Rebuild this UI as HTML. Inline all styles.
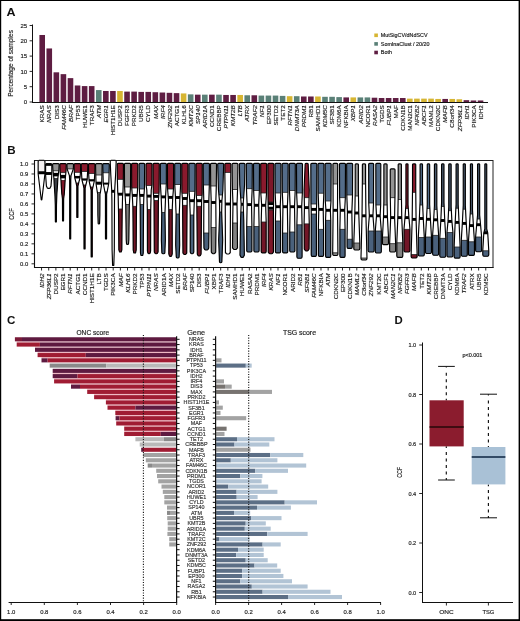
<!DOCTYPE html>
<html><head><meta charset="utf-8"><title>Figure</title>
<style>html,body{margin:0;padding:0;background:#fff;width:520px;height:621px;overflow:hidden;font-family:"Liberation Sans", sans-serif;} svg{display:block;will-change:transform;}</style>
</head><body>
<svg width="520" height="621" viewBox="0 0 520 621" font-family='"Liberation Sans", sans-serif'><rect width="520" height="621" fill="#fff"/><g id="panelA">
<text transform="translate(6.50,15.60) scale(1.12,1)" font-size="11.2" font-weight="bold" fill="#111">A</text>
<rect x="39.40" y="34.99" width="5.6" height="67.01" fill="#5e1d42"/>
<rect x="46.47" y="48.45" width="5.6" height="53.55" fill="#5e1d42"/>
<rect x="53.54" y="72.32" width="5.6" height="29.68" fill="#5e1d42"/>
<rect x="60.61" y="74.15" width="5.6" height="27.85" fill="#5e1d42"/>
<rect x="67.68" y="78.13" width="5.6" height="23.87" fill="#5e1d42"/>
<rect x="74.75" y="85.48" width="5.6" height="16.52" fill="#5e1d42"/>
<rect x="81.82" y="86.09" width="5.6" height="15.91" fill="#5e1d42"/>
<rect x="88.89" y="86.09" width="5.6" height="15.91" fill="#5e1d42"/>
<rect x="95.96" y="90.07" width="5.6" height="11.93" fill="#5a8077"/>
<rect x="103.03" y="90.98" width="5.6" height="11.02" fill="#5e1d42"/>
<rect x="110.10" y="90.98" width="5.6" height="11.02" fill="#5e1d42"/>
<rect x="117.17" y="90.98" width="5.6" height="11.02" fill="#d6b532"/>
<rect x="124.24" y="91.60" width="5.6" height="10.40" fill="#5e1d42"/>
<rect x="131.31" y="91.60" width="5.6" height="10.40" fill="#5e1d42"/>
<rect x="138.38" y="91.90" width="5.6" height="10.10" fill="#5e1d42"/>
<rect x="145.45" y="91.90" width="5.6" height="10.10" fill="#5e1d42"/>
<rect x="152.52" y="92.21" width="5.6" height="9.79" fill="#5e1d42"/>
<rect x="159.59" y="92.51" width="5.6" height="9.49" fill="#5e1d42"/>
<rect x="166.66" y="92.82" width="5.6" height="9.18" fill="#5e1d42"/>
<rect x="173.73" y="93.13" width="5.6" height="8.87" fill="#5e1d42"/>
<rect x="180.80" y="93.43" width="5.6" height="8.57" fill="#d6b532"/>
<rect x="187.87" y="94.35" width="5.6" height="7.65" fill="#5a8077"/>
<rect x="194.94" y="94.66" width="5.6" height="7.34" fill="#5e1d42"/>
<rect x="202.01" y="94.66" width="5.6" height="7.34" fill="#5a8077"/>
<rect x="209.08" y="94.66" width="5.6" height="7.34" fill="#5e1d42"/>
<rect x="216.15" y="94.66" width="5.6" height="7.34" fill="#5a8077"/>
<rect x="223.22" y="94.96" width="5.6" height="7.04" fill="#5e1d42"/>
<rect x="230.29" y="94.96" width="5.6" height="7.04" fill="#5e1d42"/>
<rect x="237.36" y="94.96" width="5.6" height="7.04" fill="#d6b532"/>
<rect x="244.43" y="95.27" width="5.6" height="6.73" fill="#5a8077"/>
<rect x="251.50" y="95.27" width="5.6" height="6.73" fill="#5e1d42"/>
<rect x="258.57" y="95.57" width="5.6" height="6.43" fill="#5a8077"/>
<rect x="265.64" y="95.57" width="5.6" height="6.43" fill="#5a8077"/>
<rect x="272.71" y="95.57" width="5.6" height="6.43" fill="#5a8077"/>
<rect x="279.78" y="95.88" width="5.6" height="6.12" fill="#5a8077"/>
<rect x="286.85" y="96.19" width="5.6" height="5.81" fill="#d6b532"/>
<rect x="293.92" y="96.19" width="5.6" height="5.81" fill="#5a8077"/>
<rect x="300.99" y="96.49" width="5.6" height="5.51" fill="#5e1d42"/>
<rect x="308.06" y="96.49" width="5.6" height="5.51" fill="#5e1d42"/>
<rect x="315.13" y="96.49" width="5.6" height="5.51" fill="#d6b532"/>
<rect x="322.20" y="96.80" width="5.6" height="5.20" fill="#5a8077"/>
<rect x="329.27" y="96.80" width="5.6" height="5.20" fill="#5a8077"/>
<rect x="336.34" y="97.10" width="5.6" height="4.90" fill="#5a8077"/>
<rect x="343.41" y="97.41" width="5.6" height="4.59" fill="#5e1d42"/>
<rect x="350.48" y="97.41" width="5.6" height="4.59" fill="#d6b532"/>
<rect x="357.55" y="97.41" width="5.6" height="4.59" fill="#5a8077"/>
<rect x="364.62" y="97.41" width="5.6" height="4.59" fill="#5a8077"/>
<rect x="371.69" y="97.72" width="5.6" height="4.28" fill="#5e1d42"/>
<rect x="378.76" y="98.02" width="5.6" height="3.98" fill="#5e1d42"/>
<rect x="385.83" y="98.02" width="5.6" height="3.98" fill="#5e1d42"/>
<rect x="392.90" y="98.02" width="5.6" height="3.98" fill="#5e1d42"/>
<rect x="399.97" y="98.02" width="5.6" height="3.98" fill="#5e1d42"/>
<rect x="407.04" y="98.63" width="5.6" height="3.37" fill="#d6b532"/>
<rect x="414.11" y="98.63" width="5.6" height="3.37" fill="#d6b532"/>
<rect x="421.18" y="98.63" width="5.6" height="3.37" fill="#d6b532"/>
<rect x="428.25" y="98.63" width="5.6" height="3.37" fill="#d6b532"/>
<rect x="435.32" y="98.94" width="5.6" height="3.06" fill="#d6b532"/>
<rect x="442.39" y="98.94" width="5.6" height="3.06" fill="#5e1d42"/>
<rect x="449.46" y="98.94" width="5.6" height="3.06" fill="#d6b532"/>
<rect x="456.53" y="99.25" width="5.6" height="2.75" fill="#d6b532"/>
<rect x="463.60" y="100.16" width="5.6" height="1.84" fill="#5e1d42"/>
<rect x="470.67" y="100.47" width="5.6" height="1.53" fill="#5e1d42"/>
<rect x="477.74" y="100.47" width="5.6" height="1.53" fill="#5e1d42"/>
<line x1="32.5" y1="24.5" x2="32.5" y2="103" stroke="#111" stroke-width="1"/>
<line x1="32" y1="102.5" x2="488" y2="102.5" stroke="#111" stroke-width="1"/>
<line x1="29.6" y1="102.00" x2="32.5" y2="102.00" stroke="#111" stroke-width="0.9"/>
<text transform="translate(27.20,104.10)" font-size="6" text-anchor="end" fill="#1c1c1c" stroke="#1c1c1c" stroke-width="0.16">0</text>
<line x1="29.6" y1="86.70" x2="32.5" y2="86.70" stroke="#111" stroke-width="0.9"/>
<text transform="translate(27.20,88.80)" font-size="6" text-anchor="end" fill="#1c1c1c" stroke="#1c1c1c" stroke-width="0.16">5</text>
<line x1="29.6" y1="71.40" x2="32.5" y2="71.40" stroke="#111" stroke-width="0.9"/>
<text transform="translate(27.20,73.50)" font-size="6" text-anchor="end" fill="#1c1c1c" stroke="#1c1c1c" stroke-width="0.16">10</text>
<line x1="29.6" y1="56.10" x2="32.5" y2="56.10" stroke="#111" stroke-width="0.9"/>
<text transform="translate(27.20,58.20)" font-size="6" text-anchor="end" fill="#1c1c1c" stroke="#1c1c1c" stroke-width="0.16">15</text>
<line x1="29.6" y1="40.80" x2="32.5" y2="40.80" stroke="#111" stroke-width="0.9"/>
<text transform="translate(27.20,42.90)" font-size="6" text-anchor="end" fill="#1c1c1c" stroke="#1c1c1c" stroke-width="0.16">20</text>
<line x1="29.6" y1="25.50" x2="32.5" y2="25.50" stroke="#111" stroke-width="0.9"/>
<text transform="translate(27.20,27.60)" font-size="6" text-anchor="end" fill="#1c1c1c" stroke="#1c1c1c" stroke-width="0.16">25</text>
<text transform="translate(13.20,63.40) rotate(-90) scale(1.035,1)" font-size="6.3" text-anchor="middle" fill="#1c1c1c" stroke="#1c1c1c" stroke-width="0.16">Percentage of samples</text>
<text transform="translate(44.40,105.20) rotate(-90) scale(1.02,1)" font-size="6.2" text-anchor="end" fill="#1c1c1c" stroke="#1c1c1c" stroke-width="0.16">KRAS</text>
<text transform="translate(51.47,105.20) rotate(-90) scale(1.02,1)" font-size="6.2" font-style="italic" text-anchor="end" fill="#1c1c1c" stroke="#1c1c1c" stroke-width="0.16">NRAS</text>
<text transform="translate(58.54,105.20) rotate(-90) scale(1.02,1)" font-size="6.2" text-anchor="end" fill="#1c1c1c" stroke="#1c1c1c" stroke-width="0.16">DIS3</text>
<text transform="translate(65.61,105.20) rotate(-90) scale(1.02,1)" font-size="6.2" font-style="italic" text-anchor="end" fill="#1c1c1c" stroke="#1c1c1c" stroke-width="0.16">FAM46C</text>
<text transform="translate(72.68,105.20) rotate(-90) scale(1.02,1)" font-size="6.2" font-style="italic" text-anchor="end" fill="#1c1c1c" stroke="#1c1c1c" stroke-width="0.16">BRAF</text>
<text transform="translate(79.75,105.20) rotate(-90) scale(1.02,1)" font-size="6.2" text-anchor="end" fill="#1c1c1c" stroke="#1c1c1c" stroke-width="0.16">TP53</text>
<text transform="translate(86.82,105.20) rotate(-90) scale(1.02,1)" font-size="6.2" text-anchor="end" fill="#1c1c1c" stroke="#1c1c1c" stroke-width="0.16">HUWE1</text>
<text transform="translate(93.89,105.20) rotate(-90) scale(1.02,1)" font-size="6.2" text-anchor="end" fill="#1c1c1c" stroke="#1c1c1c" stroke-width="0.16">TRAF3</text>
<text transform="translate(100.96,105.20) rotate(-90) scale(1.02,1)" font-size="6.2" font-style="italic" text-anchor="end" fill="#1c1c1c" stroke="#1c1c1c" stroke-width="0.16">ATM</text>
<text transform="translate(108.03,105.20) rotate(-90) scale(1.02,1)" font-size="6.2" font-style="italic" text-anchor="end" fill="#1c1c1c" stroke="#1c1c1c" stroke-width="0.16">EGR1</text>
<text transform="translate(115.10,105.20) rotate(-90) scale(1.02,1)" font-size="6.2" text-anchor="end" fill="#1c1c1c" stroke="#1c1c1c" stroke-width="0.16">HIST1H1E</text>
<text transform="translate(122.17,105.20) rotate(-90) scale(1.02,1)" font-size="6.2" text-anchor="end" fill="#1c1c1c" stroke="#1c1c1c" stroke-width="0.16">DUSP2</text>
<text transform="translate(129.24,105.20) rotate(-90) scale(1.02,1)" font-size="6.2" text-anchor="end" fill="#1c1c1c" stroke="#1c1c1c" stroke-width="0.16">FGFR3</text>
<text transform="translate(136.31,105.20) rotate(-90) scale(1.02,1)" font-size="6.2" text-anchor="end" fill="#1c1c1c" stroke="#1c1c1c" stroke-width="0.16">PRKD2</text>
<text transform="translate(143.38,105.20) rotate(-90) scale(1.02,1)" font-size="6.2" text-anchor="end" fill="#1c1c1c" stroke="#1c1c1c" stroke-width="0.16">UBR5</text>
<text transform="translate(150.45,105.20) rotate(-90) scale(1.02,1)" font-size="6.2" text-anchor="end" fill="#1c1c1c" stroke="#1c1c1c" stroke-width="0.16">CYLD</text>
<text transform="translate(157.52,105.20) rotate(-90) scale(1.02,1)" font-size="6.2" font-style="italic" text-anchor="end" fill="#1c1c1c" stroke="#1c1c1c" stroke-width="0.16">MAX</text>
<text transform="translate(164.59,105.20) rotate(-90) scale(1.02,1)" font-size="6.2" font-style="italic" text-anchor="end" fill="#1c1c1c" stroke="#1c1c1c" stroke-width="0.16">IRF4</text>
<text transform="translate(171.66,105.20) rotate(-90) scale(1.02,1)" font-size="6.2" font-style="italic" text-anchor="end" fill="#1c1c1c" stroke="#1c1c1c" stroke-width="0.16">ZNF292</text>
<text transform="translate(178.73,105.20) rotate(-90) scale(1.02,1)" font-size="6.2" text-anchor="end" fill="#1c1c1c" stroke="#1c1c1c" stroke-width="0.16">ACTG1</text>
<text transform="translate(185.80,105.20) rotate(-90) scale(1.02,1)" font-size="6.2" text-anchor="end" fill="#1c1c1c" stroke="#1c1c1c" stroke-width="0.16">KLHL6</text>
<text transform="translate(192.87,105.20) rotate(-90) scale(1.02,1)" font-size="6.2" font-style="italic" text-anchor="end" fill="#1c1c1c" stroke="#1c1c1c" stroke-width="0.16">KMT2C</text>
<text transform="translate(199.94,105.20) rotate(-90) scale(1.02,1)" font-size="6.2" font-style="italic" text-anchor="end" fill="#1c1c1c" stroke="#1c1c1c" stroke-width="0.16">SP140</text>
<text transform="translate(207.01,105.20) rotate(-90) scale(1.02,1)" font-size="6.2" font-style="italic" text-anchor="end" fill="#1c1c1c" stroke="#1c1c1c" stroke-width="0.16">ARID1A</text>
<text transform="translate(214.08,105.20) rotate(-90) scale(1.02,1)" font-size="6.2" text-anchor="end" fill="#1c1c1c" stroke="#1c1c1c" stroke-width="0.16">CCND1</text>
<text transform="translate(221.15,105.20) rotate(-90) scale(1.02,1)" font-size="6.2" text-anchor="end" fill="#1c1c1c" stroke="#1c1c1c" stroke-width="0.16">CREBBP</text>
<text transform="translate(228.22,105.20) rotate(-90) scale(1.02,1)" font-size="6.2" font-style="italic" text-anchor="end" fill="#1c1c1c" stroke="#1c1c1c" stroke-width="0.16">PTPN11</text>
<text transform="translate(235.29,105.20) rotate(-90) scale(1.02,1)" font-size="6.2" font-style="italic" text-anchor="end" fill="#1c1c1c" stroke="#1c1c1c" stroke-width="0.16">KMT2B</text>
<text transform="translate(242.36,105.20) rotate(-90) scale(1.02,1)" font-size="6.2" font-style="italic" text-anchor="end" fill="#1c1c1c" stroke="#1c1c1c" stroke-width="0.16">LTB</text>
<text transform="translate(249.43,105.20) rotate(-90) scale(1.02,1)" font-size="6.2" font-style="italic" text-anchor="end" fill="#1c1c1c" stroke="#1c1c1c" stroke-width="0.16">ATRX</text>
<text transform="translate(256.50,105.20) rotate(-90) scale(1.02,1)" font-size="6.2" font-style="italic" text-anchor="end" fill="#1c1c1c" stroke="#1c1c1c" stroke-width="0.16">TRAF2</text>
<text transform="translate(263.57,105.20) rotate(-90) scale(1.02,1)" font-size="6.2" font-style="italic" text-anchor="end" fill="#1c1c1c" stroke="#1c1c1c" stroke-width="0.16">NF1</text>
<text transform="translate(270.64,105.20) rotate(-90) scale(1.02,1)" font-size="6.2" text-anchor="end" fill="#1c1c1c" stroke="#1c1c1c" stroke-width="0.16">EP300</text>
<text transform="translate(277.71,105.20) rotate(-90) scale(1.02,1)" font-size="6.2" text-anchor="end" fill="#1c1c1c" stroke="#1c1c1c" stroke-width="0.16">SETD2</text>
<text transform="translate(284.78,105.20) rotate(-90) scale(1.02,1)" font-size="6.2" text-anchor="end" fill="#1c1c1c" stroke="#1c1c1c" stroke-width="0.16">TET2</text>
<text transform="translate(291.85,105.20) rotate(-90) scale(1.02,1)" font-size="6.2" font-style="italic" text-anchor="end" fill="#1c1c1c" stroke="#1c1c1c" stroke-width="0.16">RFTN1</text>
<text transform="translate(298.92,105.20) rotate(-90) scale(1.02,1)" font-size="6.2" font-style="italic" text-anchor="end" fill="#1c1c1c" stroke="#1c1c1c" stroke-width="0.16">DNMT3A</text>
<text transform="translate(305.99,105.20) rotate(-90) scale(1.02,1)" font-size="6.2" font-style="italic" text-anchor="end" fill="#1c1c1c" stroke="#1c1c1c" stroke-width="0.16">PRDM1</text>
<text transform="translate(313.06,105.20) rotate(-90) scale(1.02,1)" font-size="6.2" text-anchor="end" fill="#1c1c1c" stroke="#1c1c1c" stroke-width="0.16">RB1</text>
<text transform="translate(320.13,105.20) rotate(-90) scale(1.02,1)" font-size="6.2" text-anchor="end" fill="#1c1c1c" stroke="#1c1c1c" stroke-width="0.16">SAMHD1</text>
<text transform="translate(327.20,105.20) rotate(-90) scale(1.02,1)" font-size="6.2" font-style="italic" text-anchor="end" fill="#1c1c1c" stroke="#1c1c1c" stroke-width="0.16">KDM5C</text>
<text transform="translate(334.27,105.20) rotate(-90) scale(1.02,1)" font-size="6.2" text-anchor="end" fill="#1c1c1c" stroke="#1c1c1c" stroke-width="0.16">SF3B1</text>
<text transform="translate(341.34,105.20) rotate(-90) scale(1.02,1)" font-size="6.2" text-anchor="end" fill="#1c1c1c" stroke="#1c1c1c" stroke-width="0.16">KDM6A</text>
<text transform="translate(348.41,105.20) rotate(-90) scale(1.02,1)" font-size="6.2" text-anchor="end" fill="#1c1c1c" stroke="#1c1c1c" stroke-width="0.16">NFKBIA</text>
<text transform="translate(355.48,105.20) rotate(-90) scale(1.02,1)" font-size="6.2" font-style="italic" text-anchor="end" fill="#1c1c1c" stroke="#1c1c1c" stroke-width="0.16">XBP1</text>
<text transform="translate(362.55,105.20) rotate(-90) scale(1.02,1)" font-size="6.2" font-style="italic" text-anchor="end" fill="#1c1c1c" stroke="#1c1c1c" stroke-width="0.16">ARID2</text>
<text transform="translate(369.62,105.20) rotate(-90) scale(1.02,1)" font-size="6.2" text-anchor="end" fill="#1c1c1c" stroke="#1c1c1c" stroke-width="0.16">NCOR1</text>
<text transform="translate(376.69,105.20) rotate(-90) scale(1.02,1)" font-size="6.2" font-style="italic" text-anchor="end" fill="#1c1c1c" stroke="#1c1c1c" stroke-width="0.16">RASA2</text>
<text transform="translate(383.76,105.20) rotate(-90) scale(1.02,1)" font-size="6.2" text-anchor="end" fill="#1c1c1c" stroke="#1c1c1c" stroke-width="0.16">TGDS</text>
<text transform="translate(390.83,105.20) rotate(-90) scale(1.02,1)" font-size="6.2" font-style="italic" text-anchor="end" fill="#1c1c1c" stroke="#1c1c1c" stroke-width="0.16">FUBP1</text>
<text transform="translate(397.90,105.20) rotate(-90) scale(1.02,1)" font-size="6.2" text-anchor="end" fill="#1c1c1c" stroke="#1c1c1c" stroke-width="0.16">MAF</text>
<text transform="translate(404.97,105.20) rotate(-90) scale(1.02,1)" font-size="6.2" text-anchor="end" fill="#1c1c1c" stroke="#1c1c1c" stroke-width="0.16">CDKN1B</text>
<text transform="translate(412.04,105.20) rotate(-90) scale(1.02,1)" font-size="6.2" text-anchor="end" fill="#1c1c1c" stroke="#1c1c1c" stroke-width="0.16">MAN2C1</text>
<text transform="translate(419.11,105.20) rotate(-90) scale(1.02,1)" font-size="6.2" font-style="italic" text-anchor="end" fill="#1c1c1c" stroke="#1c1c1c" stroke-width="0.16">NFKB2</text>
<text transform="translate(426.18,105.20) rotate(-90) scale(1.02,1)" font-size="6.2" font-style="italic" text-anchor="end" fill="#1c1c1c" stroke="#1c1c1c" stroke-width="0.16">ABCF1</text>
<text transform="translate(433.25,105.20) rotate(-90) scale(1.02,1)" font-size="6.2" text-anchor="end" fill="#1c1c1c" stroke="#1c1c1c" stroke-width="0.16">MAML2</text>
<text transform="translate(440.32,105.20) rotate(-90) scale(1.02,1)" font-size="6.2" text-anchor="end" fill="#1c1c1c" stroke="#1c1c1c" stroke-width="0.16">CDKN2C</text>
<text transform="translate(447.39,105.20) rotate(-90) scale(1.02,1)" font-size="6.2" font-style="italic" text-anchor="end" fill="#1c1c1c" stroke="#1c1c1c" stroke-width="0.16">MAFB</text>
<text transform="translate(454.46,105.20) rotate(-90) scale(1.02,1)" font-size="6.2" text-anchor="end" fill="#1c1c1c" stroke="#1c1c1c" stroke-width="0.16">C8orf34</text>
<text transform="translate(461.53,105.20) rotate(-90) scale(1.02,1)" font-size="6.2" font-style="italic" text-anchor="end" fill="#1c1c1c" stroke="#1c1c1c" stroke-width="0.16">ZFP36L1</text>
<text transform="translate(468.60,105.20) rotate(-90) scale(1.02,1)" font-size="6.2" font-style="italic" text-anchor="end" fill="#1c1c1c" stroke="#1c1c1c" stroke-width="0.16">IDH1</text>
<text transform="translate(475.67,105.20) rotate(-90) scale(1.02,1)" font-size="6.2" text-anchor="end" fill="#1c1c1c" stroke="#1c1c1c" stroke-width="0.16">PIK3CA</text>
<text transform="translate(482.74,105.20) rotate(-90) scale(1.02,1)" font-size="6.2" text-anchor="end" fill="#1c1c1c" stroke="#1c1c1c" stroke-width="0.16">IDH2</text>
<rect x="374.3" y="33.50" width="3.6" height="3.6" fill="#d6b532"/>
<text transform="translate(380.80,37.10) scale(1.08,1)" font-size="5.0" fill="#1c1c1c" stroke="#1c1c1c" stroke-width="0.16">MutSigCV/dNdSCV</text>
<rect x="374.3" y="42.10" width="3.6" height="3.6" fill="#5a8077"/>
<text transform="translate(380.80,45.70) scale(1.08,1)" font-size="5.0" fill="#1c1c1c" stroke="#1c1c1c" stroke-width="0.16">SomInaClust / 20/20</text>
<rect x="374.3" y="50.70" width="3.6" height="3.6" fill="#5e1d42"/>
<text transform="translate(380.80,54.30) scale(1.08,1)" font-size="5.0" fill="#1c1c1c" stroke="#1c1c1c" stroke-width="0.16">Both</text>
</g>
<g id="panelB">
<text transform="translate(7.30,153.60)" font-size="11.6" font-weight="bold" fill="#111">B</text>
<clipPath id="vc0"><path d="M38.15,161.40 Q38.15,160.40 39.15,160.40 L43.95,160.40 Q44.95,160.40 44.95,161.40 L44.95,173.70 L41.85,199.72 Q41.85,199.90 41.55,199.90 Q41.25,199.90 41.25,199.72 L38.15,173.70 Z"/></clipPath>
<path d="M38.15,161.40 Q38.15,160.40 39.15,160.40 L43.95,160.40 Q44.95,160.40 44.95,161.40 L44.95,173.70 L41.85,199.72 Q41.85,199.90 41.55,199.90 Q41.25,199.90 41.25,199.72 L38.15,173.70 Z" fill="#f4f1f1"/>
<g clip-path="url(#vc0)">
<rect x="37.55" y="173.70" width="8" height="27.30" fill="#ffffff"/>
<rect x="37.55" y="173.30" width="8" height="0.8" fill="#222"/>
<rect x="37.55" y="200.60" width="8" height="0.8" fill="#222"/>
<rect x="37.55" y="171.25" width="8" height="2.9" fill="#000"/>
</g>
<path d="M38.15,161.40 Q38.15,160.40 39.15,160.40 L43.95,160.40 Q44.95,160.40 44.95,161.40 L44.95,173.70 L41.85,199.72 Q41.85,199.90 41.55,199.90 Q41.25,199.90 41.25,199.72 L38.15,173.70 Z" fill="none" stroke="#000" stroke-width="1.15"/>
<clipPath id="vc1"><path d="M45.61,164.60 Q45.61,163.60 46.61,163.60 L50.81,163.60 Q51.81,163.60 51.81,164.60 L51.81,175.00 L51.01,186.00 L50.31,187.40 Q50.31,188.30 49.41,188.30 L48.01,188.30 Q47.11,188.30 47.11,187.40 L46.41,186.00 L45.61,175.00 Z"/></clipPath>
<path d="M45.61,164.60 Q45.61,163.60 46.61,163.60 L50.81,163.60 Q51.81,163.60 51.81,164.60 L51.81,175.00 L51.01,186.00 L50.31,187.40 Q50.31,188.30 49.41,188.30 L48.01,188.30 Q47.11,188.30 47.11,187.40 L46.41,186.00 L45.61,175.00 Z" fill="#ffffff"/>
<g clip-path="url(#vc1)">
<rect x="44.71" y="172.05" width="8" height="2.9" fill="#000"/>
<rect x="44.71" y="162.95" width="8" height="2.9" fill="#000"/>
</g>
<path d="M45.61,164.60 Q45.61,163.60 46.61,163.60 L50.81,163.60 Q51.81,163.60 51.81,164.60 L51.81,175.00 L51.01,186.00 L50.31,187.40 Q50.31,188.30 49.41,188.30 L48.01,188.30 Q47.11,188.30 47.11,187.40 L46.41,186.00 L45.61,175.00 Z" fill="none" stroke="#000" stroke-width="1.15"/>
<clipPath id="vc2"><path d="M52.58,164.60 Q52.58,163.60 53.58,163.60 L58.18,163.60 Q59.18,163.60 59.18,164.60 L58.88,170.00 L57.88,178.00 L57.58,184.00 L56.88,194.00 L56.48,205.00 L56.38,221.70 Q56.38,222.00 55.88,222.00 Q55.38,222.00 55.38,221.70 L55.28,205.00 L54.88,194.00 L54.18,184.00 L53.88,178.00 L52.88,170.00 Z"/></clipPath>
<path d="M52.58,164.60 Q52.58,163.60 53.58,163.60 L58.18,163.60 Q59.18,163.60 59.18,164.60 L58.88,170.00 L57.88,178.00 L57.58,184.00 L56.88,194.00 L56.48,205.00 L56.38,221.70 Q56.38,222.00 55.88,222.00 Q55.38,222.00 55.38,221.70 L55.28,205.00 L54.88,194.00 L54.18,184.00 L53.88,178.00 L52.88,170.00 Z" fill="#949494"/>
<g clip-path="url(#vc2)">
<rect x="51.88" y="178.50" width="8" height="45.50" fill="#828282"/>
<rect x="51.88" y="170.80" width="8" height="7.70" fill="#ffffff"/>
<rect x="51.88" y="170.40" width="8" height="0.8" fill="#222"/>
<rect x="51.88" y="178.10" width="8" height="0.8" fill="#222"/>
<rect x="51.88" y="178.50" width="8" height="51.50" fill="#3a3d44"/>
<rect x="51.88" y="172.85" width="8" height="3.5" fill="#000"/>
</g>
<path d="M52.58,164.60 Q52.58,163.60 53.58,163.60 L58.18,163.60 Q59.18,163.60 59.18,164.60 L58.88,170.00 L57.88,178.00 L57.58,184.00 L56.88,194.00 L56.48,205.00 L56.38,221.70 Q56.38,222.00 55.88,222.00 Q55.38,222.00 55.38,221.70 L55.28,205.00 L54.88,194.00 L54.18,184.00 L53.88,178.00 L52.88,170.00 Z" fill="none" stroke="#000" stroke-width="1.15"/>
<clipPath id="vc3"><path d="M59.84,164.60 Q59.84,163.60 60.84,163.60 L65.25,163.60 Q66.25,163.60 66.25,164.60 L66.05,171.00 L65.14,180.00 L64.84,186.00 L64.25,194.00 L63.65,199.00 L63.55,220.70 Q63.55,221.00 63.05,221.00 Q62.55,221.00 62.55,220.70 L62.45,199.00 L61.84,194.00 L61.25,186.00 L60.95,180.00 L60.05,171.00 Z"/></clipPath>
<path d="M59.84,164.60 Q59.84,163.60 60.84,163.60 L65.25,163.60 Q66.25,163.60 66.25,164.60 L66.05,171.00 L65.14,180.00 L64.84,186.00 L64.25,194.00 L63.65,199.00 L63.55,220.70 Q63.55,221.00 63.05,221.00 Q62.55,221.00 62.55,220.70 L62.45,199.00 L61.84,194.00 L61.25,186.00 L60.95,180.00 L60.05,171.00 Z" fill="#8a1a2d"/>
<g clip-path="url(#vc3)">
<rect x="59.05" y="180.50" width="8" height="42.50" fill="#721627"/>
<rect x="59.05" y="172.70" width="8" height="7.80" fill="#ffffff"/>
<rect x="59.05" y="172.30" width="8" height="0.8" fill="#222"/>
<rect x="59.05" y="180.10" width="8" height="0.8" fill="#222"/>
<rect x="59.05" y="180.50" width="8" height="49.50" fill="#7d1729"/>
<rect x="59.05" y="174.85" width="8" height="3.5" fill="#000"/>
</g>
<path d="M59.84,164.60 Q59.84,163.60 60.84,163.60 L65.25,163.60 Q66.25,163.60 66.25,164.60 L66.05,171.00 L65.14,180.00 L64.84,186.00 L64.25,194.00 L63.65,199.00 L63.55,220.70 Q63.55,221.00 63.05,221.00 Q62.55,221.00 62.55,220.70 L62.45,199.00 L61.84,194.00 L61.25,186.00 L60.95,180.00 L60.05,171.00 Z" fill="none" stroke="#000" stroke-width="1.15"/>
<clipPath id="vc4"><path d="M66.91,164.60 Q66.91,163.60 67.91,163.60 L72.51,163.60 Q73.51,163.60 73.51,164.60 L73.31,169.00 L71.01,175.60 L70.76,180.00 L70.71,238.70 Q70.71,239.00 70.21,239.00 Q69.71,239.00 69.71,238.70 L69.66,180.00 L69.41,175.60 L67.11,169.00 Z"/></clipPath>
<path d="M66.91,164.60 Q66.91,163.60 67.91,163.60 L72.51,163.60 Q73.51,163.60 73.51,164.60 L73.31,169.00 L71.01,175.60 L70.76,180.00 L70.71,238.70 Q70.71,239.00 70.21,239.00 Q69.71,239.00 69.71,238.70 L69.66,180.00 L69.41,175.60 L67.11,169.00 Z" fill="#949494"/>
<g clip-path="url(#vc4)">
<rect x="66.21" y="176.00" width="8" height="65.00" fill="#828282"/>
<rect x="66.21" y="168.90" width="8" height="7.10" fill="#ffffff"/>
<rect x="66.21" y="168.50" width="8" height="0.8" fill="#222"/>
<rect x="66.21" y="175.60" width="8" height="0.8" fill="#222"/>
</g>
<path d="M66.91,164.60 Q66.91,163.60 67.91,163.60 L72.51,163.60 Q73.51,163.60 73.51,164.60 L73.31,169.00 L71.01,175.60 L70.76,180.00 L70.71,238.70 Q70.71,239.00 70.21,239.00 Q69.71,239.00 69.71,238.70 L69.66,180.00 L69.41,175.60 L67.11,169.00 Z" fill="none" stroke="#000" stroke-width="1.15"/>
<clipPath id="vc5"><path d="M74.08,164.60 Q74.08,163.60 75.08,163.60 L79.67,163.60 Q80.67,163.60 80.67,164.60 L80.47,172.00 L79.97,178.00 L78.88,182.00 L77.97,186.00 L77.92,217.17 Q77.92,217.50 77.38,217.50 Q76.83,217.50 76.83,217.17 L76.78,186.00 L75.88,182.00 L74.78,178.00 L74.28,172.00 Z"/></clipPath>
<path d="M74.08,164.60 Q74.08,163.60 75.08,163.60 L79.67,163.60 Q80.67,163.60 80.67,164.60 L80.47,172.00 L79.97,178.00 L78.88,182.00 L77.97,186.00 L77.92,217.17 Q77.92,217.50 77.38,217.50 Q76.83,217.50 76.83,217.17 L76.78,186.00 L75.88,182.00 L74.78,178.00 L74.28,172.00 Z" fill="#8a1a2d"/>
<g clip-path="url(#vc5)">
<rect x="73.38" y="183.00" width="8" height="36.50" fill="#721627"/>
<rect x="73.38" y="172.30" width="8" height="10.70" fill="#ffffff"/>
<rect x="73.38" y="171.90" width="8" height="0.8" fill="#222"/>
<rect x="73.38" y="182.60" width="8" height="0.8" fill="#222"/>
<rect x="73.38" y="175.95" width="8" height="2.5" fill="#000"/>
</g>
<path d="M74.08,164.60 Q74.08,163.60 75.08,163.60 L79.67,163.60 Q80.67,163.60 80.67,164.60 L80.47,172.00 L79.97,178.00 L78.88,182.00 L77.97,186.00 L77.92,217.17 Q77.92,217.50 77.38,217.50 Q76.83,217.50 76.83,217.17 L76.78,186.00 L75.88,182.00 L74.78,178.00 L74.28,172.00 Z" fill="none" stroke="#000" stroke-width="1.15"/>
<clipPath id="vc6"><path d="M81.24,164.60 Q81.24,163.60 82.24,163.60 L86.84,163.60 Q87.84,163.60 87.84,164.60 L87.64,171.00 L87.14,180.00 L85.94,184.50 L85.14,188.00 L85.09,248.67 Q85.09,249.00 84.54,249.00 Q83.99,249.00 83.99,248.67 L83.94,188.00 L83.14,184.50 L81.94,180.00 L81.44,171.00 Z"/></clipPath>
<path d="M81.24,164.60 Q81.24,163.60 82.24,163.60 L86.84,163.60 Q87.84,163.60 87.84,164.60 L87.64,171.00 L87.14,180.00 L85.94,184.50 L85.14,188.00 L85.09,248.67 Q85.09,249.00 84.54,249.00 Q83.99,249.00 83.99,248.67 L83.94,188.00 L83.14,184.50 L81.94,180.00 L81.44,171.00 Z" fill="#8a1a2d"/>
<g clip-path="url(#vc6)">
<rect x="80.54" y="185.00" width="8" height="66.00" fill="#721627"/>
<rect x="80.54" y="171.50" width="8" height="13.50" fill="#ffffff"/>
<rect x="80.54" y="171.10" width="8" height="0.8" fill="#222"/>
<rect x="80.54" y="184.60" width="8" height="0.8" fill="#222"/>
<rect x="80.54" y="178.40" width="8" height="2.2" fill="#000"/>
</g>
<path d="M81.24,164.60 Q81.24,163.60 82.24,163.60 L86.84,163.60 Q87.84,163.60 87.84,164.60 L87.64,171.00 L87.14,180.00 L85.94,184.50 L85.14,188.00 L85.09,248.67 Q85.09,249.00 84.54,249.00 Q83.99,249.00 83.99,248.67 L83.94,188.00 L83.14,184.50 L81.94,180.00 L81.44,171.00 Z" fill="none" stroke="#000" stroke-width="1.15"/>
<clipPath id="vc7"><path d="M88.41,164.60 Q88.41,163.60 89.41,163.60 L94.00,163.60 Q95.00,163.60 95.00,164.60 L94.80,173.00 L94.30,181.00 L93.11,186.50 L92.30,190.00 L92.25,256.67 Q92.25,257.00 91.70,257.00 Q91.16,257.00 91.16,256.67 L91.11,190.00 L90.30,186.50 L89.11,181.00 L88.61,173.00 Z"/></clipPath>
<path d="M88.41,164.60 Q88.41,163.60 89.41,163.60 L94.00,163.60 Q95.00,163.60 95.00,164.60 L94.80,173.00 L94.30,181.00 L93.11,186.50 L92.30,190.00 L92.25,256.67 Q92.25,257.00 91.70,257.00 Q91.16,257.00 91.16,256.67 L91.11,190.00 L90.30,186.50 L89.11,181.00 L88.61,173.00 Z" fill="#8a1a2d"/>
<g clip-path="url(#vc7)">
<rect x="87.70" y="187.00" width="8" height="72.00" fill="#721627"/>
<rect x="87.70" y="173.50" width="8" height="13.50" fill="#ffffff"/>
<rect x="87.70" y="173.10" width="8" height="0.8" fill="#222"/>
<rect x="87.70" y="186.60" width="8" height="0.8" fill="#222"/>
<rect x="87.70" y="179.20" width="8" height="2.2" fill="#000"/>
</g>
<path d="M88.41,164.60 Q88.41,163.60 89.41,163.60 L94.00,163.60 Q95.00,163.60 95.00,164.60 L94.80,173.00 L94.30,181.00 L93.11,186.50 L92.30,190.00 L92.25,256.67 Q92.25,257.00 91.70,257.00 Q91.16,257.00 91.16,256.67 L91.11,190.00 L90.30,186.50 L89.11,181.00 L88.61,173.00 Z" fill="none" stroke="#000" stroke-width="1.15"/>
<clipPath id="vc8"><path d="M95.57,164.60 Q95.57,163.60 96.57,163.60 L101.17,163.60 Q102.17,163.60 102.17,164.60 L101.97,175.00 L101.67,184.00 L100.47,192.00 L99.97,194.00 L99.87,215.00 L99.57,223.58 Q99.57,224.00 98.87,224.00 Q98.17,224.00 98.17,223.58 L97.87,215.00 L97.77,194.00 L97.27,192.00 L96.07,184.00 L95.77,175.00 Z"/></clipPath>
<path d="M95.57,164.60 Q95.57,163.60 96.57,163.60 L101.17,163.60 Q102.17,163.60 102.17,164.60 L101.97,175.00 L101.67,184.00 L100.47,192.00 L99.97,194.00 L99.87,215.00 L99.57,223.58 Q99.57,224.00 98.87,224.00 Q98.17,224.00 98.17,223.58 L97.87,215.00 L97.77,194.00 L97.27,192.00 L96.07,184.00 L95.77,175.00 Z" fill="#949494"/>
<g clip-path="url(#vc8)">
<rect x="94.87" y="192.60" width="8" height="33.40" fill="#828282"/>
<rect x="94.87" y="175.00" width="8" height="17.60" fill="#ffffff"/>
<rect x="94.87" y="174.60" width="8" height="0.8" fill="#222"/>
<rect x="94.87" y="192.20" width="8" height="0.8" fill="#222"/>
<rect x="94.87" y="181.70" width="8" height="3" fill="#000"/>
</g>
<path d="M95.57,164.60 Q95.57,163.60 96.57,163.60 L101.17,163.60 Q102.17,163.60 102.17,164.60 L101.97,175.00 L101.67,184.00 L100.47,192.00 L99.97,194.00 L99.87,215.00 L99.57,223.58 Q99.57,224.00 98.87,224.00 Q98.17,224.00 98.17,223.58 L97.87,215.00 L97.77,194.00 L97.27,192.00 L96.07,184.00 L95.77,175.00 Z" fill="none" stroke="#000" stroke-width="1.15"/>
<clipPath id="vc9"><path d="M102.73,164.60 Q102.73,163.60 103.73,163.60 L108.33,163.60 Q109.33,163.60 109.33,164.60 L109.13,172.00 L108.83,183.00 L107.23,191.50 L106.63,194.00 L106.58,238.67 Q106.58,239.00 106.03,239.00 Q105.48,239.00 105.48,238.67 L105.44,194.00 L104.83,191.50 L103.23,183.00 L102.94,172.00 Z"/></clipPath>
<path d="M102.73,164.60 Q102.73,163.60 103.73,163.60 L108.33,163.60 Q109.33,163.60 109.33,164.60 L109.13,172.00 L108.83,183.00 L107.23,191.50 L106.63,194.00 L106.58,238.67 Q106.58,239.00 106.03,239.00 Q105.48,239.00 105.48,238.67 L105.44,194.00 L104.83,191.50 L103.23,183.00 L102.94,172.00 Z" fill="#546d8a"/>
<g clip-path="url(#vc9)">
<rect x="102.03" y="192.00" width="8" height="49.00" fill="#4a617c"/>
<rect x="102.03" y="172.80" width="8" height="19.20" fill="#ffffff"/>
<rect x="102.03" y="172.40" width="8" height="0.8" fill="#222"/>
<rect x="102.03" y="191.60" width="8" height="0.8" fill="#222"/>
<rect x="102.03" y="182.60" width="8" height="2" fill="#000"/>
</g>
<path d="M102.73,164.60 Q102.73,163.60 103.73,163.60 L108.33,163.60 Q109.33,163.60 109.33,164.60 L109.13,172.00 L108.83,183.00 L107.23,191.50 L106.63,194.00 L106.58,238.67 Q106.58,239.00 106.03,239.00 Q105.48,239.00 105.48,238.67 L105.44,194.00 L104.83,191.50 L103.23,183.00 L102.94,172.00 Z" fill="none" stroke="#000" stroke-width="1.15"/>
<clipPath id="vc10"><path d="M110.20,161.40 Q110.20,160.40 111.20,160.40 L115.20,160.40 Q116.20,160.40 116.20,161.40 L115.60,175.00 L114.70,190.00 L114.50,200.00 L114.30,250.00 L113.80,265.14 Q113.80,265.50 113.20,265.50 Q112.60,265.50 112.60,265.14 L112.10,250.00 L111.90,200.00 L111.70,190.00 L110.80,175.00 Z"/></clipPath>
<path d="M110.20,161.40 Q110.20,160.40 111.20,160.40 L115.20,160.40 Q116.20,160.40 116.20,161.40 L115.60,175.00 L114.70,190.00 L114.50,200.00 L114.30,250.00 L113.80,265.14 Q113.80,265.50 113.20,265.50 Q112.60,265.50 112.60,265.14 L112.10,250.00 L111.90,200.00 L111.70,190.00 L110.80,175.00 Z" fill="#ffffff"/>
<g clip-path="url(#vc10)">
<rect x="109.20" y="189.85" width="8" height="2.9" fill="#000"/>
</g>
<path d="M110.20,161.40 Q110.20,160.40 111.20,160.40 L115.20,160.40 Q116.20,160.40 116.20,161.40 L115.60,175.00 L114.70,190.00 L114.50,200.00 L114.30,250.00 L113.80,265.14 Q113.80,265.50 113.20,265.50 Q112.60,265.50 112.60,265.14 L112.10,250.00 L111.90,200.00 L111.70,190.00 L110.80,175.00 Z" fill="none" stroke="#000" stroke-width="1.15"/>
<clipPath id="vc11"><path d="M117.27,164.30 Q117.27,163.30 118.27,163.30 L122.46,163.30 Q123.46,163.30 123.46,164.30 L123.36,179.00 L122.96,192.00 L122.56,196.00 L122.36,205.00 L122.16,214.00 L121.86,250.00 L121.36,251.40 Q121.36,252.00 120.36,252.00 Q119.36,252.00 119.36,251.40 L118.86,250.00 L118.56,214.00 L118.36,205.00 L118.16,196.00 L117.77,192.00 L117.36,179.00 Z"/></clipPath>
<path d="M117.27,164.30 Q117.27,163.30 118.27,163.30 L122.46,163.30 Q123.46,163.30 123.46,164.30 L123.36,179.00 L122.96,192.00 L122.56,196.00 L122.36,205.00 L122.16,214.00 L121.86,250.00 L121.36,251.40 Q121.36,252.00 120.36,252.00 Q119.36,252.00 119.36,251.40 L118.86,250.00 L118.56,214.00 L118.36,205.00 L118.16,196.00 L117.77,192.00 L117.36,179.00 Z" fill="#8a1a2d"/>
<g clip-path="url(#vc11)">
<rect x="116.36" y="209.00" width="8" height="45.00" fill="#721627"/>
<rect x="116.36" y="179.30" width="8" height="29.70" fill="#ffffff"/>
<rect x="116.36" y="178.90" width="8" height="0.8" fill="#222"/>
<rect x="116.36" y="208.60" width="8" height="0.8" fill="#222"/>
<rect x="116.36" y="192.75" width="8" height="2.9" fill="#000"/>
</g>
<path d="M117.27,164.30 Q117.27,163.30 118.27,163.30 L122.46,163.30 Q123.46,163.30 123.46,164.30 L123.36,179.00 L122.96,192.00 L122.56,196.00 L122.36,205.00 L122.16,214.00 L121.86,250.00 L121.36,251.40 Q121.36,252.00 120.36,252.00 Q119.36,252.00 119.36,251.40 L118.86,250.00 L118.56,214.00 L118.36,205.00 L118.16,196.00 L117.77,192.00 L117.36,179.00 Z" fill="none" stroke="#000" stroke-width="1.15"/>
<clipPath id="vc12"><path d="M124.43,164.30 Q124.43,163.30 125.43,163.30 L129.63,163.30 Q130.63,163.30 130.63,164.30 L130.53,186.00 L129.93,196.00 L129.33,205.00 L128.83,240.00 L128.53,243.80 Q128.53,244.40 127.53,244.40 Q126.53,244.40 126.53,243.80 L126.23,240.00 L125.73,205.00 L125.13,196.00 L124.53,186.00 Z"/></clipPath>
<path d="M124.43,164.30 Q124.43,163.30 125.43,163.30 L129.63,163.30 Q130.63,163.30 130.63,164.30 L130.53,186.00 L129.93,196.00 L129.33,205.00 L128.83,240.00 L128.53,243.80 Q128.53,244.40 127.53,244.40 Q126.53,244.40 126.53,243.80 L126.23,240.00 L125.73,205.00 L125.13,196.00 L124.53,186.00 Z" fill="#949494"/>
<g clip-path="url(#vc12)">
<rect x="123.53" y="204.40" width="8" height="42.00" fill="#828282"/>
<rect x="123.53" y="187.00" width="8" height="17.40" fill="#ffffff"/>
<rect x="123.53" y="186.60" width="8" height="0.8" fill="#222"/>
<rect x="123.53" y="204.00" width="8" height="0.8" fill="#222"/>
<rect x="123.53" y="193.45" width="8" height="2.9" fill="#000"/>
</g>
<path d="M124.43,164.30 Q124.43,163.30 125.43,163.30 L129.63,163.30 Q130.63,163.30 130.63,164.30 L130.53,186.00 L129.93,196.00 L129.33,205.00 L128.83,240.00 L128.53,243.80 Q128.53,244.40 127.53,244.40 Q126.53,244.40 126.53,243.80 L126.23,240.00 L125.73,205.00 L125.13,196.00 L124.53,186.00 Z" fill="none" stroke="#000" stroke-width="1.15"/>
<clipPath id="vc13"><path d="M131.59,164.30 Q131.59,163.30 132.59,163.30 L136.79,163.30 Q137.79,163.30 137.79,164.30 L137.69,187.00 L137.00,197.00 L136.50,207.00 L136.19,250.00 L135.69,252.40 Q135.69,253.00 134.69,253.00 Q133.69,253.00 133.69,252.40 L133.19,250.00 L132.89,207.00 L132.39,197.00 L131.69,187.00 Z"/></clipPath>
<path d="M131.59,164.30 Q131.59,163.30 132.59,163.30 L136.79,163.30 Q137.79,163.30 137.79,164.30 L137.69,187.00 L137.00,197.00 L136.50,207.00 L136.19,250.00 L135.69,252.40 Q135.69,253.00 134.69,253.00 Q133.69,253.00 133.69,252.40 L133.19,250.00 L132.89,207.00 L132.39,197.00 L131.69,187.00 Z" fill="#8a1a2d"/>
<g clip-path="url(#vc13)">
<rect x="130.69" y="206.30" width="8" height="48.70" fill="#721627"/>
<rect x="130.69" y="188.00" width="8" height="18.30" fill="#ffffff"/>
<rect x="130.69" y="187.60" width="8" height="0.8" fill="#222"/>
<rect x="130.69" y="205.90" width="8" height="0.8" fill="#222"/>
<rect x="130.69" y="193.95" width="8" height="2.9" fill="#000"/>
</g>
<path d="M131.59,164.30 Q131.59,163.30 132.59,163.30 L136.79,163.30 Q137.79,163.30 137.79,164.30 L137.69,187.00 L137.00,197.00 L136.50,207.00 L136.19,250.00 L135.69,252.40 Q135.69,253.00 134.69,253.00 Q133.69,253.00 133.69,252.40 L133.19,250.00 L132.89,207.00 L132.39,197.00 L131.69,187.00 Z" fill="none" stroke="#000" stroke-width="1.15"/>
<clipPath id="vc14"><path d="M139.06,164.30 Q139.06,163.30 140.06,163.30 L143.66,163.30 Q144.66,163.30 144.66,164.30 L144.46,188.00 L143.86,197.00 L143.56,206.00 L143.26,253.00 L142.86,254.90 Q142.86,255.50 141.86,255.50 Q140.86,255.50 140.86,254.90 L140.46,253.00 L140.16,206.00 L139.86,197.00 L139.26,188.00 Z"/></clipPath>
<path d="M139.06,164.30 Q139.06,163.30 140.06,163.30 L143.66,163.30 Q144.66,163.30 144.66,164.30 L144.46,188.00 L143.86,197.00 L143.56,206.00 L143.26,253.00 L142.86,254.90 Q142.86,255.50 141.86,255.50 Q140.86,255.50 140.86,254.90 L140.46,253.00 L140.16,206.00 L139.86,197.00 L139.26,188.00 Z" fill="#546d8a"/>
<g clip-path="url(#vc14)">
<rect x="137.86" y="204.50" width="8" height="53.00" fill="#4a617c"/>
<rect x="137.86" y="189.00" width="8" height="15.50" fill="#ffffff"/>
<rect x="137.86" y="188.60" width="8" height="0.8" fill="#222"/>
<rect x="137.86" y="204.10" width="8" height="0.8" fill="#222"/>
<rect x="137.86" y="193.95" width="8" height="2.9" fill="#000"/>
</g>
<path d="M139.06,164.30 Q139.06,163.30 140.06,163.30 L143.66,163.30 Q144.66,163.30 144.66,164.30 L144.46,188.00 L143.86,197.00 L143.56,206.00 L143.26,253.00 L142.86,254.90 Q142.86,255.50 141.86,255.50 Q140.86,255.50 140.86,254.90 L140.46,253.00 L140.16,206.00 L139.86,197.00 L139.26,188.00 Z" fill="none" stroke="#000" stroke-width="1.15"/>
<clipPath id="vc15"><path d="M146.02,164.30 Q146.02,163.30 147.02,163.30 L151.02,163.30 Q152.02,163.30 152.02,164.30 L152.02,184.60 L151.22,190.00 L151.02,198.00 L150.72,210.00 L150.62,251.00 L150.22,252.80 Q150.22,253.70 149.32,253.70 L148.72,253.70 Q147.82,253.70 147.82,252.80 L147.42,251.00 L147.32,210.00 L147.02,198.00 L146.82,190.00 L146.02,184.60 Z"/></clipPath>
<path d="M146.02,164.30 Q146.02,163.30 147.02,163.30 L151.02,163.30 Q152.02,163.30 152.02,164.30 L152.02,184.60 L151.22,190.00 L151.02,198.00 L150.72,210.00 L150.62,251.00 L150.22,252.80 Q150.22,253.70 149.32,253.70 L148.72,253.70 Q147.82,253.70 147.82,252.80 L147.42,251.00 L147.32,210.00 L147.02,198.00 L146.82,190.00 L146.02,184.60 Z" fill="#8a1a2d"/>
<g clip-path="url(#vc15)">
<rect x="145.02" y="209.50" width="8" height="46.20" fill="#721627"/>
<rect x="145.02" y="185.50" width="8" height="24.00" fill="#ffffff"/>
<rect x="145.02" y="185.10" width="8" height="0.8" fill="#222"/>
<rect x="145.02" y="209.10" width="8" height="0.8" fill="#222"/>
<rect x="145.02" y="194.65" width="8" height="2.9" fill="#000"/>
</g>
<path d="M146.02,164.30 Q146.02,163.30 147.02,163.30 L151.02,163.30 Q152.02,163.30 152.02,164.30 L152.02,184.60 L151.22,190.00 L151.02,198.00 L150.72,210.00 L150.62,251.00 L150.22,252.80 Q150.22,253.70 149.32,253.70 L148.72,253.70 Q147.82,253.70 147.82,252.80 L147.42,251.00 L147.32,210.00 L147.02,198.00 L146.82,190.00 L146.02,184.60 Z" fill="none" stroke="#000" stroke-width="1.15"/>
<clipPath id="vc16"><path d="M153.09,164.30 Q153.09,163.30 154.09,163.30 L158.29,163.30 Q159.29,163.30 159.29,164.30 L159.09,192.00 L158.39,200.00 L158.09,252.00 L157.59,252.80 Q157.59,253.70 156.69,253.70 L155.69,253.70 Q154.79,253.70 154.79,252.80 L154.29,252.00 L153.99,200.00 L153.29,192.00 Z"/></clipPath>
<path d="M153.09,164.30 Q153.09,163.30 154.09,163.30 L158.29,163.30 Q159.29,163.30 159.29,164.30 L159.09,192.00 L158.39,200.00 L158.09,252.00 L157.59,252.80 Q157.59,253.70 156.69,253.70 L155.69,253.70 Q154.79,253.70 154.79,252.80 L154.29,252.00 L153.99,200.00 L153.29,192.00 Z" fill="#8a1a2d"/>
<g clip-path="url(#vc16)">
<rect x="152.19" y="200.50" width="8" height="55.20" fill="#721627"/>
<rect x="152.19" y="193.30" width="8" height="7.20" fill="#ffffff"/>
<rect x="152.19" y="192.90" width="8" height="0.8" fill="#222"/>
<rect x="152.19" y="200.10" width="8" height="0.8" fill="#222"/>
<rect x="152.19" y="194.95" width="8" height="2.9" fill="#000"/>
</g>
<path d="M153.09,164.30 Q153.09,163.30 154.09,163.30 L158.29,163.30 Q159.29,163.30 159.29,164.30 L159.09,192.00 L158.39,200.00 L158.09,252.00 L157.59,252.80 Q157.59,253.70 156.69,253.70 L155.69,253.70 Q154.79,253.70 154.79,252.80 L154.29,252.00 L153.99,200.00 L153.29,192.00 Z" fill="none" stroke="#000" stroke-width="1.15"/>
<clipPath id="vc17"><path d="M160.36,164.30 Q160.36,163.30 161.36,163.30 L165.36,163.30 Q166.36,163.30 166.36,164.30 L166.36,183.00 L165.56,197.00 L164.96,213.00 L165.36,240.00 L164.86,252.80 Q164.86,253.70 163.96,253.70 L162.76,253.70 Q161.86,253.70 161.86,252.80 L161.36,240.00 L161.76,213.00 L161.16,197.00 L160.36,183.00 Z"/></clipPath>
<path d="M160.36,164.30 Q160.36,163.30 161.36,163.30 L165.36,163.30 Q166.36,163.30 166.36,164.30 L166.36,183.00 L165.56,197.00 L164.96,213.00 L165.36,240.00 L164.86,252.80 Q164.86,253.70 163.96,253.70 L162.76,253.70 Q161.86,253.70 161.86,252.80 L161.36,240.00 L161.76,213.00 L161.16,197.00 L160.36,183.00 Z" fill="#546d8a"/>
<g clip-path="url(#vc17)">
<rect x="159.36" y="212.50" width="8" height="43.20" fill="#4a617c"/>
<rect x="159.36" y="184.00" width="8" height="28.50" fill="#ffffff"/>
<rect x="159.36" y="183.60" width="8" height="0.8" fill="#222"/>
<rect x="159.36" y="212.10" width="8" height="0.8" fill="#222"/>
<rect x="159.36" y="195.45" width="8" height="2.9" fill="#000"/>
</g>
<path d="M160.36,164.30 Q160.36,163.30 161.36,163.30 L165.36,163.30 Q166.36,163.30 166.36,164.30 L166.36,183.00 L165.56,197.00 L164.96,213.00 L165.36,240.00 L164.86,252.80 Q164.86,253.70 163.96,253.70 L162.76,253.70 Q161.86,253.70 161.86,252.80 L161.36,240.00 L161.76,213.00 L161.16,197.00 L160.36,183.00 Z" fill="none" stroke="#000" stroke-width="1.15"/>
<clipPath id="vc18"><path d="M167.42,164.30 Q167.42,163.30 168.42,163.30 L172.62,163.30 Q173.62,163.30 173.62,164.30 L173.52,188.00 L172.72,198.00 L172.22,210.00 L172.22,254.00 L171.72,255.50 Q171.72,256.40 170.82,256.40 L170.22,256.40 Q169.32,256.40 169.32,255.50 L168.82,254.00 L168.82,210.00 L168.32,198.00 L167.52,188.00 Z"/></clipPath>
<path d="M167.42,164.30 Q167.42,163.30 168.42,163.30 L172.62,163.30 Q173.62,163.30 173.62,164.30 L173.52,188.00 L172.72,198.00 L172.22,210.00 L172.22,254.00 L171.72,255.50 Q171.72,256.40 170.82,256.40 L170.22,256.40 Q169.32,256.40 169.32,255.50 L168.82,254.00 L168.82,210.00 L168.32,198.00 L167.52,188.00 Z" fill="#8a1a2d"/>
<g clip-path="url(#vc18)">
<rect x="166.52" y="209.50" width="8" height="48.90" fill="#721627"/>
<rect x="166.52" y="189.00" width="8" height="20.50" fill="#ffffff"/>
<rect x="166.52" y="188.60" width="8" height="0.8" fill="#222"/>
<rect x="166.52" y="209.10" width="8" height="0.8" fill="#222"/>
<rect x="166.52" y="195.95" width="8" height="2.9" fill="#000"/>
</g>
<path d="M167.42,164.30 Q167.42,163.30 168.42,163.30 L172.62,163.30 Q173.62,163.30 173.62,164.30 L173.52,188.00 L172.72,198.00 L172.22,210.00 L172.22,254.00 L171.72,255.50 Q171.72,256.40 170.82,256.40 L170.22,256.40 Q169.32,256.40 169.32,255.50 L168.82,254.00 L168.82,210.00 L168.32,198.00 L167.52,188.00 Z" fill="none" stroke="#000" stroke-width="1.15"/>
<clipPath id="vc19"><path d="M174.69,164.30 Q174.69,163.30 175.69,163.30 L179.69,163.30 Q180.69,163.30 180.69,164.30 L180.69,183.60 L179.88,198.00 L179.28,214.00 L179.69,245.00 L179.09,257.10 Q179.09,258.00 178.19,258.00 L177.19,258.00 Q176.28,258.00 176.28,257.10 L175.69,245.00 L176.09,214.00 L175.49,198.00 L174.69,183.60 Z"/></clipPath>
<path d="M174.69,164.30 Q174.69,163.30 175.69,163.30 L179.69,163.30 Q180.69,163.30 180.69,164.30 L180.69,183.60 L179.88,198.00 L179.28,214.00 L179.69,245.00 L179.09,257.10 Q179.09,258.00 178.19,258.00 L177.19,258.00 Q176.28,258.00 176.28,257.10 L175.69,245.00 L176.09,214.00 L175.49,198.00 L174.69,183.60 Z" fill="#546d8a"/>
<g clip-path="url(#vc19)">
<rect x="173.69" y="214.00" width="8" height="46.00" fill="#4a617c"/>
<rect x="173.69" y="184.60" width="8" height="29.40" fill="#ffffff"/>
<rect x="173.69" y="184.20" width="8" height="0.8" fill="#222"/>
<rect x="173.69" y="213.60" width="8" height="0.8" fill="#222"/>
<rect x="173.69" y="196.05" width="8" height="2.9" fill="#000"/>
</g>
<path d="M174.69,164.30 Q174.69,163.30 175.69,163.30 L179.69,163.30 Q180.69,163.30 180.69,164.30 L180.69,183.60 L179.88,198.00 L179.28,214.00 L179.69,245.00 L179.09,257.10 Q179.09,258.00 178.19,258.00 L177.19,258.00 Q176.28,258.00 176.28,257.10 L175.69,245.00 L176.09,214.00 L175.49,198.00 L174.69,183.60 Z" fill="none" stroke="#000" stroke-width="1.15"/>
<clipPath id="vc20"><path d="M181.75,164.30 Q181.75,163.30 182.75,163.30 L186.95,163.30 Q187.95,163.30 187.95,164.30 L187.85,192.00 L187.15,200.00 L186.75,253.00 L186.25,253.60 Q186.25,254.50 185.35,254.50 L184.35,254.50 Q183.45,254.50 183.45,253.60 L182.95,253.00 L182.55,200.00 L181.85,192.00 Z"/></clipPath>
<path d="M181.75,164.30 Q181.75,163.30 182.75,163.30 L186.95,163.30 Q187.95,163.30 187.95,164.30 L187.85,192.00 L187.15,200.00 L186.75,253.00 L186.25,253.60 Q186.25,254.50 185.35,254.50 L184.35,254.50 Q183.45,254.50 183.45,253.60 L182.95,253.00 L182.55,200.00 L181.85,192.00 Z" fill="#8a1a2d"/>
<g clip-path="url(#vc20)">
<rect x="180.85" y="205.30" width="8" height="51.20" fill="#721627"/>
<rect x="180.85" y="193.30" width="8" height="12.00" fill="#ffffff"/>
<rect x="180.85" y="192.90" width="8" height="0.8" fill="#222"/>
<rect x="180.85" y="204.90" width="8" height="0.8" fill="#222"/>
<rect x="180.85" y="197.05" width="8" height="2.9" fill="#000"/>
</g>
<path d="M181.75,164.30 Q181.75,163.30 182.75,163.30 L186.95,163.30 Q187.95,163.30 187.95,164.30 L187.85,192.00 L187.15,200.00 L186.75,253.00 L186.25,253.60 Q186.25,254.50 185.35,254.50 L184.35,254.50 Q183.45,254.50 183.45,253.60 L182.95,253.00 L182.55,200.00 L181.85,192.00 Z" fill="none" stroke="#000" stroke-width="1.15"/>
<clipPath id="vc21"><path d="M188.91,164.30 Q188.91,163.30 189.91,163.30 L194.11,163.30 Q195.11,163.30 195.11,164.30 L195.01,190.00 L194.31,200.00 L193.81,215.00 L193.81,252.00 L193.41,252.80 Q193.41,253.70 192.51,253.70 L191.51,253.70 Q190.61,253.70 190.61,252.80 L190.21,252.00 L190.21,215.00 L189.71,200.00 L189.01,190.00 Z"/></clipPath>
<path d="M188.91,164.30 Q188.91,163.30 189.91,163.30 L194.11,163.30 Q195.11,163.30 195.11,164.30 L195.01,190.00 L194.31,200.00 L193.81,215.00 L193.81,252.00 L193.41,252.80 Q193.41,253.70 192.51,253.70 L191.51,253.70 Q190.61,253.70 190.61,252.80 L190.21,252.00 L190.21,215.00 L189.71,200.00 L189.01,190.00 Z" fill="#546d8a"/>
<g clip-path="url(#vc21)">
<rect x="188.01" y="215.00" width="8" height="40.70" fill="#4a617c"/>
<rect x="188.01" y="191.30" width="8" height="23.70" fill="#ffffff"/>
<rect x="188.01" y="190.90" width="8" height="0.8" fill="#222"/>
<rect x="188.01" y="214.60" width="8" height="0.8" fill="#222"/>
<rect x="188.01" y="199.25" width="8" height="2.9" fill="#000"/>
</g>
<path d="M188.91,164.30 Q188.91,163.30 189.91,163.30 L194.11,163.30 Q195.11,163.30 195.11,164.30 L195.01,190.00 L194.31,200.00 L193.81,215.00 L193.81,252.00 L193.41,252.80 Q193.41,253.70 192.51,253.70 L191.51,253.70 Q190.61,253.70 190.61,252.80 L190.21,252.00 L190.21,215.00 L189.71,200.00 L189.01,190.00 Z" fill="none" stroke="#000" stroke-width="1.15"/>
<clipPath id="vc22"><path d="M196.08,164.30 Q196.08,163.30 197.08,163.30 L201.28,163.30 Q202.28,163.30 202.28,164.30 L202.18,194.00 L201.58,201.00 L201.08,254.00 L200.58,255.10 Q200.58,256.00 199.68,256.00 L198.68,256.00 Q197.78,256.00 197.78,255.10 L197.28,254.00 L196.78,201.00 L196.18,194.00 Z"/></clipPath>
<path d="M196.08,164.30 Q196.08,163.30 197.08,163.30 L201.28,163.30 Q202.28,163.30 202.28,164.30 L202.18,194.00 L201.58,201.00 L201.08,254.00 L200.58,255.10 Q200.58,256.00 199.68,256.00 L198.68,256.00 Q197.78,256.00 197.78,255.10 L197.28,254.00 L196.78,201.00 L196.18,194.00 Z" fill="#8a1a2d"/>
<g clip-path="url(#vc22)">
<rect x="195.18" y="206.30" width="8" height="51.70" fill="#721627"/>
<rect x="195.18" y="195.50" width="8" height="10.80" fill="#ffffff"/>
<rect x="195.18" y="195.10" width="8" height="0.8" fill="#222"/>
<rect x="195.18" y="205.90" width="8" height="0.8" fill="#222"/>
<rect x="195.18" y="199.25" width="8" height="2.9" fill="#000"/>
</g>
<path d="M196.08,164.30 Q196.08,163.30 197.08,163.30 L201.28,163.30 Q202.28,163.30 202.28,164.30 L202.18,194.00 L201.58,201.00 L201.08,254.00 L200.58,255.10 Q200.58,256.00 199.68,256.00 L198.68,256.00 Q197.78,256.00 197.78,255.10 L197.28,254.00 L196.78,201.00 L196.18,194.00 Z" fill="none" stroke="#000" stroke-width="1.15"/>
<clipPath id="vc23"><path d="M203.24,164.30 Q203.24,163.30 204.24,163.30 L208.44,163.30 Q209.44,163.30 209.44,164.30 L209.34,184.00 L208.84,201.00 L208.94,233.00 L208.74,248.00 L208.14,249.10 Q208.14,250.00 207.24,250.00 L205.44,250.00 Q204.54,250.00 204.54,249.10 L203.94,248.00 L203.74,233.00 L203.84,201.00 L203.34,184.00 Z"/></clipPath>
<path d="M203.24,164.30 Q203.24,163.30 204.24,163.30 L208.44,163.30 Q209.44,163.30 209.44,164.30 L209.34,184.00 L208.84,201.00 L208.94,233.00 L208.74,248.00 L208.14,249.10 Q208.14,250.00 207.24,250.00 L205.44,250.00 Q204.54,250.00 204.54,249.10 L203.94,248.00 L203.74,233.00 L203.84,201.00 L203.34,184.00 Z" fill="#546d8a"/>
<g clip-path="url(#vc23)">
<rect x="202.34" y="233.00" width="8" height="19.00" fill="#4a617c"/>
<rect x="202.34" y="185.00" width="8" height="48.00" fill="#ffffff"/>
<rect x="202.34" y="184.60" width="8" height="0.8" fill="#222"/>
<rect x="202.34" y="232.60" width="8" height="0.8" fill="#222"/>
<rect x="202.34" y="200.05" width="8" height="2.9" fill="#000"/>
</g>
<path d="M203.24,164.30 Q203.24,163.30 204.24,163.30 L208.44,163.30 Q209.44,163.30 209.44,164.30 L209.34,184.00 L208.84,201.00 L208.94,233.00 L208.74,248.00 L208.14,249.10 Q208.14,250.00 207.24,250.00 L205.44,250.00 Q204.54,250.00 204.54,249.10 L203.94,248.00 L203.74,233.00 L203.84,201.00 L203.34,184.00 Z" fill="none" stroke="#000" stroke-width="1.15"/>
<clipPath id="vc24"><path d="M210.51,164.30 Q210.51,163.30 211.51,163.30 L215.51,163.30 Q216.51,163.30 216.51,164.30 L216.31,186.00 L215.81,202.00 L216.01,227.00 L215.71,252.00 L215.11,252.80 Q215.11,253.70 214.21,253.70 L212.81,253.70 Q211.91,253.70 211.91,252.80 L211.31,252.00 L211.01,227.00 L211.21,202.00 L210.71,186.00 Z"/></clipPath>
<path d="M210.51,164.30 Q210.51,163.30 211.51,163.30 L215.51,163.30 Q216.51,163.30 216.51,164.30 L216.31,186.00 L215.81,202.00 L216.01,227.00 L215.71,252.00 L215.11,252.80 Q215.11,253.70 214.21,253.70 L212.81,253.70 Q211.91,253.70 211.91,252.80 L211.31,252.00 L211.01,227.00 L211.21,202.00 L210.71,186.00 Z" fill="#949494"/>
<g clip-path="url(#vc24)">
<rect x="209.51" y="227.50" width="8" height="28.20" fill="#828282"/>
<rect x="209.51" y="186.00" width="8" height="41.50" fill="#ffffff"/>
<rect x="209.51" y="185.60" width="8" height="0.8" fill="#222"/>
<rect x="209.51" y="227.10" width="8" height="0.8" fill="#222"/>
<rect x="209.51" y="201.05" width="8" height="2.9" fill="#000"/>
</g>
<path d="M210.51,164.30 Q210.51,163.30 211.51,163.30 L215.51,163.30 Q216.51,163.30 216.51,164.30 L216.31,186.00 L215.81,202.00 L216.01,227.00 L215.71,252.00 L215.11,252.80 Q215.11,253.70 214.21,253.70 L212.81,253.70 Q211.91,253.70 211.91,252.80 L211.31,252.00 L211.01,227.00 L211.21,202.00 L210.71,186.00 Z" fill="none" stroke="#000" stroke-width="1.15"/>
<clipPath id="vc25"><path d="M217.68,164.30 Q217.68,163.30 218.68,163.30 L222.68,163.30 Q223.68,163.30 223.68,164.30 L222.88,190.00 L221.88,201.00 L221.68,212.00 L222.68,240.00 L221.88,261.80 Q221.88,262.70 220.97,262.70 L220.38,262.70 Q219.48,262.70 219.48,261.80 L218.68,240.00 L219.68,212.00 L219.48,201.00 L218.48,190.00 Z"/></clipPath>
<path d="M217.68,164.30 Q217.68,163.30 218.68,163.30 L222.68,163.30 Q223.68,163.30 223.68,164.30 L222.88,190.00 L221.88,201.00 L221.68,212.00 L222.68,240.00 L221.88,261.80 Q221.88,262.70 220.97,262.70 L220.38,262.70 Q219.48,262.70 219.48,261.80 L218.68,240.00 L219.68,212.00 L219.48,201.00 L218.48,190.00 Z" fill="#546d8a"/>
<g clip-path="url(#vc25)">
<rect x="216.68" y="212.00" width="8" height="52.70" fill="#4a617c"/>
<rect x="216.68" y="195.00" width="8" height="17.00" fill="#ffffff"/>
<rect x="216.68" y="194.60" width="8" height="0.8" fill="#222"/>
<rect x="216.68" y="211.60" width="8" height="0.8" fill="#222"/>
<rect x="216.68" y="199.85" width="8" height="2.9" fill="#000"/>
</g>
<path d="M217.68,164.30 Q217.68,163.30 218.68,163.30 L222.68,163.30 Q223.68,163.30 223.68,164.30 L222.88,190.00 L221.88,201.00 L221.68,212.00 L222.68,240.00 L221.88,261.80 Q221.88,262.70 220.97,262.70 L220.38,262.70 Q219.48,262.70 219.48,261.80 L218.68,240.00 L219.68,212.00 L219.48,201.00 L218.48,190.00 Z" fill="none" stroke="#000" stroke-width="1.15"/>
<clipPath id="vc26"><path d="M224.84,164.30 Q224.84,163.30 225.84,163.30 L229.84,163.30 Q230.84,163.30 230.84,164.30 L230.84,172.40 L230.44,204.00 L230.24,252.80 L229.64,253.10 Q229.64,254.00 228.74,254.00 L226.94,254.00 Q226.04,254.00 226.04,253.10 L225.44,252.80 L225.24,204.00 L224.84,172.40 Z"/></clipPath>
<path d="M224.84,164.30 Q224.84,163.30 225.84,163.30 L229.84,163.30 Q230.84,163.30 230.84,164.30 L230.84,172.40 L230.44,204.00 L230.24,252.80 L229.64,253.10 Q229.64,254.00 228.74,254.00 L226.94,254.00 Q226.04,254.00 226.04,253.10 L225.44,252.80 L225.24,204.00 L224.84,172.40 Z" fill="#8a1a2d"/>
<g clip-path="url(#vc26)">
<rect x="223.84" y="255.00" width="8" height="1.00" fill="#721627"/>
<rect x="223.84" y="172.40" width="8" height="82.60" fill="#ffffff"/>
<rect x="223.84" y="172.00" width="8" height="0.8" fill="#222"/>
<rect x="223.84" y="254.60" width="8" height="0.8" fill="#222"/>
<rect x="223.84" y="202.55" width="8" height="2.9" fill="#000"/>
</g>
<path d="M224.84,164.30 Q224.84,163.30 225.84,163.30 L229.84,163.30 Q230.84,163.30 230.84,164.30 L230.84,172.40 L230.44,204.00 L230.24,252.80 L229.64,253.10 Q229.64,254.00 228.74,254.00 L226.94,254.00 Q226.04,254.00 226.04,253.10 L225.44,252.80 L225.24,204.00 L224.84,172.40 Z" fill="none" stroke="#000" stroke-width="1.15"/>
<clipPath id="vc27"><path d="M232.10,164.30 Q232.10,163.30 233.10,163.30 L236.91,163.30 Q237.91,163.30 237.91,164.30 L237.60,189.00 L237.00,204.00 L237.31,223.00 L237.50,248.00 L236.81,248.60 Q236.81,249.50 235.91,249.50 L234.10,249.50 Q233.20,249.50 233.20,248.60 L232.50,248.00 L232.70,223.00 L233.00,204.00 L232.41,189.00 Z"/></clipPath>
<path d="M232.10,164.30 Q232.10,163.30 233.10,163.30 L236.91,163.30 Q237.91,163.30 237.91,164.30 L237.60,189.00 L237.00,204.00 L237.31,223.00 L237.50,248.00 L236.81,248.60 Q236.81,249.50 235.91,249.50 L234.10,249.50 Q233.20,249.50 233.20,248.60 L232.50,248.00 L232.70,223.00 L233.00,204.00 L232.41,189.00 Z" fill="#949494"/>
<g clip-path="url(#vc27)">
<rect x="231.00" y="223.00" width="8" height="28.50" fill="#828282"/>
<rect x="231.00" y="189.60" width="8" height="33.40" fill="#ffffff"/>
<rect x="231.00" y="189.20" width="8" height="0.8" fill="#222"/>
<rect x="231.00" y="222.60" width="8" height="0.8" fill="#222"/>
<rect x="231.00" y="202.55" width="8" height="2.9" fill="#000"/>
</g>
<path d="M232.10,164.30 Q232.10,163.30 233.10,163.30 L236.91,163.30 Q237.91,163.30 237.91,164.30 L237.60,189.00 L237.00,204.00 L237.31,223.00 L237.50,248.00 L236.81,248.60 Q236.81,249.50 235.91,249.50 L234.10,249.50 Q233.20,249.50 233.20,248.60 L232.50,248.00 L232.70,223.00 L233.00,204.00 L232.41,189.00 Z" fill="none" stroke="#000" stroke-width="1.15"/>
<clipPath id="vc28"><path d="M239.37,164.30 Q239.37,163.30 240.37,163.30 L243.97,163.30 Q244.97,163.30 244.97,164.30 L244.57,185.00 L243.17,204.00 L243.77,220.00 L244.37,255.00 L243.67,256.40 Q243.67,257.30 242.77,257.30 L241.57,257.30 Q240.67,257.30 240.67,256.40 L239.97,255.00 L240.57,220.00 L241.17,204.00 L239.77,185.00 Z"/></clipPath>
<path d="M239.37,164.30 Q239.37,163.30 240.37,163.30 L243.97,163.30 Q244.97,163.30 244.97,164.30 L244.57,185.00 L243.17,204.00 L243.77,220.00 L244.37,255.00 L243.67,256.40 Q243.67,257.30 242.77,257.30 L241.57,257.30 Q240.67,257.30 240.67,256.40 L239.97,255.00 L240.57,220.00 L241.17,204.00 L239.77,185.00 Z" fill="#546d8a"/>
<g clip-path="url(#vc28)">
<rect x="238.17" y="212.00" width="8" height="47.30" fill="#4a617c"/>
<rect x="238.17" y="198.00" width="8" height="14.00" fill="#ffffff"/>
<rect x="238.17" y="197.60" width="8" height="0.8" fill="#222"/>
<rect x="238.17" y="211.60" width="8" height="0.8" fill="#222"/>
<rect x="238.17" y="202.85" width="8" height="2.9" fill="#000"/>
</g>
<path d="M239.37,164.30 Q239.37,163.30 240.37,163.30 L243.97,163.30 Q244.97,163.30 244.97,164.30 L244.57,185.00 L243.17,204.00 L243.77,220.00 L244.37,255.00 L243.67,256.40 Q243.67,257.30 242.77,257.30 L241.57,257.30 Q240.67,257.30 240.67,256.40 L239.97,255.00 L240.57,220.00 L241.17,204.00 L239.77,185.00 Z" fill="none" stroke="#000" stroke-width="1.15"/>
<clipPath id="vc29"><path d="M246.33,164.30 Q246.33,163.30 247.33,163.30 L251.33,163.30 Q252.33,163.30 252.33,164.30 L252.18,188.70 L251.53,204.60 L251.93,226.60 L251.93,250.40 L251.80,251.10 Q251.80,252.00 250.90,252.00 L247.76,252.00 Q246.86,252.00 246.86,251.10 L246.73,250.40 L246.73,226.60 L247.13,204.60 L246.48,188.70 Z"/></clipPath>
<path d="M246.33,164.30 Q246.33,163.30 247.33,163.30 L251.33,163.30 Q252.33,163.30 252.33,164.30 L252.18,188.70 L251.53,204.60 L251.93,226.60 L251.93,250.40 L251.80,251.10 Q251.80,252.00 250.90,252.00 L247.76,252.00 Q246.86,252.00 246.86,251.10 L246.73,250.40 L246.73,226.60 L247.13,204.60 L246.48,188.70 Z" fill="#546d8a"/>
<g clip-path="url(#vc29)">
<rect x="245.33" y="226.60" width="8" height="27.40" fill="#4a617c"/>
<rect x="245.33" y="188.70" width="8" height="37.90" fill="#ffffff"/>
<rect x="245.33" y="188.30" width="8" height="0.8" fill="#222"/>
<rect x="245.33" y="226.20" width="8" height="0.8" fill="#222"/>
<rect x="245.33" y="203.15" width="8" height="2.9" fill="#000"/>
</g>
<path d="M246.33,164.30 Q246.33,163.30 247.33,163.30 L251.33,163.30 Q252.33,163.30 252.33,164.30 L252.18,188.70 L251.53,204.60 L251.93,226.60 L251.93,250.40 L251.80,251.10 Q251.80,252.00 250.90,252.00 L247.76,252.00 Q246.86,252.00 246.86,251.10 L246.73,250.40 L246.73,226.60 L247.13,204.60 L246.48,188.70 Z" fill="none" stroke="#000" stroke-width="1.15"/>
<clipPath id="vc30"><path d="M253.50,164.30 Q253.50,163.30 254.50,163.30 L258.50,163.30 Q259.50,163.30 259.50,164.30 L259.35,190.50 L258.70,205.30 L259.10,226.60 L259.10,250.40 L258.97,251.10 Q258.97,252.00 258.07,252.00 L254.93,252.00 Q254.03,252.00 254.03,251.10 L253.90,250.40 L253.90,226.60 L254.30,205.30 L253.65,190.50 Z"/></clipPath>
<path d="M253.50,164.30 Q253.50,163.30 254.50,163.30 L258.50,163.30 Q259.50,163.30 259.50,164.30 L259.35,190.50 L258.70,205.30 L259.10,226.60 L259.10,250.40 L258.97,251.10 Q258.97,252.00 258.07,252.00 L254.93,252.00 Q254.03,252.00 254.03,251.10 L253.90,250.40 L253.90,226.60 L254.30,205.30 L253.65,190.50 Z" fill="#546d8a"/>
<g clip-path="url(#vc30)">
<rect x="252.50" y="226.60" width="8" height="27.40" fill="#4a617c"/>
<rect x="252.50" y="190.50" width="8" height="36.10" fill="#ffffff"/>
<rect x="252.50" y="190.10" width="8" height="0.8" fill="#222"/>
<rect x="252.50" y="226.20" width="8" height="0.8" fill="#222"/>
<rect x="252.50" y="203.85" width="8" height="2.9" fill="#000"/>
</g>
<path d="M253.50,164.30 Q253.50,163.30 254.50,163.30 L258.50,163.30 Q259.50,163.30 259.50,164.30 L259.35,190.50 L258.70,205.30 L259.10,226.60 L259.10,250.40 L258.97,251.10 Q258.97,252.00 258.07,252.00 L254.93,252.00 Q254.03,252.00 254.03,251.10 L253.90,250.40 L253.90,226.60 L254.30,205.30 L253.65,190.50 Z" fill="none" stroke="#000" stroke-width="1.15"/>
<clipPath id="vc31"><path d="M260.67,164.30 Q260.67,163.30 261.67,163.30 L265.67,163.30 Q266.67,163.30 266.67,164.30 L266.52,193.00 L265.67,205.30 L266.17,222.00 L266.17,251.20 L266.04,251.90 Q266.04,252.80 265.14,252.80 L262.19,252.80 Q261.29,252.80 261.29,251.90 L261.17,251.20 L261.17,222.00 L261.67,205.30 L260.81,193.00 Z"/></clipPath>
<path d="M260.67,164.30 Q260.67,163.30 261.67,163.30 L265.67,163.30 Q266.67,163.30 266.67,164.30 L266.52,193.00 L265.67,205.30 L266.17,222.00 L266.17,251.20 L266.04,251.90 Q266.04,252.80 265.14,252.80 L262.19,252.80 Q261.29,252.80 261.29,251.90 L261.17,251.20 L261.17,222.00 L261.67,205.30 L260.81,193.00 Z" fill="#8a1a2d"/>
<g clip-path="url(#vc31)">
<rect x="259.67" y="222.00" width="8" height="32.80" fill="#721627"/>
<rect x="259.67" y="193.00" width="8" height="29.00" fill="#ffffff"/>
<rect x="259.67" y="192.60" width="8" height="0.8" fill="#222"/>
<rect x="259.67" y="221.60" width="8" height="0.8" fill="#222"/>
<rect x="259.67" y="203.85" width="8" height="2.9" fill="#000"/>
</g>
<path d="M260.67,164.30 Q260.67,163.30 261.67,163.30 L265.67,163.30 Q266.67,163.30 266.67,164.30 L266.52,193.00 L265.67,205.30 L266.17,222.00 L266.17,251.20 L266.04,251.90 Q266.04,252.80 265.14,252.80 L262.19,252.80 Q261.29,252.80 261.29,251.90 L261.17,251.20 L261.17,222.00 L261.67,205.30 L260.81,193.00 Z" fill="none" stroke="#000" stroke-width="1.15"/>
<clipPath id="vc32"><path d="M267.83,164.30 Q267.83,163.30 268.83,163.30 L272.83,163.30 Q273.83,163.30 273.83,164.30 L273.63,200.00 L273.43,210.00 L273.43,252.00 L272.83,252.80 Q272.83,253.70 271.93,253.70 L269.73,253.70 Q268.83,253.70 268.83,252.80 L268.23,252.00 L268.23,210.00 L268.03,200.00 Z"/></clipPath>
<path d="M267.83,164.30 Q267.83,163.30 268.83,163.30 L272.83,163.30 Q273.83,163.30 273.83,164.30 L273.63,200.00 L273.43,210.00 L273.43,252.00 L272.83,252.80 Q272.83,253.70 271.93,253.70 L269.73,253.70 Q268.83,253.70 268.83,252.80 L268.23,252.00 L268.23,210.00 L268.03,200.00 Z" fill="#7d1729"/>
<g clip-path="url(#vc32)">
<rect x="266.83" y="202.00" width="8" height="8.00" fill="#ffffff"/>
<rect x="266.83" y="201.60" width="8" height="0.8" fill="#222"/>
<rect x="266.83" y="209.60" width="8" height="0.8" fill="#222"/>
<rect x="266.83" y="202.15" width="8" height="2.9" fill="#000"/>
<rect x="266.83" y="206.75" width="8" height="2.9" fill="#000"/>
</g>
<path d="M267.83,164.30 Q267.83,163.30 268.83,163.30 L272.83,163.30 Q273.83,163.30 273.83,164.30 L273.63,200.00 L273.43,210.00 L273.43,252.00 L272.83,252.80 Q272.83,253.70 271.93,253.70 L269.73,253.70 Q268.83,253.70 268.83,252.80 L268.23,252.00 L268.23,210.00 L268.03,200.00 Z" fill="none" stroke="#000" stroke-width="1.15"/>
<clipPath id="vc33"><path d="M275.00,164.30 Q275.00,163.30 276.00,163.30 L280.00,163.30 Q281.00,163.30 281.00,164.30 L280.85,193.00 L280.19,206.70 L280.60,221.00 L280.60,251.20 L280.47,251.90 Q280.47,252.80 279.57,252.80 L276.42,252.80 Q275.52,252.80 275.52,251.90 L275.39,251.20 L275.39,221.00 L275.80,206.70 L275.14,193.00 Z"/></clipPath>
<path d="M275.00,164.30 Q275.00,163.30 276.00,163.30 L280.00,163.30 Q281.00,163.30 281.00,164.30 L280.85,193.00 L280.19,206.70 L280.60,221.00 L280.60,251.20 L280.47,251.90 Q280.47,252.80 279.57,252.80 L276.42,252.80 Q275.52,252.80 275.52,251.90 L275.39,251.20 L275.39,221.00 L275.80,206.70 L275.14,193.00 Z" fill="#546d8a"/>
<g clip-path="url(#vc33)">
<rect x="274.00" y="221.00" width="8" height="33.80" fill="#4a617c"/>
<rect x="274.00" y="193.00" width="8" height="28.00" fill="#ffffff"/>
<rect x="274.00" y="192.60" width="8" height="0.8" fill="#222"/>
<rect x="274.00" y="220.60" width="8" height="0.8" fill="#222"/>
<rect x="274.00" y="205.25" width="8" height="2.9" fill="#000"/>
</g>
<path d="M275.00,164.30 Q275.00,163.30 276.00,163.30 L280.00,163.30 Q281.00,163.30 281.00,164.30 L280.85,193.00 L280.19,206.70 L280.60,221.00 L280.60,251.20 L280.47,251.90 Q280.47,252.80 279.57,252.80 L276.42,252.80 Q275.52,252.80 275.52,251.90 L275.39,251.20 L275.39,221.00 L275.80,206.70 L275.14,193.00 Z" fill="none" stroke="#000" stroke-width="1.15"/>
<clipPath id="vc34"><path d="M282.16,164.30 Q282.16,163.30 283.16,163.30 L287.16,163.30 Q288.16,163.30 288.16,164.30 L288.01,192.30 L287.36,206.70 L287.76,233.00 L287.76,251.20 L287.63,251.90 Q287.63,252.80 286.73,252.80 L283.59,252.80 Q282.69,252.80 282.69,251.90 L282.56,251.20 L282.56,233.00 L282.96,206.70 L282.31,192.30 Z"/></clipPath>
<path d="M282.16,164.30 Q282.16,163.30 283.16,163.30 L287.16,163.30 Q288.16,163.30 288.16,164.30 L288.01,192.30 L287.36,206.70 L287.76,233.00 L287.76,251.20 L287.63,251.90 Q287.63,252.80 286.73,252.80 L283.59,252.80 Q282.69,252.80 282.69,251.90 L282.56,251.20 L282.56,233.00 L282.96,206.70 L282.31,192.30 Z" fill="#546d8a"/>
<g clip-path="url(#vc34)">
<rect x="281.16" y="233.00" width="8" height="21.80" fill="#4a617c"/>
<rect x="281.16" y="192.30" width="8" height="40.70" fill="#ffffff"/>
<rect x="281.16" y="191.90" width="8" height="0.8" fill="#222"/>
<rect x="281.16" y="232.60" width="8" height="0.8" fill="#222"/>
<rect x="281.16" y="205.25" width="8" height="2.9" fill="#000"/>
</g>
<path d="M282.16,164.30 Q282.16,163.30 283.16,163.30 L287.16,163.30 Q288.16,163.30 288.16,164.30 L288.01,192.30 L287.36,206.70 L287.76,233.00 L287.76,251.20 L287.63,251.90 Q287.63,252.80 286.73,252.80 L283.59,252.80 Q282.69,252.80 282.69,251.90 L282.56,251.20 L282.56,233.00 L282.96,206.70 L282.31,192.30 Z" fill="none" stroke="#000" stroke-width="1.15"/>
<clipPath id="vc35"><path d="M289.32,164.30 Q289.32,163.30 290.32,163.30 L294.32,163.30 Q295.32,163.30 295.32,164.30 L295.18,190.50 L294.52,206.70 L294.93,232.00 L294.93,250.40 L294.80,251.10 Q294.80,252.00 293.90,252.00 L290.75,252.00 Q289.85,252.00 289.85,251.10 L289.72,250.40 L289.72,232.00 L290.12,206.70 L289.47,190.50 Z"/></clipPath>
<path d="M289.32,164.30 Q289.32,163.30 290.32,163.30 L294.32,163.30 Q295.32,163.30 295.32,164.30 L295.18,190.50 L294.52,206.70 L294.93,232.00 L294.93,250.40 L294.80,251.10 Q294.80,252.00 293.90,252.00 L290.75,252.00 Q289.85,252.00 289.85,251.10 L289.72,250.40 L289.72,232.00 L290.12,206.70 L289.47,190.50 Z" fill="#546d8a"/>
<g clip-path="url(#vc35)">
<rect x="288.32" y="232.00" width="8" height="22.00" fill="#4a617c"/>
<rect x="288.32" y="190.50" width="8" height="41.50" fill="#ffffff"/>
<rect x="288.32" y="190.10" width="8" height="0.8" fill="#222"/>
<rect x="288.32" y="231.60" width="8" height="0.8" fill="#222"/>
<rect x="288.32" y="205.25" width="8" height="2.9" fill="#000"/>
</g>
<path d="M289.32,164.30 Q289.32,163.30 290.32,163.30 L294.32,163.30 Q295.32,163.30 295.32,164.30 L295.18,190.50 L294.52,206.70 L294.93,232.00 L294.93,250.40 L294.80,251.10 Q294.80,252.00 293.90,252.00 L290.75,252.00 Q289.85,252.00 289.85,251.10 L289.72,250.40 L289.72,232.00 L290.12,206.70 L289.47,190.50 Z" fill="none" stroke="#000" stroke-width="1.15"/>
<clipPath id="vc36"><path d="M296.49,164.30 Q296.49,163.30 297.49,163.30 L301.49,163.30 Q302.49,163.30 302.49,164.30 L302.34,193.00 L301.69,206.70 L302.09,224.80 L302.09,256.60 L301.96,257.30 Q301.96,258.20 301.06,258.20 L297.92,258.20 Q297.02,258.20 297.02,257.30 L296.89,256.60 L296.89,224.80 L297.29,206.70 L296.64,193.00 Z"/></clipPath>
<path d="M296.49,164.30 Q296.49,163.30 297.49,163.30 L301.49,163.30 Q302.49,163.30 302.49,164.30 L302.34,193.00 L301.69,206.70 L302.09,224.80 L302.09,256.60 L301.96,257.30 Q301.96,258.20 301.06,258.20 L297.92,258.20 Q297.02,258.20 297.02,257.30 L296.89,256.60 L296.89,224.80 L297.29,206.70 L296.64,193.00 Z" fill="#546d8a"/>
<g clip-path="url(#vc36)">
<rect x="295.49" y="224.80" width="8" height="35.40" fill="#4a617c"/>
<rect x="295.49" y="193.00" width="8" height="31.80" fill="#ffffff"/>
<rect x="295.49" y="192.60" width="8" height="0.8" fill="#222"/>
<rect x="295.49" y="224.40" width="8" height="0.8" fill="#222"/>
<rect x="295.49" y="205.25" width="8" height="2.9" fill="#000"/>
</g>
<path d="M296.49,164.30 Q296.49,163.30 297.49,163.30 L301.49,163.30 Q302.49,163.30 302.49,164.30 L302.34,193.00 L301.69,206.70 L302.09,224.80 L302.09,256.60 L301.96,257.30 Q301.96,258.20 301.06,258.20 L297.92,258.20 Q297.02,258.20 297.02,257.30 L296.89,256.60 L296.89,224.80 L297.29,206.70 L296.64,193.00 Z" fill="none" stroke="#000" stroke-width="1.15"/>
<clipPath id="vc37"><path d="M305.16,164.05 Q305.16,163.30 306.66,163.30 Q308.16,163.30 308.16,164.05 L309.26,190.00 L308.86,207.00 L309.26,224.00 L309.06,249.00 L308.26,250.10 Q308.26,251.00 307.36,251.00 L305.95,251.00 Q305.06,251.00 305.06,250.10 L304.26,249.00 L304.06,224.00 L304.46,207.00 L304.06,190.00 Z"/></clipPath>
<path d="M305.16,164.05 Q305.16,163.30 306.66,163.30 Q308.16,163.30 308.16,164.05 L309.26,190.00 L308.86,207.00 L309.26,224.00 L309.06,249.00 L308.26,250.10 Q308.26,251.00 307.36,251.00 L305.95,251.00 Q305.06,251.00 305.06,250.10 L304.26,249.00 L304.06,224.00 L304.46,207.00 L304.06,190.00 Z" fill="#8a1a2d"/>
<g clip-path="url(#vc37)">
<rect x="302.66" y="223.90" width="8" height="29.10" fill="#721627"/>
<rect x="302.66" y="197.70" width="8" height="26.20" fill="#ffffff"/>
<rect x="302.66" y="197.30" width="8" height="0.8" fill="#222"/>
<rect x="302.66" y="223.50" width="8" height="0.8" fill="#222"/>
<rect x="302.66" y="206.15" width="8" height="2.9" fill="#000"/>
</g>
<path d="M305.16,164.05 Q305.16,163.30 306.66,163.30 Q308.16,163.30 308.16,164.05 L309.26,190.00 L308.86,207.00 L309.26,224.00 L309.06,249.00 L308.26,250.10 Q308.26,251.00 307.36,251.00 L305.95,251.00 Q305.06,251.00 305.06,250.10 L304.26,249.00 L304.06,224.00 L304.46,207.00 L304.06,190.00 Z" fill="none" stroke="#000" stroke-width="1.15"/>
<clipPath id="vc38"><path d="M310.82,164.30 Q310.82,163.30 311.82,163.30 L315.82,163.30 Q316.82,163.30 316.82,164.30 L316.67,204.00 L316.42,209.40 L316.42,214.00 L316.42,254.80 L316.29,255.50 Q316.29,256.40 315.39,256.40 L312.25,256.40 Q311.35,256.40 311.35,255.50 L311.22,254.80 L311.22,214.00 L311.22,209.40 L310.97,204.00 Z"/></clipPath>
<path d="M310.82,164.30 Q310.82,163.30 311.82,163.30 L315.82,163.30 Q316.82,163.30 316.82,164.30 L316.67,204.00 L316.42,209.40 L316.42,214.00 L316.42,254.80 L316.29,255.50 Q316.29,256.40 315.39,256.40 L312.25,256.40 Q311.35,256.40 311.35,255.50 L311.22,254.80 L311.22,214.00 L311.22,209.40 L310.97,204.00 Z" fill="#546d8a"/>
<g clip-path="url(#vc38)">
<rect x="309.82" y="214.00" width="8" height="44.40" fill="#4a617c"/>
<rect x="309.82" y="204.00" width="8" height="10.00" fill="#ffffff"/>
<rect x="309.82" y="203.60" width="8" height="0.8" fill="#222"/>
<rect x="309.82" y="213.60" width="8" height="0.8" fill="#222"/>
<rect x="309.82" y="207.95" width="8" height="2.9" fill="#000"/>
</g>
<path d="M310.82,164.30 Q310.82,163.30 311.82,163.30 L315.82,163.30 Q316.82,163.30 316.82,164.30 L316.67,204.00 L316.42,209.40 L316.42,214.00 L316.42,254.80 L316.29,255.50 Q316.29,256.40 315.39,256.40 L312.25,256.40 Q311.35,256.40 311.35,255.50 L311.22,254.80 L311.22,214.00 L311.22,209.40 L310.97,204.00 Z" fill="none" stroke="#000" stroke-width="1.15"/>
<clipPath id="vc39"><path d="M317.99,164.30 Q317.99,163.30 318.99,163.30 L322.99,163.30 Q323.99,163.30 323.99,164.30 L323.84,193.20 L323.19,209.40 L323.59,229.30 L323.59,254.80 L323.46,255.50 Q323.46,256.40 322.56,256.40 L319.41,256.40 Q318.51,256.40 318.51,255.50 L318.38,254.80 L318.38,229.30 L318.79,209.40 L318.13,193.20 Z"/></clipPath>
<path d="M317.99,164.30 Q317.99,163.30 318.99,163.30 L322.99,163.30 Q323.99,163.30 323.99,164.30 L323.84,193.20 L323.19,209.40 L323.59,229.30 L323.59,254.80 L323.46,255.50 Q323.46,256.40 322.56,256.40 L319.41,256.40 Q318.51,256.40 318.51,255.50 L318.38,254.80 L318.38,229.30 L318.79,209.40 L318.13,193.20 Z" fill="#546d8a"/>
<g clip-path="url(#vc39)">
<rect x="316.99" y="229.30" width="8" height="29.10" fill="#4a617c"/>
<rect x="316.99" y="193.20" width="8" height="36.10" fill="#ffffff"/>
<rect x="316.99" y="192.80" width="8" height="0.8" fill="#222"/>
<rect x="316.99" y="228.90" width="8" height="0.8" fill="#222"/>
<rect x="316.99" y="207.95" width="8" height="2.9" fill="#000"/>
</g>
<path d="M317.99,164.30 Q317.99,163.30 318.99,163.30 L322.99,163.30 Q323.99,163.30 323.99,164.30 L323.84,193.20 L323.19,209.40 L323.59,229.30 L323.59,254.80 L323.46,255.50 Q323.46,256.40 322.56,256.40 L319.41,256.40 Q318.51,256.40 318.51,255.50 L318.38,254.80 L318.38,229.30 L318.79,209.40 L318.13,193.20 Z" fill="none" stroke="#000" stroke-width="1.15"/>
<clipPath id="vc40"><path d="M325.15,164.30 Q325.15,163.30 326.15,163.30 L330.15,163.30 Q331.15,163.30 331.15,164.30 L331.00,201.00 L330.35,210.30 L330.75,220.30 L330.75,255.70 L330.62,256.40 Q330.62,257.30 329.72,257.30 L326.58,257.30 Q325.68,257.30 325.68,256.40 L325.55,255.70 L325.55,220.30 L325.95,210.30 L325.30,201.00 Z"/></clipPath>
<path d="M325.15,164.30 Q325.15,163.30 326.15,163.30 L330.15,163.30 Q331.15,163.30 331.15,164.30 L331.00,201.00 L330.35,210.30 L330.75,220.30 L330.75,255.70 L330.62,256.40 Q330.62,257.30 329.72,257.30 L326.58,257.30 Q325.68,257.30 325.68,256.40 L325.55,255.70 L325.55,220.30 L325.95,210.30 L325.30,201.00 Z" fill="#546d8a"/>
<g clip-path="url(#vc40)">
<rect x="324.15" y="220.30" width="8" height="39.00" fill="#4a617c"/>
<rect x="324.15" y="201.00" width="8" height="19.30" fill="#ffffff"/>
<rect x="324.15" y="200.60" width="8" height="0.8" fill="#222"/>
<rect x="324.15" y="219.90" width="8" height="0.8" fill="#222"/>
<rect x="324.15" y="208.85" width="8" height="2.9" fill="#000"/>
</g>
<path d="M325.15,164.30 Q325.15,163.30 326.15,163.30 L330.15,163.30 Q331.15,163.30 331.15,164.30 L331.00,201.00 L330.35,210.30 L330.75,220.30 L330.75,255.70 L330.62,256.40 Q330.62,257.30 329.72,257.30 L326.58,257.30 Q325.68,257.30 325.68,256.40 L325.55,255.70 L325.55,220.30 L325.95,210.30 L325.30,201.00 Z" fill="none" stroke="#000" stroke-width="1.15"/>
<clipPath id="vc41"><path d="M332.92,164.30 Q332.92,163.30 333.92,163.30 L336.71,163.30 Q337.71,163.30 337.71,164.30 L337.59,184.00 L337.51,210.30 L337.92,252.80 L337.92,253.90 L337.79,254.60 Q337.79,255.50 336.89,255.50 L333.74,255.50 Q332.84,255.50 332.84,254.60 L332.71,253.90 L332.71,252.80 L333.12,210.30 L333.04,184.00 Z"/></clipPath>
<path d="M332.92,164.30 Q332.92,163.30 333.92,163.30 L336.71,163.30 Q337.71,163.30 337.71,164.30 L337.59,184.00 L337.51,210.30 L337.92,252.80 L337.92,253.90 L337.79,254.60 Q337.79,255.50 336.89,255.50 L333.74,255.50 Q332.84,255.50 332.84,254.60 L332.71,253.90 L332.71,252.80 L333.12,210.30 L333.04,184.00 Z" fill="#949494"/>
<g clip-path="url(#vc41)">
<rect x="331.31" y="252.80" width="8" height="4.70" fill="#828282"/>
<rect x="331.31" y="184.00" width="8" height="68.80" fill="#ffffff"/>
<rect x="331.31" y="183.60" width="8" height="0.8" fill="#222"/>
<rect x="331.31" y="252.40" width="8" height="0.8" fill="#222"/>
<rect x="331.31" y="208.85" width="8" height="2.9" fill="#000"/>
</g>
<path d="M332.92,164.30 Q332.92,163.30 333.92,163.30 L336.71,163.30 Q337.71,163.30 337.71,164.30 L337.59,184.00 L337.51,210.30 L337.92,252.80 L337.92,253.90 L337.79,254.60 Q337.79,255.50 336.89,255.50 L333.74,255.50 Q332.84,255.50 332.84,254.60 L332.71,253.90 L332.71,252.80 L333.12,210.30 L333.04,184.00 Z" fill="none" stroke="#000" stroke-width="1.15"/>
<clipPath id="vc42"><path d="M339.48,164.30 Q339.48,163.30 340.48,163.30 L344.48,163.30 Q345.48,163.30 345.48,164.30 L345.33,197.70 L344.68,210.30 L345.08,229.30 L345.08,255.70 L344.95,256.40 Q344.95,257.30 344.05,257.30 L340.91,257.30 Q340.01,257.30 340.01,256.40 L339.88,255.70 L339.88,229.30 L340.28,210.30 L339.63,197.70 Z"/></clipPath>
<path d="M339.48,164.30 Q339.48,163.30 340.48,163.30 L344.48,163.30 Q345.48,163.30 345.48,164.30 L345.33,197.70 L344.68,210.30 L345.08,229.30 L345.08,255.70 L344.95,256.40 Q344.95,257.30 344.05,257.30 L340.91,257.30 Q340.01,257.30 340.01,256.40 L339.88,255.70 L339.88,229.30 L340.28,210.30 L339.63,197.70 Z" fill="#546d8a"/>
<g clip-path="url(#vc42)">
<rect x="338.48" y="229.30" width="8" height="30.00" fill="#4a617c"/>
<rect x="338.48" y="197.70" width="8" height="31.60" fill="#ffffff"/>
<rect x="338.48" y="197.30" width="8" height="0.8" fill="#222"/>
<rect x="338.48" y="228.90" width="8" height="0.8" fill="#222"/>
<rect x="338.48" y="208.85" width="8" height="2.9" fill="#000"/>
</g>
<path d="M339.48,164.30 Q339.48,163.30 340.48,163.30 L344.48,163.30 Q345.48,163.30 345.48,164.30 L345.33,197.70 L344.68,210.30 L345.08,229.30 L345.08,255.70 L344.95,256.40 Q344.95,257.30 344.05,257.30 L340.91,257.30 Q340.01,257.30 340.01,256.40 L339.88,255.70 L339.88,229.30 L340.28,210.30 L339.63,197.70 Z" fill="none" stroke="#000" stroke-width="1.15"/>
<clipPath id="vc43"><path d="M346.65,164.30 Q346.65,163.30 347.65,163.30 L351.65,163.30 Q352.65,163.30 352.65,164.30 L352.50,195.00 L351.85,212.00 L352.25,239.20 L352.25,246.70 L352.12,247.40 Q352.12,248.30 351.22,248.30 L348.07,248.30 Q347.18,248.30 347.18,247.40 L347.05,246.70 L347.05,239.20 L347.45,212.00 L346.80,195.00 Z"/></clipPath>
<path d="M346.65,164.30 Q346.65,163.30 347.65,163.30 L351.65,163.30 Q352.65,163.30 352.65,164.30 L352.50,195.00 L351.85,212.00 L352.25,239.20 L352.25,246.70 L352.12,247.40 Q352.12,248.30 351.22,248.30 L348.07,248.30 Q347.18,248.30 347.18,247.40 L347.05,246.70 L347.05,239.20 L347.45,212.00 L346.80,195.00 Z" fill="#546d8a"/>
<g clip-path="url(#vc43)">
<rect x="345.65" y="239.20" width="8" height="11.10" fill="#4a617c"/>
<rect x="345.65" y="195.00" width="8" height="44.20" fill="#ffffff"/>
<rect x="345.65" y="194.60" width="8" height="0.8" fill="#222"/>
<rect x="345.65" y="238.80" width="8" height="0.8" fill="#222"/>
<rect x="345.65" y="210.55" width="8" height="2.9" fill="#000"/>
</g>
<path d="M346.65,164.30 Q346.65,163.30 347.65,163.30 L351.65,163.30 Q352.65,163.30 352.65,164.30 L352.50,195.00 L351.85,212.00 L352.25,239.20 L352.25,246.70 L352.12,247.40 Q352.12,248.30 351.22,248.30 L348.07,248.30 Q347.18,248.30 347.18,247.40 L347.05,246.70 L347.05,239.20 L347.45,212.00 L346.80,195.00 Z" fill="none" stroke="#000" stroke-width="1.15"/>
<clipPath id="vc44"><path d="M355.21,164.60 Q355.21,163.80 356.81,163.80 Q358.41,163.80 358.41,164.60 L358.41,192.00 L358.76,213.00 L359.81,243.00 L359.81,248.40 L359.66,249.10 Q359.66,250.00 358.76,250.00 L354.86,250.00 Q353.96,250.00 353.96,249.10 L353.81,248.40 L353.81,243.00 L354.86,213.00 L355.21,192.00 Z"/></clipPath>
<path d="M355.21,164.60 Q355.21,163.80 356.81,163.80 Q358.41,163.80 358.41,164.60 L358.41,192.00 L358.76,213.00 L359.81,243.00 L359.81,248.40 L359.66,249.10 Q359.66,250.00 358.76,250.00 L354.86,250.00 Q353.96,250.00 353.96,249.10 L353.81,248.40 L353.81,243.00 L354.86,213.00 L355.21,192.00 Z" fill="#949494"/>
<g clip-path="url(#vc44)">
<rect x="352.81" y="243.00" width="8" height="9.00" fill="#828282"/>
<rect x="352.81" y="196.00" width="8" height="47.00" fill="#ffffff"/>
<rect x="352.81" y="195.60" width="8" height="0.8" fill="#222"/>
<rect x="352.81" y="242.60" width="8" height="0.8" fill="#222"/>
<rect x="352.81" y="211.55" width="8" height="2.9" fill="#000"/>
</g>
<path d="M355.21,164.60 Q355.21,163.80 356.81,163.80 Q358.41,163.80 358.41,164.60 L358.41,192.00 L358.76,213.00 L359.81,243.00 L359.81,248.40 L359.66,249.10 Q359.66,250.00 358.76,250.00 L354.86,250.00 Q353.96,250.00 353.96,249.10 L353.81,248.40 L353.81,243.00 L354.86,213.00 L355.21,192.00 Z" fill="none" stroke="#000" stroke-width="1.15"/>
<clipPath id="vc45"><path d="M362.38,164.60 Q362.38,163.80 363.98,163.80 Q365.58,163.80 365.58,164.60 L365.58,180.00 L365.93,215.80 L366.98,258.00 L366.98,258.40 L366.83,259.10 Q366.83,260.00 365.93,260.00 L362.02,260.00 Q361.12,260.00 361.12,259.10 L360.98,258.40 L360.98,258.00 L362.03,215.80 L362.38,180.00 Z"/></clipPath>
<path d="M362.38,164.60 Q362.38,163.80 363.98,163.80 Q365.58,163.80 365.58,164.60 L365.58,180.00 L365.93,215.80 L366.98,258.00 L366.98,258.40 L366.83,259.10 Q366.83,260.00 365.93,260.00 L362.02,260.00 Q361.12,260.00 361.12,259.10 L360.98,258.40 L360.98,258.00 L362.03,215.80 L362.38,180.00 Z" fill="#949494"/>
<g clip-path="url(#vc45)">
<rect x="359.98" y="258.00" width="8" height="4.00" fill="#828282"/>
<rect x="359.98" y="184.00" width="8" height="74.00" fill="#ffffff"/>
<rect x="359.98" y="183.60" width="8" height="0.8" fill="#222"/>
<rect x="359.98" y="257.60" width="8" height="0.8" fill="#222"/>
<rect x="359.98" y="214.35" width="8" height="2.9" fill="#000"/>
</g>
<path d="M362.38,164.60 Q362.38,163.80 363.98,163.80 Q365.58,163.80 365.58,164.60 L365.58,180.00 L365.93,215.80 L366.98,258.00 L366.98,258.40 L366.83,259.10 Q366.83,260.00 365.93,260.00 L362.02,260.00 Q361.12,260.00 361.12,259.10 L360.98,258.40 L360.98,258.00 L362.03,215.80 L362.38,180.00 Z" fill="none" stroke="#000" stroke-width="1.15"/>
<clipPath id="vc46"><path d="M368.64,164.30 Q368.64,163.30 369.64,163.30 L372.64,163.30 Q373.64,163.30 373.64,164.30 L373.51,203.00 L372.94,215.80 L374.14,231.00 L374.14,250.40 L373.99,251.10 Q373.99,252.00 373.09,252.00 L369.19,252.00 Q368.29,252.00 368.29,251.10 L368.14,250.40 L368.14,231.00 L369.34,215.80 L368.76,203.00 Z"/></clipPath>
<path d="M368.64,164.30 Q368.64,163.30 369.64,163.30 L372.64,163.30 Q373.64,163.30 373.64,164.30 L373.51,203.00 L372.94,215.80 L374.14,231.00 L374.14,250.40 L373.99,251.10 Q373.99,252.00 373.09,252.00 L369.19,252.00 Q368.29,252.00 368.29,251.10 L368.14,250.40 L368.14,231.00 L369.34,215.80 L368.76,203.00 Z" fill="#546d8a"/>
<g clip-path="url(#vc46)">
<rect x="367.14" y="231.00" width="8" height="23.00" fill="#4a617c"/>
<rect x="367.14" y="203.00" width="8" height="28.00" fill="#ffffff"/>
<rect x="367.14" y="202.60" width="8" height="0.8" fill="#222"/>
<rect x="367.14" y="230.60" width="8" height="0.8" fill="#222"/>
<rect x="367.14" y="214.35" width="8" height="2.9" fill="#000"/>
</g>
<path d="M368.64,164.30 Q368.64,163.30 369.64,163.30 L372.64,163.30 Q373.64,163.30 373.64,164.30 L373.51,203.00 L372.94,215.80 L374.14,231.00 L374.14,250.40 L373.99,251.10 Q373.99,252.00 373.09,252.00 L369.19,252.00 Q368.29,252.00 368.29,251.10 L368.14,250.40 L368.14,231.00 L369.34,215.80 L368.76,203.00 Z" fill="none" stroke="#000" stroke-width="1.15"/>
<clipPath id="vc47"><path d="M375.81,164.30 Q375.81,163.30 376.81,163.30 L379.81,163.30 Q380.81,163.30 380.81,164.30 L380.68,205.00 L380.11,215.80 L381.31,231.00 L381.31,251.40 L381.16,252.10 Q381.16,253.00 380.26,253.00 L376.35,253.00 Q375.45,253.00 375.45,252.10 L375.31,251.40 L375.31,231.00 L376.50,215.80 L375.93,205.00 Z"/></clipPath>
<path d="M375.81,164.30 Q375.81,163.30 376.81,163.30 L379.81,163.30 Q380.81,163.30 380.81,164.30 L380.68,205.00 L380.11,215.80 L381.31,231.00 L381.31,251.40 L381.16,252.10 Q381.16,253.00 380.26,253.00 L376.35,253.00 Q375.45,253.00 375.45,252.10 L375.31,251.40 L375.31,231.00 L376.50,215.80 L375.93,205.00 Z" fill="#546d8a"/>
<g clip-path="url(#vc47)">
<rect x="374.31" y="231.00" width="8" height="24.00" fill="#4a617c"/>
<rect x="374.31" y="205.00" width="8" height="26.00" fill="#ffffff"/>
<rect x="374.31" y="204.60" width="8" height="0.8" fill="#222"/>
<rect x="374.31" y="230.60" width="8" height="0.8" fill="#222"/>
<rect x="374.31" y="214.35" width="8" height="2.9" fill="#000"/>
</g>
<path d="M375.81,164.30 Q375.81,163.30 376.81,163.30 L379.81,163.30 Q380.81,163.30 380.81,164.30 L380.68,205.00 L380.11,215.80 L381.31,231.00 L381.31,251.40 L381.16,252.10 Q381.16,253.00 380.26,253.00 L376.35,253.00 Q375.45,253.00 375.45,252.10 L375.31,251.40 L375.31,231.00 L376.50,215.80 L375.93,205.00 Z" fill="none" stroke="#000" stroke-width="1.15"/>
<clipPath id="vc48"><path d="M383.87,164.60 Q383.87,163.80 385.47,163.80 Q387.07,163.80 387.07,164.60 L387.07,201.00 L387.42,216.70 L388.47,237.00 L388.47,243.00 L388.32,243.70 Q388.32,244.60 387.42,244.60 L383.52,244.60 Q382.62,244.60 382.62,243.70 L382.47,243.00 L382.47,237.00 L383.52,216.70 L383.87,201.00 Z"/></clipPath>
<path d="M383.87,164.60 Q383.87,163.80 385.47,163.80 Q387.07,163.80 387.07,164.60 L387.07,201.00 L387.42,216.70 L388.47,237.00 L388.47,243.00 L388.32,243.70 Q388.32,244.60 387.42,244.60 L383.52,244.60 Q382.62,244.60 382.62,243.70 L382.47,243.00 L382.47,237.00 L383.52,216.70 L383.87,201.00 Z" fill="#949494"/>
<g clip-path="url(#vc48)">
<rect x="381.47" y="237.00" width="8" height="9.60" fill="#828282"/>
<rect x="381.47" y="205.00" width="8" height="32.00" fill="#ffffff"/>
<rect x="381.47" y="204.60" width="8" height="0.8" fill="#222"/>
<rect x="381.47" y="236.60" width="8" height="0.8" fill="#222"/>
<rect x="381.47" y="215.25" width="8" height="2.9" fill="#000"/>
</g>
<path d="M383.87,164.60 Q383.87,163.80 385.47,163.80 Q387.07,163.80 387.07,164.60 L387.07,201.00 L387.42,216.70 L388.47,237.00 L388.47,243.00 L388.32,243.70 Q388.32,244.60 387.42,244.60 L383.52,244.60 Q382.62,244.60 382.62,243.70 L382.47,243.00 L382.47,237.00 L383.52,216.70 L383.87,201.00 Z" fill="none" stroke="#000" stroke-width="1.15"/>
<clipPath id="vc49"><path d="M390.24,169.80 Q390.24,168.80 391.24,168.80 L394.03,168.80 Q395.03,168.80 395.03,169.80 L395.03,193.70 L394.58,217.60 L395.63,243.70 L395.63,250.40 L395.49,251.10 Q395.49,252.00 394.59,252.00 L390.68,252.00 Q389.78,252.00 389.78,251.10 L389.63,250.40 L389.63,243.70 L390.69,217.60 L390.24,193.70 Z"/></clipPath>
<path d="M390.24,169.80 Q390.24,168.80 391.24,168.80 L394.03,168.80 Q395.03,168.80 395.03,169.80 L395.03,193.70 L394.58,217.60 L395.63,243.70 L395.63,250.40 L395.49,251.10 Q395.49,252.00 394.59,252.00 L390.68,252.00 Q389.78,252.00 389.78,251.10 L389.63,250.40 L389.63,243.70 L390.69,217.60 L390.24,193.70 Z" fill="#949494"/>
<g clip-path="url(#vc49)">
<rect x="388.63" y="243.70" width="8" height="10.30" fill="#828282"/>
<rect x="388.63" y="197.70" width="8" height="46.00" fill="#ffffff"/>
<rect x="388.63" y="197.30" width="8" height="0.8" fill="#222"/>
<rect x="388.63" y="243.30" width="8" height="0.8" fill="#222"/>
<rect x="388.63" y="216.15" width="8" height="2.9" fill="#000"/>
</g>
<path d="M390.24,169.80 Q390.24,168.80 391.24,168.80 L394.03,168.80 Q395.03,168.80 395.03,169.80 L395.03,193.70 L394.58,217.60 L395.63,243.70 L395.63,250.40 L395.49,251.10 Q395.49,252.00 394.59,252.00 L390.68,252.00 Q389.78,252.00 389.78,251.10 L389.63,250.40 L389.63,243.70 L390.69,217.60 L390.24,193.70 Z" fill="none" stroke="#000" stroke-width="1.15"/>
<clipPath id="vc50"><path d="M398.20,164.60 Q398.20,163.80 399.80,163.80 Q401.40,163.80 401.40,164.60 L401.40,195.50 L401.75,217.60 L402.80,242.80 L402.80,255.70 L402.65,256.40 Q402.65,257.30 401.75,257.30 L397.85,257.30 Q396.95,257.30 396.95,256.40 L396.80,255.70 L396.80,242.80 L397.85,217.60 L398.20,195.50 Z"/></clipPath>
<path d="M398.20,164.60 Q398.20,163.80 399.80,163.80 Q401.40,163.80 401.40,164.60 L401.40,195.50 L401.75,217.60 L402.80,242.80 L402.80,255.70 L402.65,256.40 Q402.65,257.30 401.75,257.30 L397.85,257.30 Q396.95,257.30 396.95,256.40 L396.80,255.70 L396.80,242.80 L397.85,217.60 L398.20,195.50 Z" fill="#949494"/>
<g clip-path="url(#vc50)">
<rect x="395.80" y="242.80" width="8" height="16.50" fill="#828282"/>
<rect x="395.80" y="199.50" width="8" height="43.30" fill="#ffffff"/>
<rect x="395.80" y="199.10" width="8" height="0.8" fill="#222"/>
<rect x="395.80" y="242.40" width="8" height="0.8" fill="#222"/>
<rect x="395.80" y="216.15" width="8" height="2.9" fill="#000"/>
</g>
<path d="M398.20,164.60 Q398.20,163.80 399.80,163.80 Q401.40,163.80 401.40,164.60 L401.40,195.50 L401.75,217.60 L402.80,242.80 L402.80,255.70 L402.65,256.40 Q402.65,257.30 401.75,257.30 L397.85,257.30 Q396.95,257.30 396.95,256.40 L396.80,255.70 L396.80,242.80 L397.85,217.60 L398.20,195.50 Z" fill="none" stroke="#000" stroke-width="1.15"/>
<clipPath id="vc51"><path d="M405.92,164.33 Q405.92,163.80 406.97,163.80 Q408.02,163.80 408.02,164.33 L408.02,204.50 L408.92,217.60 L409.97,229.30 L409.97,250.40 L409.82,251.10 Q409.82,252.00 408.92,252.00 L405.01,252.00 Q404.12,252.00 404.12,251.10 L403.97,250.40 L403.97,229.30 L405.02,217.60 L405.92,204.50 Z"/></clipPath>
<path d="M405.92,164.33 Q405.92,163.80 406.97,163.80 Q408.02,163.80 408.02,164.33 L408.02,204.50 L408.92,217.60 L409.97,229.30 L409.97,250.40 L409.82,251.10 Q409.82,252.00 408.92,252.00 L405.01,252.00 Q404.12,252.00 404.12,251.10 L403.97,250.40 L403.97,229.30 L405.02,217.60 L405.92,204.50 Z" fill="#8a1a2d"/>
<g clip-path="url(#vc51)">
<rect x="402.97" y="229.30" width="8" height="24.70" fill="#721627"/>
<rect x="402.97" y="208.50" width="8" height="20.80" fill="#ffffff"/>
<rect x="402.97" y="208.10" width="8" height="0.8" fill="#222"/>
<rect x="402.97" y="228.90" width="8" height="0.8" fill="#222"/>
<rect x="402.97" y="216.15" width="8" height="2.9" fill="#000"/>
</g>
<path d="M405.92,164.33 Q405.92,163.80 406.97,163.80 Q408.02,163.80 408.02,164.33 L408.02,204.50 L408.92,217.60 L409.97,229.30 L409.97,250.40 L409.82,251.10 Q409.82,252.00 408.92,252.00 L405.01,252.00 Q404.12,252.00 404.12,251.10 L403.97,250.40 L403.97,229.30 L405.02,217.60 L405.92,204.50 Z" fill="none" stroke="#000" stroke-width="1.15"/>
<clipPath id="vc52"><path d="M412.53,164.60 Q412.53,163.80 414.13,163.80 Q415.73,163.80 415.73,164.60 L415.73,188.30 L416.08,219.40 L417.13,254.60 L417.13,256.40 L416.98,257.10 Q416.98,258.00 416.08,258.00 L412.18,258.00 Q411.28,258.00 411.28,257.10 L411.13,256.40 L411.13,254.60 L412.18,219.40 L412.53,188.30 Z"/></clipPath>
<path d="M412.53,164.60 Q412.53,163.80 414.13,163.80 Q415.73,163.80 415.73,164.60 L415.73,188.30 L416.08,219.40 L417.13,254.60 L417.13,256.40 L416.98,257.10 Q416.98,258.00 416.08,258.00 L412.18,258.00 Q411.28,258.00 411.28,257.10 L411.13,256.40 L411.13,254.60 L412.18,219.40 L412.53,188.30 Z" fill="#8a1a2d"/>
<g clip-path="url(#vc52)">
<rect x="410.13" y="254.60" width="8" height="5.40" fill="#721627"/>
<rect x="410.13" y="192.30" width="8" height="62.30" fill="#ffffff"/>
<rect x="410.13" y="191.90" width="8" height="0.8" fill="#222"/>
<rect x="410.13" y="254.20" width="8" height="0.8" fill="#222"/>
<rect x="410.13" y="217.95" width="8" height="2.9" fill="#000"/>
</g>
<path d="M412.53,164.60 Q412.53,163.80 414.13,163.80 Q415.73,163.80 415.73,164.60 L415.73,188.30 L416.08,219.40 L417.13,254.60 L417.13,256.40 L416.98,257.10 Q416.98,258.00 416.08,258.00 L412.18,258.00 Q411.28,258.00 411.28,257.10 L411.13,256.40 L411.13,254.60 L412.18,219.40 L412.53,188.30 Z" fill="none" stroke="#000" stroke-width="1.15"/>
<clipPath id="vc53"><path d="M420.10,164.40 Q420.10,163.80 421.30,163.80 Q422.50,163.80 422.50,164.40 L422.50,201.00 L423.25,218.50 L424.30,237.40 L424.30,254.40 L424.15,255.10 Q424.15,256.00 423.25,256.00 L419.34,256.00 Q418.44,256.00 418.44,255.10 L418.30,254.40 L418.30,237.40 L419.35,218.50 L420.10,201.00 Z"/></clipPath>
<path d="M420.10,164.40 Q420.10,163.80 421.30,163.80 Q422.50,163.80 422.50,164.40 L422.50,201.00 L423.25,218.50 L424.30,237.40 L424.30,254.40 L424.15,255.10 Q424.15,256.00 423.25,256.00 L419.34,256.00 Q418.44,256.00 418.44,255.10 L418.30,254.40 L418.30,237.40 L419.35,218.50 L420.10,201.00 Z" fill="#546d8a"/>
<g clip-path="url(#vc53)">
<rect x="417.30" y="237.40" width="8" height="20.60" fill="#4a617c"/>
<rect x="417.30" y="205.00" width="8" height="32.40" fill="#ffffff"/>
<rect x="417.30" y="204.60" width="8" height="0.8" fill="#222"/>
<rect x="417.30" y="237.00" width="8" height="0.8" fill="#222"/>
<rect x="417.30" y="217.05" width="8" height="2.9" fill="#000"/>
</g>
<path d="M420.10,164.40 Q420.10,163.80 421.30,163.80 Q422.50,163.80 422.50,164.40 L422.50,201.00 L423.25,218.50 L424.30,237.40 L424.30,254.40 L424.15,255.10 Q424.15,256.00 423.25,256.00 L419.34,256.00 Q418.44,256.00 418.44,255.10 L418.30,254.40 L418.30,237.40 L419.35,218.50 L420.10,201.00 Z" fill="none" stroke="#000" stroke-width="1.15"/>
<clipPath id="vc54"><path d="M427.26,164.40 Q427.26,163.80 428.46,163.80 Q429.66,163.80 429.66,164.40 L429.66,204.50 L430.41,219.30 L431.46,237.00 L431.46,251.90 L431.31,252.60 Q431.31,253.50 430.41,253.50 L426.51,253.50 Q425.61,253.50 425.61,252.60 L425.46,251.90 L425.46,237.00 L426.51,219.30 L427.26,204.50 Z"/></clipPath>
<path d="M427.26,164.40 Q427.26,163.80 428.46,163.80 Q429.66,163.80 429.66,164.40 L429.66,204.50 L430.41,219.30 L431.46,237.00 L431.46,251.90 L431.31,252.60 Q431.31,253.50 430.41,253.50 L426.51,253.50 Q425.61,253.50 425.61,252.60 L425.46,251.90 L425.46,237.00 L426.51,219.30 L427.26,204.50 Z" fill="#546d8a"/>
<g clip-path="url(#vc54)">
<rect x="424.46" y="237.00" width="8" height="18.50" fill="#4a617c"/>
<rect x="424.46" y="208.50" width="8" height="28.50" fill="#ffffff"/>
<rect x="424.46" y="208.10" width="8" height="0.8" fill="#222"/>
<rect x="424.46" y="236.60" width="8" height="0.8" fill="#222"/>
<rect x="424.46" y="217.85" width="8" height="2.9" fill="#000"/>
</g>
<path d="M427.26,164.40 Q427.26,163.80 428.46,163.80 Q429.66,163.80 429.66,164.40 L429.66,204.50 L430.41,219.30 L431.46,237.00 L431.46,251.90 L431.31,252.60 Q431.31,253.50 430.41,253.50 L426.51,253.50 Q425.61,253.50 425.61,252.60 L425.46,251.90 L425.46,237.00 L426.51,219.30 L427.26,204.50 Z" fill="none" stroke="#000" stroke-width="1.15"/>
<clipPath id="vc55"><path d="M434.43,164.40 Q434.43,163.80 435.62,163.80 Q436.82,163.80 436.82,164.40 L436.82,205.50 L437.57,219.80 L438.62,235.30 L438.62,253.60 L438.48,254.30 Q438.48,255.20 437.58,255.20 L433.67,255.20 Q432.77,255.20 432.77,254.30 L432.62,253.60 L432.62,235.30 L433.68,219.80 L434.43,205.50 Z"/></clipPath>
<path d="M434.43,164.40 Q434.43,163.80 435.62,163.80 Q436.82,163.80 436.82,164.40 L436.82,205.50 L437.57,219.80 L438.62,235.30 L438.62,253.60 L438.48,254.30 Q438.48,255.20 437.58,255.20 L433.67,255.20 Q432.77,255.20 432.77,254.30 L432.62,253.60 L432.62,235.30 L433.68,219.80 L434.43,205.50 Z" fill="#4a5a6e"/>
<g clip-path="url(#vc55)">
<rect x="431.62" y="235.30" width="8" height="21.90" fill="#4a617c"/>
<rect x="431.62" y="209.50" width="8" height="25.80" fill="#ffffff"/>
<rect x="431.62" y="209.10" width="8" height="0.8" fill="#222"/>
<rect x="431.62" y="234.90" width="8" height="0.8" fill="#222"/>
<rect x="431.62" y="218.35" width="8" height="2.9" fill="#000"/>
</g>
<path d="M434.43,164.40 Q434.43,163.80 435.62,163.80 Q436.82,163.80 436.82,164.40 L436.82,205.50 L437.57,219.80 L438.62,235.30 L438.62,253.60 L438.48,254.30 Q438.48,255.20 437.58,255.20 L433.67,255.20 Q432.77,255.20 432.77,254.30 L432.62,253.60 L432.62,235.30 L433.68,219.80 L434.43,205.50 Z" fill="none" stroke="#000" stroke-width="1.15"/>
<clipPath id="vc56"><path d="M441.59,164.40 Q441.59,163.80 442.79,163.80 Q443.99,163.80 443.99,164.40 L443.99,202.50 L444.74,220.50 L445.79,238.30 L445.79,255.60 L445.64,256.30 Q445.64,257.20 444.74,257.20 L440.84,257.20 Q439.94,257.20 439.94,256.30 L439.79,255.60 L439.79,238.30 L440.84,220.50 L441.59,202.50 Z"/></clipPath>
<path d="M441.59,164.40 Q441.59,163.80 442.79,163.80 Q443.99,163.80 443.99,164.40 L443.99,202.50 L444.74,220.50 L445.79,238.30 L445.79,255.60 L445.64,256.30 Q445.64,257.20 444.74,257.20 L440.84,257.20 Q439.94,257.20 439.94,256.30 L439.79,255.60 L439.79,238.30 L440.84,220.50 L441.59,202.50 Z" fill="#4a5a6e"/>
<g clip-path="url(#vc56)">
<rect x="438.79" y="238.30" width="8" height="20.90" fill="#4a617c"/>
<rect x="438.79" y="206.50" width="8" height="31.80" fill="#ffffff"/>
<rect x="438.79" y="206.10" width="8" height="0.8" fill="#222"/>
<rect x="438.79" y="237.90" width="8" height="0.8" fill="#222"/>
<rect x="438.79" y="219.05" width="8" height="2.9" fill="#000"/>
</g>
<path d="M441.59,164.40 Q441.59,163.80 442.79,163.80 Q443.99,163.80 443.99,164.40 L443.99,202.50 L444.74,220.50 L445.79,238.30 L445.79,255.60 L445.64,256.30 Q445.64,257.20 444.74,257.20 L440.84,257.20 Q439.94,257.20 439.94,256.30 L439.79,255.60 L439.79,238.30 L440.84,220.50 L441.59,202.50 Z" fill="none" stroke="#000" stroke-width="1.15"/>
<clipPath id="vc57"><path d="M448.76,164.40 Q448.76,163.80 449.96,163.80 Q451.16,163.80 451.16,164.40 L451.16,206.70 L451.91,221.40 L452.96,232.50 L452.96,255.40 L452.81,256.10 Q452.81,257.00 451.91,257.00 L448.00,257.00 Q447.11,257.00 447.11,256.10 L446.96,255.40 L446.96,232.50 L448.01,221.40 L448.76,206.70 Z"/></clipPath>
<path d="M448.76,164.40 Q448.76,163.80 449.96,163.80 Q451.16,163.80 451.16,164.40 L451.16,206.70 L451.91,221.40 L452.96,232.50 L452.96,255.40 L452.81,256.10 Q452.81,257.00 451.91,257.00 L448.00,257.00 Q447.11,257.00 447.11,256.10 L446.96,255.40 L446.96,232.50 L448.01,221.40 L448.76,206.70 Z" fill="#4a5a6e"/>
<g clip-path="url(#vc57)">
<rect x="445.96" y="232.50" width="8" height="26.50" fill="#4a617c"/>
<rect x="445.96" y="210.70" width="8" height="21.80" fill="#ffffff"/>
<rect x="445.96" y="210.30" width="8" height="0.8" fill="#222"/>
<rect x="445.96" y="232.10" width="8" height="0.8" fill="#222"/>
<rect x="445.96" y="219.95" width="8" height="2.9" fill="#000"/>
</g>
<path d="M448.76,164.40 Q448.76,163.80 449.96,163.80 Q451.16,163.80 451.16,164.40 L451.16,206.70 L451.91,221.40 L452.96,232.50 L452.96,255.40 L452.81,256.10 Q452.81,257.00 451.91,257.00 L448.00,257.00 Q447.11,257.00 447.11,256.10 L446.96,255.40 L446.96,232.50 L448.01,221.40 L448.76,206.70 Z" fill="none" stroke="#000" stroke-width="1.15"/>
<clipPath id="vc58"><path d="M456.07,164.33 Q456.07,163.80 457.12,163.80 Q458.17,163.80 458.17,164.33 L458.17,204.20 L459.07,222.40 L460.12,247.00 L460.12,256.50 L459.97,257.20 Q459.97,258.10 459.07,258.10 L455.17,258.10 Q454.27,258.10 454.27,257.20 L454.12,256.50 L454.12,247.00 L455.17,222.40 L456.07,204.20 Z"/></clipPath>
<path d="M456.07,164.33 Q456.07,163.80 457.12,163.80 Q458.17,163.80 458.17,164.33 L458.17,204.20 L459.07,222.40 L460.12,247.00 L460.12,256.50 L459.97,257.20 Q459.97,258.10 459.07,258.10 L455.17,258.10 Q454.27,258.10 454.27,257.20 L454.12,256.50 L454.12,247.00 L455.17,222.40 L456.07,204.20 Z" fill="#4a5a6e"/>
<g clip-path="url(#vc58)">
<rect x="453.12" y="247.00" width="8" height="13.10" fill="#4a617c"/>
<rect x="453.12" y="208.20" width="8" height="38.80" fill="#ffffff"/>
<rect x="453.12" y="207.80" width="8" height="0.8" fill="#222"/>
<rect x="453.12" y="246.60" width="8" height="0.8" fill="#222"/>
<rect x="453.12" y="220.95" width="8" height="2.9" fill="#000"/>
</g>
<path d="M456.07,164.33 Q456.07,163.80 457.12,163.80 Q458.17,163.80 458.17,164.33 L458.17,204.20 L459.07,222.40 L460.12,247.00 L460.12,256.50 L459.97,257.20 Q459.97,258.10 459.07,258.10 L455.17,258.10 Q454.27,258.10 454.27,257.20 L454.12,256.50 L454.12,247.00 L455.17,222.40 L456.07,204.20 Z" fill="none" stroke="#000" stroke-width="1.15"/>
<clipPath id="vc59"><path d="M463.24,164.33 Q463.24,163.80 464.29,163.80 Q465.34,163.80 465.34,164.33 L465.34,205.20 L466.24,223.40 L467.29,240.30 L467.29,254.60 L467.14,255.30 Q467.14,256.20 466.24,256.20 L462.33,256.20 Q461.44,256.20 461.44,255.30 L461.29,254.60 L461.29,240.30 L462.34,223.40 L463.24,205.20 Z"/></clipPath>
<path d="M463.24,164.33 Q463.24,163.80 464.29,163.80 Q465.34,163.80 465.34,164.33 L465.34,205.20 L466.24,223.40 L467.29,240.30 L467.29,254.60 L467.14,255.30 Q467.14,256.20 466.24,256.20 L462.33,256.20 Q461.44,256.20 461.44,255.30 L461.29,254.60 L461.29,240.30 L462.34,223.40 L463.24,205.20 Z" fill="#4a5a6e"/>
<g clip-path="url(#vc59)">
<rect x="460.29" y="240.30" width="8" height="17.90" fill="#4a617c"/>
<rect x="460.29" y="209.20" width="8" height="31.10" fill="#ffffff"/>
<rect x="460.29" y="208.80" width="8" height="0.8" fill="#222"/>
<rect x="460.29" y="239.90" width="8" height="0.8" fill="#222"/>
<rect x="460.29" y="221.95" width="8" height="2.9" fill="#000"/>
</g>
<path d="M463.24,164.33 Q463.24,163.80 464.29,163.80 Q465.34,163.80 465.34,164.33 L465.34,205.20 L466.24,223.40 L467.29,240.30 L467.29,254.60 L467.14,255.30 Q467.14,256.20 466.24,256.20 L462.33,256.20 Q461.44,256.20 461.44,255.30 L461.29,254.60 L461.29,240.30 L462.34,223.40 L463.24,205.20 Z" fill="none" stroke="#000" stroke-width="1.15"/>
<clipPath id="vc60"><path d="M470.40,164.33 Q470.40,163.80 471.45,163.80 Q472.50,163.80 472.50,164.33 L472.50,210.00 L473.40,225.60 L474.45,241.80 L474.45,253.70 L474.30,254.40 Q474.30,255.30 473.40,255.30 L469.50,255.30 Q468.60,255.30 468.60,254.40 L468.45,253.70 L468.45,241.80 L469.50,225.60 L470.40,210.00 Z"/></clipPath>
<path d="M470.40,164.33 Q470.40,163.80 471.45,163.80 Q472.50,163.80 472.50,164.33 L472.50,210.00 L473.40,225.60 L474.45,241.80 L474.45,253.70 L474.30,254.40 Q474.30,255.30 473.40,255.30 L469.50,255.30 Q468.60,255.30 468.60,254.40 L468.45,253.70 L468.45,241.80 L469.50,225.60 L470.40,210.00 Z" fill="#4a5a6e"/>
<g clip-path="url(#vc60)">
<rect x="467.45" y="241.80" width="8" height="15.50" fill="#4a617c"/>
<rect x="467.45" y="214.00" width="8" height="27.80" fill="#ffffff"/>
<rect x="467.45" y="213.60" width="8" height="0.8" fill="#222"/>
<rect x="467.45" y="241.40" width="8" height="0.8" fill="#222"/>
<rect x="467.45" y="224.15" width="8" height="2.9" fill="#000"/>
</g>
<path d="M470.40,164.33 Q470.40,163.80 471.45,163.80 Q472.50,163.80 472.50,164.33 L472.50,210.00 L473.40,225.60 L474.45,241.80 L474.45,253.70 L474.30,254.40 Q474.30,255.30 473.40,255.30 L469.50,255.30 Q468.60,255.30 468.60,254.40 L468.45,253.70 L468.45,241.80 L469.50,225.60 L470.40,210.00 Z" fill="none" stroke="#000" stroke-width="1.15"/>
<clipPath id="vc61"><path d="M477.56,164.33 Q477.56,163.80 478.62,163.80 Q479.67,163.80 479.67,164.33 L479.67,215.00 L480.56,224.70 L481.62,237.00 L481.62,250.10 L481.47,250.80 Q481.47,251.70 480.57,251.70 L476.66,251.70 Q475.76,251.70 475.76,250.80 L475.62,250.10 L475.62,237.00 L476.67,224.70 L477.56,215.00 Z"/></clipPath>
<path d="M477.56,164.33 Q477.56,163.80 478.62,163.80 Q479.67,163.80 479.67,164.33 L479.67,215.00 L480.56,224.70 L481.62,237.00 L481.62,250.10 L481.47,250.80 Q481.47,251.70 480.57,251.70 L476.66,251.70 Q475.76,251.70 475.76,250.80 L475.62,250.10 L475.62,237.00 L476.67,224.70 L477.56,215.00 Z" fill="#4a5a6e"/>
<g clip-path="url(#vc61)">
<rect x="474.62" y="237.00" width="8" height="16.70" fill="#4a617c"/>
<rect x="474.62" y="219.00" width="8" height="18.00" fill="#ffffff"/>
<rect x="474.62" y="218.60" width="8" height="0.8" fill="#222"/>
<rect x="474.62" y="236.60" width="8" height="0.8" fill="#222"/>
<rect x="474.62" y="223.25" width="8" height="2.9" fill="#000"/>
</g>
<path d="M477.56,164.33 Q477.56,163.80 478.62,163.80 Q479.67,163.80 479.67,164.33 L479.67,215.00 L480.56,224.70 L481.62,237.00 L481.62,250.10 L481.47,250.80 Q481.47,251.70 480.57,251.70 L476.66,251.70 Q475.76,251.70 475.76,250.80 L475.62,250.10 L475.62,237.00 L476.67,224.70 L477.56,215.00 Z" fill="none" stroke="#000" stroke-width="1.15"/>
<clipPath id="vc62"><path d="M484.83,164.28 Q484.83,163.80 485.78,163.80 Q486.73,163.80 486.73,164.28 L486.73,229.00 L487.73,232.80 L488.78,250.80 L488.78,254.60 L488.63,255.30 Q488.63,256.20 487.73,256.20 L483.83,256.20 Q482.93,256.20 482.93,255.30 L482.78,254.60 L482.78,250.80 L483.83,232.80 L484.83,229.00 Z"/></clipPath>
<path d="M484.83,164.28 Q484.83,163.80 485.78,163.80 Q486.73,163.80 486.73,164.28 L486.73,229.00 L487.73,232.80 L488.78,250.80 L488.78,254.60 L488.63,255.30 Q488.63,256.20 487.73,256.20 L483.83,256.20 Q482.93,256.20 482.93,255.30 L482.78,254.60 L482.78,250.80 L483.83,232.80 L484.83,229.00 Z" fill="#4a5a6e"/>
<g clip-path="url(#vc62)">
<rect x="481.78" y="250.80" width="8" height="7.40" fill="#4a617c"/>
<rect x="481.78" y="233.00" width="8" height="17.80" fill="#ffffff"/>
<rect x="481.78" y="232.60" width="8" height="0.8" fill="#222"/>
<rect x="481.78" y="250.40" width="8" height="0.8" fill="#222"/>
<rect x="481.78" y="231.35" width="8" height="2.9" fill="#000"/>
</g>
<path d="M484.83,164.28 Q484.83,163.80 485.78,163.80 Q486.73,163.80 486.73,164.28 L486.73,229.00 L487.73,232.80 L488.78,250.80 L488.78,254.60 L488.63,255.30 Q488.63,256.20 487.73,256.20 L483.83,256.20 Q482.93,256.20 482.93,255.30 L482.78,254.60 L482.78,250.80 L483.83,232.80 L484.83,229.00 Z" fill="none" stroke="#000" stroke-width="1.15"/>
<rect x="34.5" y="160.5" width="458.5" height="107" fill="none" stroke="#222" stroke-width="1"/>
<line x1="34.5" y1="160" x2="34.5" y2="268" stroke="#111" stroke-width="1.1"/>
<line x1="34" y1="267.5" x2="493.5" y2="267.5" stroke="#111" stroke-width="1.1"/>
<line x1="31.5" y1="263.80" x2="34.5" y2="263.80" stroke="#111" stroke-width="0.9"/>
<text transform="translate(28.30,265.80)" font-size="5.9" text-anchor="end" fill="#1c1c1c" stroke="#1c1c1c" stroke-width="0.16">0.0</text>
<line x1="31.5" y1="253.82" x2="34.5" y2="253.82" stroke="#111" stroke-width="0.9"/>
<text transform="translate(28.30,255.82)" font-size="5.9" text-anchor="end" fill="#1c1c1c" stroke="#1c1c1c" stroke-width="0.16">0.1</text>
<line x1="31.5" y1="243.84" x2="34.5" y2="243.84" stroke="#111" stroke-width="0.9"/>
<text transform="translate(28.30,245.84)" font-size="5.9" text-anchor="end" fill="#1c1c1c" stroke="#1c1c1c" stroke-width="0.16">0.2</text>
<line x1="31.5" y1="233.86" x2="34.5" y2="233.86" stroke="#111" stroke-width="0.9"/>
<text transform="translate(28.30,235.86)" font-size="5.9" text-anchor="end" fill="#1c1c1c" stroke="#1c1c1c" stroke-width="0.16">0.3</text>
<line x1="31.5" y1="223.88" x2="34.5" y2="223.88" stroke="#111" stroke-width="0.9"/>
<text transform="translate(28.30,225.88)" font-size="5.9" text-anchor="end" fill="#1c1c1c" stroke="#1c1c1c" stroke-width="0.16">0.4</text>
<line x1="31.5" y1="213.90" x2="34.5" y2="213.90" stroke="#111" stroke-width="0.9"/>
<text transform="translate(28.30,215.90)" font-size="5.9" text-anchor="end" fill="#1c1c1c" stroke="#1c1c1c" stroke-width="0.16">0.5</text>
<line x1="31.5" y1="203.92" x2="34.5" y2="203.92" stroke="#111" stroke-width="0.9"/>
<text transform="translate(28.30,205.92)" font-size="5.9" text-anchor="end" fill="#1c1c1c" stroke="#1c1c1c" stroke-width="0.16">0.6</text>
<line x1="31.5" y1="193.94" x2="34.5" y2="193.94" stroke="#111" stroke-width="0.9"/>
<text transform="translate(28.30,195.94)" font-size="5.9" text-anchor="end" fill="#1c1c1c" stroke="#1c1c1c" stroke-width="0.16">0.7</text>
<line x1="31.5" y1="183.96" x2="34.5" y2="183.96" stroke="#111" stroke-width="0.9"/>
<text transform="translate(28.30,185.96)" font-size="5.9" text-anchor="end" fill="#1c1c1c" stroke="#1c1c1c" stroke-width="0.16">0.8</text>
<line x1="31.5" y1="173.98" x2="34.5" y2="173.98" stroke="#111" stroke-width="0.9"/>
<text transform="translate(28.30,175.98)" font-size="5.9" text-anchor="end" fill="#1c1c1c" stroke="#1c1c1c" stroke-width="0.16">0.9</text>
<line x1="31.5" y1="164.00" x2="34.5" y2="164.00" stroke="#111" stroke-width="0.9"/>
<text transform="translate(28.30,166.00)" font-size="5.9" text-anchor="end" fill="#1c1c1c" stroke="#1c1c1c" stroke-width="0.16">1.0</text>
<text transform="translate(13.90,214.00) rotate(-90) scale(0.8,1)" font-size="7" text-anchor="middle" fill="#1c1c1c" stroke="#1c1c1c" stroke-width="0.16">CCF</text>
<line x1="41.55" y1="267.5" x2="41.55" y2="270.5" stroke="#111" stroke-width="0.9"/>
<text transform="translate(43.75,273.40) rotate(-90) scale(1.02,1)" font-size="6.2" font-style="italic" text-anchor="end" fill="#1c1c1c" stroke="#1c1c1c" stroke-width="0.16">IDH2</text>
<line x1="48.71" y1="267.5" x2="48.71" y2="270.5" stroke="#111" stroke-width="0.9"/>
<text transform="translate(50.91,273.40) rotate(-90) scale(1.02,1)" font-size="6.2" font-style="italic" text-anchor="end" fill="#1c1c1c" stroke="#1c1c1c" stroke-width="0.16">ZFP36L1</text>
<line x1="55.88" y1="267.5" x2="55.88" y2="270.5" stroke="#111" stroke-width="0.9"/>
<text transform="translate(58.08,273.40) rotate(-90) scale(1.02,1)" font-size="6.2" text-anchor="end" fill="#1c1c1c" stroke="#1c1c1c" stroke-width="0.16">DUSP2</text>
<line x1="63.05" y1="267.5" x2="63.05" y2="270.5" stroke="#111" stroke-width="0.9"/>
<text transform="translate(65.25,273.40) rotate(-90) scale(1.02,1)" font-size="6.2" text-anchor="end" fill="#1c1c1c" stroke="#1c1c1c" stroke-width="0.16">EGR1</text>
<line x1="70.21" y1="267.5" x2="70.21" y2="270.5" stroke="#111" stroke-width="0.9"/>
<text transform="translate(72.41,273.40) rotate(-90) scale(1.02,1)" font-size="6.2" font-style="italic" text-anchor="end" fill="#1c1c1c" stroke="#1c1c1c" stroke-width="0.16">RFTN1</text>
<line x1="77.38" y1="267.5" x2="77.38" y2="270.5" stroke="#111" stroke-width="0.9"/>
<text transform="translate(79.58,273.40) rotate(-90) scale(1.02,1)" font-size="6.2" text-anchor="end" fill="#1c1c1c" stroke="#1c1c1c" stroke-width="0.16">ACTG1</text>
<line x1="84.54" y1="267.5" x2="84.54" y2="270.5" stroke="#111" stroke-width="0.9"/>
<text transform="translate(86.74,273.40) rotate(-90) scale(1.02,1)" font-size="6.2" text-anchor="end" fill="#1c1c1c" stroke="#1c1c1c" stroke-width="0.16">CCND1</text>
<line x1="91.70" y1="267.5" x2="91.70" y2="270.5" stroke="#111" stroke-width="0.9"/>
<text transform="translate(93.91,273.40) rotate(-90) scale(1.02,1)" font-size="6.2" text-anchor="end" fill="#1c1c1c" stroke="#1c1c1c" stroke-width="0.16">HIST1H1E</text>
<line x1="98.87" y1="267.5" x2="98.87" y2="270.5" stroke="#111" stroke-width="0.9"/>
<text transform="translate(101.07,273.40) rotate(-90) scale(1.02,1)" font-size="6.2" text-anchor="end" fill="#1c1c1c" stroke="#1c1c1c" stroke-width="0.16">LTB</text>
<line x1="106.03" y1="267.5" x2="106.03" y2="270.5" stroke="#111" stroke-width="0.9"/>
<text transform="translate(108.23,273.40) rotate(-90) scale(1.02,1)" font-size="6.2" text-anchor="end" fill="#1c1c1c" stroke="#1c1c1c" stroke-width="0.16">TGDS</text>
<line x1="113.20" y1="267.5" x2="113.20" y2="270.5" stroke="#111" stroke-width="0.9"/>
<text transform="translate(115.40,273.40) rotate(-90) scale(1.02,1)" font-size="6.2" text-anchor="end" fill="#1c1c1c" stroke="#1c1c1c" stroke-width="0.16">PIK3CA</text>
<line x1="120.36" y1="267.5" x2="120.36" y2="270.5" stroke="#111" stroke-width="0.9"/>
<text transform="translate(122.56,273.40) rotate(-90) scale(1.02,1)" font-size="6.2" font-style="italic" text-anchor="end" fill="#1c1c1c" stroke="#1c1c1c" stroke-width="0.16">MAF</text>
<line x1="127.53" y1="267.5" x2="127.53" y2="270.5" stroke="#111" stroke-width="0.9"/>
<text transform="translate(129.73,273.40) rotate(-90) scale(1.02,1)" font-size="6.2" font-style="italic" text-anchor="end" fill="#1c1c1c" stroke="#1c1c1c" stroke-width="0.16">KLHL6</text>
<line x1="134.69" y1="267.5" x2="134.69" y2="270.5" stroke="#111" stroke-width="0.9"/>
<text transform="translate(136.89,273.40) rotate(-90) scale(1.02,1)" font-size="6.2" text-anchor="end" fill="#1c1c1c" stroke="#1c1c1c" stroke-width="0.16">PRKD2</text>
<line x1="141.86" y1="267.5" x2="141.86" y2="270.5" stroke="#111" stroke-width="0.9"/>
<text transform="translate(144.06,273.40) rotate(-90) scale(1.02,1)" font-size="6.2" text-anchor="end" fill="#1c1c1c" stroke="#1c1c1c" stroke-width="0.16">TP53</text>
<line x1="149.02" y1="267.5" x2="149.02" y2="270.5" stroke="#111" stroke-width="0.9"/>
<text transform="translate(151.22,273.40) rotate(-90) scale(1.02,1)" font-size="6.2" font-style="italic" text-anchor="end" fill="#1c1c1c" stroke="#1c1c1c" stroke-width="0.16">PTPN11</text>
<line x1="156.19" y1="267.5" x2="156.19" y2="270.5" stroke="#111" stroke-width="0.9"/>
<text transform="translate(158.39,273.40) rotate(-90) scale(1.02,1)" font-size="6.2" font-style="italic" text-anchor="end" fill="#1c1c1c" stroke="#1c1c1c" stroke-width="0.16">NRAS</text>
<line x1="163.36" y1="267.5" x2="163.36" y2="270.5" stroke="#111" stroke-width="0.9"/>
<text transform="translate(165.56,273.40) rotate(-90) scale(1.02,1)" font-size="6.2" text-anchor="end" fill="#1c1c1c" stroke="#1c1c1c" stroke-width="0.16">ARID1A</text>
<line x1="170.52" y1="267.5" x2="170.52" y2="270.5" stroke="#111" stroke-width="0.9"/>
<text transform="translate(172.72,273.40) rotate(-90) scale(1.02,1)" font-size="6.2" font-style="italic" text-anchor="end" fill="#1c1c1c" stroke="#1c1c1c" stroke-width="0.16">MAX</text>
<line x1="177.69" y1="267.5" x2="177.69" y2="270.5" stroke="#111" stroke-width="0.9"/>
<text transform="translate(179.88,273.40) rotate(-90) scale(1.02,1)" font-size="6.2" text-anchor="end" fill="#1c1c1c" stroke="#1c1c1c" stroke-width="0.16">SETD2</text>
<line x1="184.85" y1="267.5" x2="184.85" y2="270.5" stroke="#111" stroke-width="0.9"/>
<text transform="translate(187.05,273.40) rotate(-90) scale(1.02,1)" font-size="6.2" font-style="italic" text-anchor="end" fill="#1c1c1c" stroke="#1c1c1c" stroke-width="0.16">BRAF</text>
<line x1="192.01" y1="267.5" x2="192.01" y2="270.5" stroke="#111" stroke-width="0.9"/>
<text transform="translate(194.21,273.40) rotate(-90) scale(1.02,1)" font-size="6.2" text-anchor="end" fill="#1c1c1c" stroke="#1c1c1c" stroke-width="0.16">SP140</text>
<line x1="199.18" y1="267.5" x2="199.18" y2="270.5" stroke="#111" stroke-width="0.9"/>
<text transform="translate(201.38,273.40) rotate(-90) scale(1.02,1)" font-size="6.2" text-anchor="end" fill="#1c1c1c" stroke="#1c1c1c" stroke-width="0.16">DIS3</text>
<line x1="206.34" y1="267.5" x2="206.34" y2="270.5" stroke="#111" stroke-width="0.9"/>
<text transform="translate(208.54,273.40) rotate(-90) scale(1.02,1)" font-size="6.2" font-style="italic" text-anchor="end" fill="#1c1c1c" stroke="#1c1c1c" stroke-width="0.16">FUBP1</text>
<line x1="213.51" y1="267.5" x2="213.51" y2="270.5" stroke="#111" stroke-width="0.9"/>
<text transform="translate(215.71,273.40) rotate(-90) scale(1.02,1)" font-size="6.2" text-anchor="end" fill="#1c1c1c" stroke="#1c1c1c" stroke-width="0.16">XBP1</text>
<line x1="220.68" y1="267.5" x2="220.68" y2="270.5" stroke="#111" stroke-width="0.9"/>
<text transform="translate(222.88,273.40) rotate(-90) scale(1.02,1)" font-size="6.2" text-anchor="end" fill="#1c1c1c" stroke="#1c1c1c" stroke-width="0.16">TRAF3</text>
<line x1="227.84" y1="267.5" x2="227.84" y2="270.5" stroke="#111" stroke-width="0.9"/>
<text transform="translate(230.04,273.40) rotate(-90) scale(1.02,1)" font-size="6.2" font-style="italic" text-anchor="end" fill="#1c1c1c" stroke="#1c1c1c" stroke-width="0.16">IDH1</text>
<line x1="235.00" y1="267.5" x2="235.00" y2="270.5" stroke="#111" stroke-width="0.9"/>
<text transform="translate(237.20,273.40) rotate(-90) scale(1.02,1)" font-size="6.2" text-anchor="end" fill="#1c1c1c" stroke="#1c1c1c" stroke-width="0.16">SAMHD1</text>
<line x1="242.17" y1="267.5" x2="242.17" y2="270.5" stroke="#111" stroke-width="0.9"/>
<text transform="translate(244.37,273.40) rotate(-90) scale(1.02,1)" font-size="6.2" text-anchor="end" fill="#1c1c1c" stroke="#1c1c1c" stroke-width="0.16">HUWE1</text>
<line x1="249.33" y1="267.5" x2="249.33" y2="270.5" stroke="#111" stroke-width="0.9"/>
<text transform="translate(251.53,273.40) rotate(-90) scale(1.02,1)" font-size="6.2" text-anchor="end" fill="#1c1c1c" stroke="#1c1c1c" stroke-width="0.16">RASA2</text>
<line x1="256.50" y1="267.5" x2="256.50" y2="270.5" stroke="#111" stroke-width="0.9"/>
<text transform="translate(258.70,273.40) rotate(-90) scale(1.02,1)" font-size="6.2" text-anchor="end" fill="#1c1c1c" stroke="#1c1c1c" stroke-width="0.16">PRDM1</text>
<line x1="263.67" y1="267.5" x2="263.67" y2="270.5" stroke="#111" stroke-width="0.9"/>
<text transform="translate(265.87,273.40) rotate(-90) scale(1.02,1)" font-size="6.2" font-style="italic" text-anchor="end" fill="#1c1c1c" stroke="#1c1c1c" stroke-width="0.16">IRF4</text>
<line x1="270.83" y1="267.5" x2="270.83" y2="270.5" stroke="#111" stroke-width="0.9"/>
<text transform="translate(273.03,273.40) rotate(-90) scale(1.02,1)" font-size="6.2" font-style="italic" text-anchor="end" fill="#1c1c1c" stroke="#1c1c1c" stroke-width="0.16">KRAS</text>
<line x1="278.00" y1="267.5" x2="278.00" y2="270.5" stroke="#111" stroke-width="0.9"/>
<text transform="translate(280.19,273.40) rotate(-90) scale(1.02,1)" font-size="6.2" font-style="italic" text-anchor="end" fill="#1c1c1c" stroke="#1c1c1c" stroke-width="0.16">NF1</text>
<line x1="285.16" y1="267.5" x2="285.16" y2="270.5" stroke="#111" stroke-width="0.9"/>
<text transform="translate(287.36,273.40) rotate(-90) scale(1.02,1)" font-size="6.2" text-anchor="end" fill="#1c1c1c" stroke="#1c1c1c" stroke-width="0.16">NCOR1</text>
<line x1="292.32" y1="267.5" x2="292.32" y2="270.5" stroke="#111" stroke-width="0.9"/>
<text transform="translate(294.52,273.40) rotate(-90) scale(1.02,1)" font-size="6.2" text-anchor="end" fill="#1c1c1c" stroke="#1c1c1c" stroke-width="0.16">ARID2</text>
<line x1="299.49" y1="267.5" x2="299.49" y2="270.5" stroke="#111" stroke-width="0.9"/>
<text transform="translate(301.69,273.40) rotate(-90) scale(1.02,1)" font-size="6.2" font-style="italic" text-anchor="end" fill="#1c1c1c" stroke="#1c1c1c" stroke-width="0.16">RB1</text>
<line x1="306.66" y1="267.5" x2="306.66" y2="270.5" stroke="#111" stroke-width="0.9"/>
<text transform="translate(308.86,273.40) rotate(-90) scale(1.02,1)" font-size="6.2" font-style="italic" text-anchor="end" fill="#1c1c1c" stroke="#1c1c1c" stroke-width="0.16">SF3B1</text>
<line x1="313.82" y1="267.5" x2="313.82" y2="270.5" stroke="#111" stroke-width="0.9"/>
<text transform="translate(316.02,273.40) rotate(-90) scale(1.02,1)" font-size="6.2" font-style="italic" text-anchor="end" fill="#1c1c1c" stroke="#1c1c1c" stroke-width="0.16">FAM46C</text>
<line x1="320.99" y1="267.5" x2="320.99" y2="270.5" stroke="#111" stroke-width="0.9"/>
<text transform="translate(323.19,273.40) rotate(-90) scale(1.02,1)" font-size="6.2" text-anchor="end" fill="#1c1c1c" stroke="#1c1c1c" stroke-width="0.16">NFKBIA</text>
<line x1="328.15" y1="267.5" x2="328.15" y2="270.5" stroke="#111" stroke-width="0.9"/>
<text transform="translate(330.35,273.40) rotate(-90) scale(1.02,1)" font-size="6.2" font-style="italic" text-anchor="end" fill="#1c1c1c" stroke="#1c1c1c" stroke-width="0.16">ATM</text>
<line x1="335.31" y1="267.5" x2="335.31" y2="270.5" stroke="#111" stroke-width="0.9"/>
<text transform="translate(337.51,273.40) rotate(-90) scale(1.02,1)" font-size="6.2" text-anchor="end" fill="#1c1c1c" stroke="#1c1c1c" stroke-width="0.16">CDKN2C</text>
<line x1="342.48" y1="267.5" x2="342.48" y2="270.5" stroke="#111" stroke-width="0.9"/>
<text transform="translate(344.68,273.40) rotate(-90) scale(1.02,1)" font-size="6.2" text-anchor="end" fill="#1c1c1c" stroke="#1c1c1c" stroke-width="0.16">EP300</text>
<line x1="349.65" y1="267.5" x2="349.65" y2="270.5" stroke="#111" stroke-width="0.9"/>
<text transform="translate(351.85,273.40) rotate(-90) scale(1.02,1)" font-size="6.2" text-anchor="end" fill="#1c1c1c" stroke="#1c1c1c" stroke-width="0.16">CDKN1B</text>
<line x1="356.81" y1="267.5" x2="356.81" y2="270.5" stroke="#111" stroke-width="0.9"/>
<text transform="translate(359.01,273.40) rotate(-90) scale(1.02,1)" font-size="6.2" font-style="italic" text-anchor="end" fill="#1c1c1c" stroke="#1c1c1c" stroke-width="0.16">MAML2</text>
<line x1="363.98" y1="267.5" x2="363.98" y2="270.5" stroke="#111" stroke-width="0.9"/>
<text transform="translate(366.18,273.40) rotate(-90) scale(1.02,1)" font-size="6.2" font-style="italic" text-anchor="end" fill="#1c1c1c" stroke="#1c1c1c" stroke-width="0.16">C8orf34</text>
<line x1="371.14" y1="267.5" x2="371.14" y2="270.5" stroke="#111" stroke-width="0.9"/>
<text transform="translate(373.34,273.40) rotate(-90) scale(1.02,1)" font-size="6.2" font-style="italic" text-anchor="end" fill="#1c1c1c" stroke="#1c1c1c" stroke-width="0.16">ZNF292</text>
<line x1="378.31" y1="267.5" x2="378.31" y2="270.5" stroke="#111" stroke-width="0.9"/>
<text transform="translate(380.50,273.40) rotate(-90) scale(1.02,1)" font-size="6.2" text-anchor="end" fill="#1c1c1c" stroke="#1c1c1c" stroke-width="0.16">KMT2C</text>
<line x1="385.47" y1="267.5" x2="385.47" y2="270.5" stroke="#111" stroke-width="0.9"/>
<text transform="translate(387.67,273.40) rotate(-90) scale(1.02,1)" font-size="6.2" text-anchor="end" fill="#1c1c1c" stroke="#1c1c1c" stroke-width="0.16">ABCF1</text>
<line x1="392.63" y1="267.5" x2="392.63" y2="270.5" stroke="#111" stroke-width="0.9"/>
<text transform="translate(394.83,273.40) rotate(-90) scale(1.02,1)" font-size="6.2" font-style="italic" text-anchor="end" fill="#1c1c1c" stroke="#1c1c1c" stroke-width="0.16">MAN2C1</text>
<line x1="399.80" y1="267.5" x2="399.80" y2="270.5" stroke="#111" stroke-width="0.9"/>
<text transform="translate(402.00,273.40) rotate(-90) scale(1.02,1)" font-size="6.2" font-style="italic" text-anchor="end" fill="#1c1c1c" stroke="#1c1c1c" stroke-width="0.16">NFKB2</text>
<line x1="406.97" y1="267.5" x2="406.97" y2="270.5" stroke="#111" stroke-width="0.9"/>
<text transform="translate(409.17,273.40) rotate(-90) scale(1.02,1)" font-size="6.2" font-style="italic" text-anchor="end" fill="#1c1c1c" stroke="#1c1c1c" stroke-width="0.16">FGFR3</text>
<line x1="414.13" y1="267.5" x2="414.13" y2="270.5" stroke="#111" stroke-width="0.9"/>
<text transform="translate(416.33,273.40) rotate(-90) scale(1.02,1)" font-size="6.2" font-style="italic" text-anchor="end" fill="#1c1c1c" stroke="#1c1c1c" stroke-width="0.16">MAFB</text>
<line x1="421.30" y1="267.5" x2="421.30" y2="270.5" stroke="#111" stroke-width="0.9"/>
<text transform="translate(423.50,273.40) rotate(-90) scale(1.02,1)" font-size="6.2" text-anchor="end" fill="#1c1c1c" stroke="#1c1c1c" stroke-width="0.16">TET2</text>
<line x1="428.46" y1="267.5" x2="428.46" y2="270.5" stroke="#111" stroke-width="0.9"/>
<text transform="translate(430.66,273.40) rotate(-90) scale(1.02,1)" font-size="6.2" font-style="italic" text-anchor="end" fill="#1c1c1c" stroke="#1c1c1c" stroke-width="0.16">KMT2B</text>
<line x1="435.62" y1="267.5" x2="435.62" y2="270.5" stroke="#111" stroke-width="0.9"/>
<text transform="translate(437.82,273.40) rotate(-90) scale(1.02,1)" font-size="6.2" text-anchor="end" fill="#1c1c1c" stroke="#1c1c1c" stroke-width="0.16">CREBBP</text>
<line x1="442.79" y1="267.5" x2="442.79" y2="270.5" stroke="#111" stroke-width="0.9"/>
<text transform="translate(444.99,273.40) rotate(-90) scale(1.02,1)" font-size="6.2" text-anchor="end" fill="#1c1c1c" stroke="#1c1c1c" stroke-width="0.16">DNMT3A</text>
<line x1="449.96" y1="267.5" x2="449.96" y2="270.5" stroke="#111" stroke-width="0.9"/>
<text transform="translate(452.16,273.40) rotate(-90) scale(1.02,1)" font-size="6.2" text-anchor="end" fill="#1c1c1c" stroke="#1c1c1c" stroke-width="0.16">CYLD</text>
<line x1="457.12" y1="267.5" x2="457.12" y2="270.5" stroke="#111" stroke-width="0.9"/>
<text transform="translate(459.32,273.40) rotate(-90) scale(1.02,1)" font-size="6.2" text-anchor="end" fill="#1c1c1c" stroke="#1c1c1c" stroke-width="0.16">KDM6A</text>
<line x1="464.29" y1="267.5" x2="464.29" y2="270.5" stroke="#111" stroke-width="0.9"/>
<text transform="translate(466.49,273.40) rotate(-90) scale(1.02,1)" font-size="6.2" font-style="italic" text-anchor="end" fill="#1c1c1c" stroke="#1c1c1c" stroke-width="0.16">TRAF2</text>
<line x1="471.45" y1="267.5" x2="471.45" y2="270.5" stroke="#111" stroke-width="0.9"/>
<text transform="translate(473.65,273.40) rotate(-90) scale(1.02,1)" font-size="6.2" text-anchor="end" fill="#1c1c1c" stroke="#1c1c1c" stroke-width="0.16">ATRX</text>
<line x1="478.62" y1="267.5" x2="478.62" y2="270.5" stroke="#111" stroke-width="0.9"/>
<text transform="translate(480.81,273.40) rotate(-90) scale(1.02,1)" font-size="6.2" text-anchor="end" fill="#1c1c1c" stroke="#1c1c1c" stroke-width="0.16">UBR5</text>
<line x1="485.78" y1="267.5" x2="485.78" y2="270.5" stroke="#111" stroke-width="0.9"/>
<text transform="translate(487.98,273.40) rotate(-90) scale(1.02,1)" font-size="6.2" text-anchor="end" fill="#1c1c1c" stroke="#1c1c1c" stroke-width="0.16">KDM5C</text>
</g>
<g id="panelC">
<text transform="translate(7.00,323.80)" font-size="11.6" font-weight="bold" fill="#111">C</text>
<text transform="translate(92.80,334.60) scale(1.05,1)" font-size="6.3" text-anchor="middle" fill="#1c1c1c" stroke="#1c1c1c" stroke-width="0.16">ONC score</text>
<text transform="translate(299.50,334.60) scale(1.1,1)" font-size="6.3" text-anchor="middle" fill="#1c1c1c" stroke="#1c1c1c" stroke-width="0.16">TSG score</text>
<text transform="translate(196.10,335.10) scale(0.94,1)" font-size="7.8" text-anchor="middle" fill="#1c1c1c" stroke="#1c1c1c" stroke-width="0.16">Gene</text>
<rect x="16.70" y="341.35" width="159.40" height="1.16" fill="#efb8c3"/>
<rect x="35.00" y="346.61" width="141.10" height="1.16" fill="#efb8c3"/>
<rect x="37.60" y="351.87" width="138.50" height="1.16" fill="#efb8c3"/>
<rect x="41.50" y="357.13" width="134.60" height="1.16" fill="#efb8c3"/>
<rect x="52.70" y="372.91" width="123.40" height="1.16" fill="#efb8c3"/>
<rect x="54.10" y="378.17" width="122.00" height="1.16" fill="#efb8c3"/>
<rect x="71.00" y="383.43" width="105.10" height="1.16" fill="#efb8c3"/>
<rect x="87.20" y="388.69" width="88.90" height="1.16" fill="#efb8c3"/>
<rect x="94.10" y="393.95" width="82.00" height="1.16" fill="#efb8c3"/>
<rect x="105.90" y="399.21" width="70.20" height="1.16" fill="#efb8c3"/>
<rect x="107.50" y="404.47" width="68.60" height="1.16" fill="#efb8c3"/>
<rect x="115.30" y="409.73" width="60.80" height="1.16" fill="#efb8c3"/>
<rect x="115.60" y="414.99" width="60.50" height="1.16" fill="#efb8c3"/>
<rect x="116.20" y="420.25" width="59.90" height="1.16" fill="#efb8c3"/>
<rect x="124.20" y="425.51" width="51.90" height="1.16" fill="#efb8c3"/>
<rect x="124.20" y="430.77" width="51.90" height="1.16" fill="#efb8c3"/>
<rect x="14.90" y="337.25" width="7.10" height="4.1" fill="#7a1a38"/>
<rect x="22.00" y="337.25" width="154.10" height="4.1" fill="#5e1a40"/>
<line x1="176.6" y1="339.30" x2="179.6" y2="339.30" stroke="#111" stroke-width="1"/>
<line x1="212.8" y1="339.30" x2="215.8" y2="339.30" stroke="#111" stroke-width="1"/>
<text transform="translate(196.40,341.15) scale(1.06,1)" font-size="5.1" text-anchor="middle" fill="#383838" stroke="#383838" stroke-width="0.16">NRAS</text>
<rect x="16.70" y="342.51" width="23.20" height="4.1" fill="#a01c33"/>
<rect x="39.90" y="342.51" width="136.20" height="4.1" fill="#5e1a40"/>
<line x1="176.6" y1="344.56" x2="179.6" y2="344.56" stroke="#111" stroke-width="1"/>
<line x1="212.8" y1="344.56" x2="215.8" y2="344.56" stroke="#111" stroke-width="1"/>
<text transform="translate(196.40,346.41) scale(1.06,1)" font-size="5.1" text-anchor="middle" fill="#383838" stroke="#383838" stroke-width="0.16">KRAS</text>
<rect x="35.00" y="347.77" width="141.10" height="4.1" fill="#5e1a40"/>
<line x1="176.6" y1="349.82" x2="179.6" y2="349.82" stroke="#111" stroke-width="1"/>
<line x1="212.8" y1="349.82" x2="215.8" y2="349.82" stroke="#111" stroke-width="1"/>
<text transform="translate(196.40,351.67) scale(1.06,1)" font-size="5.1" text-anchor="middle" fill="#383838" stroke="#383838" stroke-width="0.16">IDH1</text>
<rect x="37.60" y="353.03" width="48.20" height="4.1" fill="#a01c33"/>
<rect x="85.80" y="353.03" width="90.30" height="4.1" fill="#5e1a40"/>
<line x1="176.6" y1="355.08" x2="179.6" y2="355.08" stroke="#111" stroke-width="1"/>
<line x1="212.8" y1="355.08" x2="215.8" y2="355.08" stroke="#111" stroke-width="1"/>
<text transform="translate(196.40,356.93) scale(1.06,1)" font-size="5.1" text-anchor="middle" fill="#383838" stroke="#383838" stroke-width="0.16">BRAF</text>
<rect x="41.50" y="358.29" width="6.10" height="4.1" fill="#5e1a40"/>
<rect x="47.60" y="358.29" width="128.50" height="4.1" fill="#a01c33"/>
<rect x="216.10" y="358.29" width="5.40" height="4.1" fill="#a3a3a3"/>
<line x1="176.6" y1="360.34" x2="179.6" y2="360.34" stroke="#111" stroke-width="1"/>
<line x1="212.8" y1="360.34" x2="215.8" y2="360.34" stroke="#111" stroke-width="1"/>
<text transform="translate(196.40,362.19) scale(1.06,1)" font-size="5.1" text-anchor="middle" fill="#383838" stroke="#383838" stroke-width="0.16">PTPN11</text>
<rect x="49.70" y="363.55" width="56.70" height="4.1" fill="#8a8a8a"/>
<rect x="106.40" y="363.55" width="69.70" height="4.1" fill="#b9b9b9"/>
<rect x="216.10" y="363.55" width="29.70" height="4.1" fill="#5c6f86"/>
<rect x="245.80" y="363.55" width="5.90" height="4.1" fill="#b2c4d5"/>
<line x1="176.6" y1="365.60" x2="179.6" y2="365.60" stroke="#111" stroke-width="1"/>
<line x1="212.8" y1="365.60" x2="215.8" y2="365.60" stroke="#111" stroke-width="1"/>
<text transform="translate(196.40,367.45) scale(1.06,1)" font-size="5.1" text-anchor="middle" fill="#383838" stroke="#383838" stroke-width="0.16">TP53</text>
<rect x="52.70" y="368.81" width="123.40" height="4.1" fill="#5e1a40"/>
<line x1="176.6" y1="370.86" x2="179.6" y2="370.86" stroke="#111" stroke-width="1"/>
<line x1="212.8" y1="370.86" x2="215.8" y2="370.86" stroke="#111" stroke-width="1"/>
<text transform="translate(196.40,372.71) scale(1.06,1)" font-size="5.1" text-anchor="middle" fill="#383838" stroke="#383838" stroke-width="0.16">PIK3CA</text>
<rect x="52.70" y="374.07" width="24.80" height="4.1" fill="#5e1a40"/>
<rect x="77.50" y="374.07" width="98.60" height="4.1" fill="#a01c33"/>
<line x1="176.6" y1="376.12" x2="179.6" y2="376.12" stroke="#111" stroke-width="1"/>
<line x1="212.8" y1="376.12" x2="215.8" y2="376.12" stroke="#111" stroke-width="1"/>
<text transform="translate(196.40,377.97) scale(1.06,1)" font-size="5.1" text-anchor="middle" fill="#383838" stroke="#383838" stroke-width="0.16">IDH2</text>
<rect x="54.10" y="379.33" width="122.00" height="4.1" fill="#a01c33"/>
<rect x="216.10" y="379.33" width="7.90" height="4.1" fill="#a3a3a3"/>
<line x1="176.6" y1="381.38" x2="179.6" y2="381.38" stroke="#111" stroke-width="1"/>
<line x1="212.8" y1="381.38" x2="215.8" y2="381.38" stroke="#111" stroke-width="1"/>
<text transform="translate(196.40,383.23) scale(1.06,1)" font-size="5.1" text-anchor="middle" fill="#383838" stroke="#383838" stroke-width="0.16">IRF4</text>
<rect x="71.00" y="384.59" width="9.00" height="4.1" fill="#5e1a40"/>
<rect x="80.00" y="384.59" width="96.10" height="4.1" fill="#a01c33"/>
<rect x="216.10" y="384.59" width="8.90" height="4.1" fill="#777370"/>
<rect x="225.00" y="384.59" width="6.70" height="4.1" fill="#a3a3a3"/>
<line x1="176.6" y1="386.64" x2="179.6" y2="386.64" stroke="#111" stroke-width="1"/>
<line x1="212.8" y1="386.64" x2="215.8" y2="386.64" stroke="#111" stroke-width="1"/>
<text transform="translate(196.40,388.49) scale(1.06,1)" font-size="5.1" text-anchor="middle" fill="#383838" stroke="#383838" stroke-width="0.16">DIS3</text>
<rect x="87.20" y="389.85" width="88.90" height="4.1" fill="#a01c33"/>
<rect x="216.10" y="389.85" width="32.90" height="4.1" fill="#777370"/>
<rect x="249.00" y="389.85" width="23.00" height="4.1" fill="#a3a3a3"/>
<line x1="176.6" y1="391.90" x2="179.6" y2="391.90" stroke="#111" stroke-width="1"/>
<line x1="212.8" y1="391.90" x2="215.8" y2="391.90" stroke="#111" stroke-width="1"/>
<text transform="translate(196.40,393.75) scale(1.06,1)" font-size="5.1" text-anchor="middle" fill="#383838" stroke="#383838" stroke-width="0.16">MAX</text>
<rect x="94.10" y="395.11" width="82.00" height="4.1" fill="#a01c33"/>
<line x1="176.6" y1="397.16" x2="179.6" y2="397.16" stroke="#111" stroke-width="1"/>
<line x1="212.8" y1="397.16" x2="215.8" y2="397.16" stroke="#111" stroke-width="1"/>
<text transform="translate(196.40,399.01) scale(1.06,1)" font-size="5.1" text-anchor="middle" fill="#383838" stroke="#383838" stroke-width="0.16">PRKD2</text>
<rect x="105.90" y="400.37" width="70.20" height="4.1" fill="#a01c33"/>
<rect x="216.10" y="400.37" width="2.90" height="4.1" fill="#a3a3a3"/>
<line x1="176.6" y1="402.42" x2="179.6" y2="402.42" stroke="#111" stroke-width="1"/>
<line x1="212.8" y1="402.42" x2="215.8" y2="402.42" stroke="#111" stroke-width="1"/>
<text transform="translate(196.40,404.27) scale(1.06,1)" font-size="5.1" text-anchor="middle" fill="#383838" stroke="#383838" stroke-width="0.16">HIST1H1E</text>
<rect x="107.50" y="405.63" width="27.90" height="4.1" fill="#a01c33"/>
<rect x="135.40" y="405.63" width="40.70" height="4.1" fill="#5e1a40"/>
<rect x="216.10" y="405.63" width="6.70" height="4.1" fill="#a3a3a3"/>
<line x1="176.6" y1="407.68" x2="179.6" y2="407.68" stroke="#111" stroke-width="1"/>
<line x1="212.8" y1="407.68" x2="215.8" y2="407.68" stroke="#111" stroke-width="1"/>
<text transform="translate(196.40,409.53) scale(1.06,1)" font-size="5.1" text-anchor="middle" fill="#383838" stroke="#383838" stroke-width="0.16">SF3B1</text>
<rect x="115.30" y="410.89" width="60.80" height="4.1" fill="#a01c33"/>
<rect x="216.10" y="410.89" width="4.40" height="4.1" fill="#a3a3a3"/>
<line x1="176.6" y1="412.94" x2="179.6" y2="412.94" stroke="#111" stroke-width="1"/>
<line x1="212.8" y1="412.94" x2="215.8" y2="412.94" stroke="#111" stroke-width="1"/>
<text transform="translate(196.40,414.79) scale(1.06,1)" font-size="5.1" text-anchor="middle" fill="#383838" stroke="#383838" stroke-width="0.16">EGR1</text>
<rect x="115.60" y="416.15" width="3.90" height="4.1" fill="#5e1a40"/>
<rect x="119.50" y="416.15" width="56.60" height="4.1" fill="#a01c33"/>
<rect x="216.10" y="416.15" width="30.10" height="4.1" fill="#a3a3a3"/>
<line x1="176.6" y1="418.20" x2="179.6" y2="418.20" stroke="#111" stroke-width="1"/>
<line x1="212.8" y1="418.20" x2="215.8" y2="418.20" stroke="#111" stroke-width="1"/>
<text transform="translate(196.40,420.05) scale(1.06,1)" font-size="5.1" text-anchor="middle" fill="#383838" stroke="#383838" stroke-width="0.16">FGFR3</text>
<rect x="116.20" y="421.41" width="59.90" height="4.1" fill="#a01c33"/>
<line x1="176.6" y1="423.46" x2="179.6" y2="423.46" stroke="#111" stroke-width="1"/>
<line x1="212.8" y1="423.46" x2="215.8" y2="423.46" stroke="#111" stroke-width="1"/>
<text transform="translate(196.40,425.31) scale(1.06,1)" font-size="5.1" text-anchor="middle" fill="#383838" stroke="#383838" stroke-width="0.16">MAF</text>
<rect x="124.20" y="426.67" width="51.90" height="4.1" fill="#a01c33"/>
<rect x="216.10" y="426.67" width="10.50" height="4.1" fill="#777370"/>
<line x1="176.6" y1="428.72" x2="179.6" y2="428.72" stroke="#111" stroke-width="1"/>
<line x1="212.8" y1="428.72" x2="215.8" y2="428.72" stroke="#111" stroke-width="1"/>
<text transform="translate(196.40,430.57) scale(1.06,1)" font-size="5.1" text-anchor="middle" fill="#383838" stroke="#383838" stroke-width="0.16">ACTG1</text>
<rect x="124.20" y="431.93" width="36.60" height="4.1" fill="#a01c33"/>
<rect x="160.80" y="431.93" width="15.30" height="4.1" fill="#5e1a40"/>
<rect x="216.10" y="431.93" width="8.40" height="4.1" fill="#a3a3a3"/>
<line x1="176.6" y1="433.98" x2="179.6" y2="433.98" stroke="#111" stroke-width="1"/>
<line x1="212.8" y1="433.98" x2="215.8" y2="433.98" stroke="#111" stroke-width="1"/>
<text transform="translate(196.40,435.83) scale(1.06,1)" font-size="5.1" text-anchor="middle" fill="#383838" stroke="#383838" stroke-width="0.16">CCND1</text>
<rect x="135.40" y="437.19" width="28.40" height="4.1" fill="#b9b9b9"/>
<rect x="163.80" y="437.19" width="12.30" height="4.1" fill="#8a8a8a"/>
<rect x="216.10" y="437.19" width="20.90" height="4.1" fill="#5c6f86"/>
<rect x="237.00" y="437.19" width="37.50" height="4.1" fill="#b2c4d5"/>
<line x1="176.6" y1="439.24" x2="179.6" y2="439.24" stroke="#111" stroke-width="1"/>
<line x1="212.8" y1="439.24" x2="215.8" y2="439.24" stroke="#111" stroke-width="1"/>
<text transform="translate(196.40,441.09) scale(1.06,1)" font-size="5.1" text-anchor="middle" fill="#383838" stroke="#383838" stroke-width="0.16">TET2</text>
<rect x="139.70" y="442.45" width="36.40" height="4.1" fill="#b9b9b9"/>
<rect x="216.10" y="442.45" width="18.40" height="4.1" fill="#5c6f86"/>
<rect x="234.50" y="442.45" width="34.80" height="4.1" fill="#b2c4d5"/>
<line x1="176.6" y1="444.50" x2="179.6" y2="444.50" stroke="#111" stroke-width="1"/>
<line x1="212.8" y1="444.50" x2="215.8" y2="444.50" stroke="#111" stroke-width="1"/>
<text transform="translate(196.40,446.35) scale(1.06,1)" font-size="5.1" text-anchor="middle" fill="#383838" stroke="#383838" stroke-width="0.16">CREBBP</text>
<rect x="141.20" y="447.71" width="1.80" height="4.1" fill="#5e1a40"/>
<rect x="143.00" y="447.71" width="33.10" height="4.1" fill="#a01c33"/>
<rect x="216.10" y="447.71" width="34.40" height="4.1" fill="#a3a3a3"/>
<line x1="176.6" y1="449.76" x2="179.6" y2="449.76" stroke="#111" stroke-width="1"/>
<line x1="212.8" y1="449.76" x2="215.8" y2="449.76" stroke="#111" stroke-width="1"/>
<text transform="translate(196.40,451.61) scale(1.06,1)" font-size="5.1" text-anchor="middle" fill="#383838" stroke="#383838" stroke-width="0.16">MAFB</text>
<rect x="143.20" y="452.97" width="32.90" height="4.1" fill="#a3a3a3"/>
<rect x="216.10" y="452.97" width="54.20" height="4.1" fill="#5c6f86"/>
<rect x="270.30" y="452.97" width="33.00" height="4.1" fill="#b2c4d5"/>
<line x1="176.6" y1="455.02" x2="179.6" y2="455.02" stroke="#111" stroke-width="1"/>
<line x1="212.8" y1="455.02" x2="215.8" y2="455.02" stroke="#111" stroke-width="1"/>
<text transform="translate(196.40,456.87) scale(1.06,1)" font-size="5.1" text-anchor="middle" fill="#383838" stroke="#383838" stroke-width="0.16">TRAF3</text>
<rect x="145.80" y="458.23" width="30.30" height="4.1" fill="#a3a3a3"/>
<rect x="216.10" y="458.23" width="14.70" height="4.1" fill="#5c6f86"/>
<rect x="230.80" y="458.23" width="46.60" height="4.1" fill="#b2c4d5"/>
<line x1="176.6" y1="460.28" x2="179.6" y2="460.28" stroke="#111" stroke-width="1"/>
<line x1="212.8" y1="460.28" x2="215.8" y2="460.28" stroke="#111" stroke-width="1"/>
<text transform="translate(196.40,462.13) scale(1.06,1)" font-size="5.1" text-anchor="middle" fill="#383838" stroke="#383838" stroke-width="0.16">ATRX</text>
<rect x="147.70" y="463.49" width="4.30" height="4.1" fill="#8a8a8a"/>
<rect x="152.00" y="463.49" width="24.10" height="4.1" fill="#a3a3a3"/>
<rect x="216.10" y="463.49" width="90.10" height="4.1" fill="#b2c4d5"/>
<line x1="176.6" y1="465.54" x2="179.6" y2="465.54" stroke="#111" stroke-width="1"/>
<line x1="212.8" y1="465.54" x2="215.8" y2="465.54" stroke="#111" stroke-width="1"/>
<text transform="translate(196.40,467.39) scale(1.06,1)" font-size="5.1" text-anchor="middle" fill="#383838" stroke="#383838" stroke-width="0.16">FAM46C</text>
<rect x="156.20" y="468.75" width="19.90" height="4.1" fill="#a3a3a3"/>
<rect x="216.10" y="468.75" width="39.20" height="4.1" fill="#5c6f86"/>
<rect x="255.30" y="468.75" width="32.70" height="4.1" fill="#b2c4d5"/>
<line x1="176.6" y1="470.80" x2="179.6" y2="470.80" stroke="#111" stroke-width="1"/>
<line x1="212.8" y1="470.80" x2="215.8" y2="470.80" stroke="#111" stroke-width="1"/>
<text transform="translate(196.40,472.65) scale(1.06,1)" font-size="5.1" text-anchor="middle" fill="#383838" stroke="#383838" stroke-width="0.16">CDKN1B</text>
<rect x="157.00" y="474.01" width="19.10" height="4.1" fill="#a3a3a3"/>
<rect x="216.10" y="474.01" width="24.20" height="4.1" fill="#5c6f86"/>
<rect x="240.30" y="474.01" width="22.10" height="4.1" fill="#b2c4d5"/>
<line x1="176.6" y1="476.06" x2="179.6" y2="476.06" stroke="#111" stroke-width="1"/>
<line x1="212.8" y1="476.06" x2="215.8" y2="476.06" stroke="#111" stroke-width="1"/>
<text transform="translate(196.40,477.91) scale(1.06,1)" font-size="5.1" text-anchor="middle" fill="#383838" stroke="#383838" stroke-width="0.16">PRDM1</text>
<rect x="158.20" y="479.27" width="17.90" height="4.1" fill="#a3a3a3"/>
<rect x="216.10" y="479.27" width="45.50" height="4.1" fill="#b2c4d5"/>
<line x1="176.6" y1="481.32" x2="179.6" y2="481.32" stroke="#111" stroke-width="1"/>
<line x1="212.8" y1="481.32" x2="215.8" y2="481.32" stroke="#111" stroke-width="1"/>
<text transform="translate(196.40,483.17) scale(1.06,1)" font-size="5.1" text-anchor="middle" fill="#383838" stroke="#383838" stroke-width="0.16">TGDS</text>
<rect x="161.50" y="484.53" width="14.60" height="4.1" fill="#a3a3a3"/>
<rect x="216.10" y="484.53" width="12.20" height="4.1" fill="#5c6f86"/>
<rect x="228.30" y="484.53" width="39.90" height="4.1" fill="#b2c4d5"/>
<line x1="176.6" y1="486.58" x2="179.6" y2="486.58" stroke="#111" stroke-width="1"/>
<line x1="212.8" y1="486.58" x2="215.8" y2="486.58" stroke="#111" stroke-width="1"/>
<text transform="translate(196.40,488.43) scale(1.06,1)" font-size="5.1" text-anchor="middle" fill="#383838" stroke="#383838" stroke-width="0.16">NCOR1</text>
<rect x="162.80" y="489.79" width="13.30" height="4.1" fill="#a3a3a3"/>
<rect x="216.10" y="489.79" width="20.50" height="4.1" fill="#5c6f86"/>
<rect x="236.60" y="489.79" width="40.80" height="4.1" fill="#b2c4d5"/>
<line x1="176.6" y1="491.84" x2="179.6" y2="491.84" stroke="#111" stroke-width="1"/>
<line x1="212.8" y1="491.84" x2="215.8" y2="491.84" stroke="#111" stroke-width="1"/>
<text transform="translate(196.40,493.69) scale(1.06,1)" font-size="5.1" text-anchor="middle" fill="#383838" stroke="#383838" stroke-width="0.16">ARID2</text>
<rect x="164.30" y="495.05" width="11.80" height="4.1" fill="#a3a3a3"/>
<rect x="216.10" y="495.05" width="20.60" height="4.1" fill="#5c6f86"/>
<rect x="236.70" y="495.05" width="20.90" height="4.1" fill="#b2c4d5"/>
<line x1="176.6" y1="497.10" x2="179.6" y2="497.10" stroke="#111" stroke-width="1"/>
<line x1="212.8" y1="497.10" x2="215.8" y2="497.10" stroke="#111" stroke-width="1"/>
<text transform="translate(196.40,498.95) scale(1.06,1)" font-size="5.1" text-anchor="middle" fill="#383838" stroke="#383838" stroke-width="0.16">HUWE1</text>
<rect x="164.30" y="500.31" width="11.80" height="4.1" fill="#a3a3a3"/>
<rect x="216.10" y="500.31" width="68.60" height="4.1" fill="#5c6f86"/>
<rect x="284.70" y="500.31" width="32.30" height="4.1" fill="#b2c4d5"/>
<line x1="176.6" y1="502.36" x2="179.6" y2="502.36" stroke="#111" stroke-width="1"/>
<line x1="212.8" y1="502.36" x2="215.8" y2="502.36" stroke="#111" stroke-width="1"/>
<text transform="translate(196.40,504.21) scale(1.06,1)" font-size="5.1" text-anchor="middle" fill="#383838" stroke="#383838" stroke-width="0.16">CYLD</text>
<rect x="167.00" y="505.57" width="9.10" height="4.1" fill="#a3a3a3"/>
<rect x="216.10" y="505.57" width="40.90" height="4.1" fill="#5c6f86"/>
<rect x="257.00" y="505.57" width="33.90" height="4.1" fill="#b2c4d5"/>
<line x1="176.6" y1="507.62" x2="179.6" y2="507.62" stroke="#111" stroke-width="1"/>
<line x1="212.8" y1="507.62" x2="215.8" y2="507.62" stroke="#111" stroke-width="1"/>
<text transform="translate(196.40,509.47) scale(1.06,1)" font-size="5.1" text-anchor="middle" fill="#383838" stroke="#383838" stroke-width="0.16">SP140</text>
<rect x="167.00" y="510.83" width="3.00" height="4.1" fill="#8a8a8a"/>
<rect x="170.00" y="510.83" width="6.10" height="4.1" fill="#a3a3a3"/>
<rect x="216.10" y="510.83" width="17.90" height="4.1" fill="#5c6f86"/>
<rect x="234.00" y="510.83" width="16.20" height="4.1" fill="#b2c4d5"/>
<line x1="176.6" y1="512.88" x2="179.6" y2="512.88" stroke="#111" stroke-width="1"/>
<line x1="212.8" y1="512.88" x2="215.8" y2="512.88" stroke="#111" stroke-width="1"/>
<text transform="translate(196.40,514.73) scale(1.06,1)" font-size="5.1" text-anchor="middle" fill="#383838" stroke="#383838" stroke-width="0.16">ATM</text>
<rect x="167.20" y="516.09" width="8.90" height="4.1" fill="#a3a3a3"/>
<rect x="216.10" y="516.09" width="34.90" height="4.1" fill="#5c6f86"/>
<rect x="251.00" y="516.09" width="30.50" height="4.1" fill="#b2c4d5"/>
<line x1="176.6" y1="518.14" x2="179.6" y2="518.14" stroke="#111" stroke-width="1"/>
<line x1="212.8" y1="518.14" x2="215.8" y2="518.14" stroke="#111" stroke-width="1"/>
<text transform="translate(196.40,519.99) scale(1.06,1)" font-size="5.1" text-anchor="middle" fill="#383838" stroke="#383838" stroke-width="0.16">UBR5</text>
<rect x="167.70" y="521.35" width="8.40" height="4.1" fill="#a3a3a3"/>
<rect x="216.10" y="521.35" width="29.60" height="4.1" fill="#5c6f86"/>
<rect x="245.70" y="521.35" width="20.10" height="4.1" fill="#b2c4d5"/>
<line x1="176.6" y1="523.40" x2="179.6" y2="523.40" stroke="#111" stroke-width="1"/>
<line x1="212.8" y1="523.40" x2="215.8" y2="523.40" stroke="#111" stroke-width="1"/>
<text transform="translate(196.40,525.25) scale(1.06,1)" font-size="5.1" text-anchor="middle" fill="#383838" stroke="#383838" stroke-width="0.16">KMT2B</text>
<rect x="167.70" y="526.61" width="8.40" height="4.1" fill="#a3a3a3"/>
<rect x="216.10" y="526.61" width="28.70" height="4.1" fill="#5c6f86"/>
<rect x="244.80" y="526.61" width="25.90" height="4.1" fill="#b2c4d5"/>
<line x1="176.6" y1="528.66" x2="179.6" y2="528.66" stroke="#111" stroke-width="1"/>
<line x1="212.8" y1="528.66" x2="215.8" y2="528.66" stroke="#111" stroke-width="1"/>
<text transform="translate(196.40,530.51) scale(1.06,1)" font-size="5.1" text-anchor="middle" fill="#383838" stroke="#383838" stroke-width="0.16">ARID1A</text>
<rect x="167.40" y="531.87" width="8.70" height="4.1" fill="#a3a3a3"/>
<rect x="216.10" y="531.87" width="51.10" height="4.1" fill="#5c6f86"/>
<rect x="267.20" y="531.87" width="40.40" height="4.1" fill="#b2c4d5"/>
<line x1="176.6" y1="533.92" x2="179.6" y2="533.92" stroke="#111" stroke-width="1"/>
<line x1="212.8" y1="533.92" x2="215.8" y2="533.92" stroke="#111" stroke-width="1"/>
<text transform="translate(196.40,535.77) scale(1.06,1)" font-size="5.1" text-anchor="middle" fill="#383838" stroke="#383838" stroke-width="0.16">TRAF2</text>
<rect x="169.20" y="537.13" width="6.90" height="4.1" fill="#a3a3a3"/>
<rect x="216.10" y="537.13" width="3.40" height="4.1" fill="#5c6f86"/>
<rect x="219.50" y="537.13" width="30.20" height="4.1" fill="#b2c4d5"/>
<line x1="176.6" y1="539.18" x2="179.6" y2="539.18" stroke="#111" stroke-width="1"/>
<line x1="212.8" y1="539.18" x2="215.8" y2="539.18" stroke="#111" stroke-width="1"/>
<text transform="translate(196.40,541.03) scale(1.06,1)" font-size="5.1" text-anchor="middle" fill="#383838" stroke="#383838" stroke-width="0.16">KMT2C</text>
<rect x="169.20" y="542.39" width="6.90" height="4.1" fill="#a3a3a3"/>
<rect x="216.10" y="542.39" width="46.50" height="4.1" fill="#5c6f86"/>
<rect x="262.60" y="542.39" width="18.10" height="4.1" fill="#b2c4d5"/>
<line x1="176.6" y1="544.44" x2="179.6" y2="544.44" stroke="#111" stroke-width="1"/>
<line x1="212.8" y1="544.44" x2="215.8" y2="544.44" stroke="#111" stroke-width="1"/>
<text transform="translate(196.40,546.29) scale(1.06,1)" font-size="5.1" text-anchor="middle" fill="#383838" stroke="#383838" stroke-width="0.16">ZNF292</text>
<rect x="216.10" y="547.65" width="21.90" height="4.1" fill="#5c6f86"/>
<rect x="238.00" y="547.65" width="25.70" height="4.1" fill="#b2c4d5"/>
<line x1="176.6" y1="549.70" x2="179.6" y2="549.70" stroke="#111" stroke-width="1"/>
<line x1="212.8" y1="549.70" x2="215.8" y2="549.70" stroke="#111" stroke-width="1"/>
<text transform="translate(196.40,551.55) scale(1.06,1)" font-size="5.1" text-anchor="middle" fill="#383838" stroke="#383838" stroke-width="0.16">KDM6A</text>
<rect x="216.10" y="552.91" width="20.10" height="4.1" fill="#5c6f86"/>
<rect x="236.20" y="552.91" width="27.50" height="4.1" fill="#b2c4d5"/>
<line x1="176.6" y1="554.96" x2="179.6" y2="554.96" stroke="#111" stroke-width="1"/>
<line x1="212.8" y1="554.96" x2="215.8" y2="554.96" stroke="#111" stroke-width="1"/>
<text transform="translate(196.40,556.81) scale(1.06,1)" font-size="5.1" text-anchor="middle" fill="#383838" stroke="#383838" stroke-width="0.16">DNMT3A</text>
<rect x="216.10" y="558.17" width="29.60" height="4.1" fill="#5c6f86"/>
<rect x="245.70" y="558.17" width="22.00" height="4.1" fill="#b2c4d5"/>
<line x1="176.6" y1="560.22" x2="179.6" y2="560.22" stroke="#111" stroke-width="1"/>
<line x1="212.8" y1="560.22" x2="215.8" y2="560.22" stroke="#111" stroke-width="1"/>
<text transform="translate(196.40,562.07) scale(1.06,1)" font-size="5.1" text-anchor="middle" fill="#383838" stroke="#383838" stroke-width="0.16">SETD2</text>
<rect x="216.10" y="563.43" width="38.40" height="4.1" fill="#5c6f86"/>
<rect x="254.50" y="563.43" width="22.70" height="4.1" fill="#b2c4d5"/>
<line x1="176.6" y1="565.48" x2="179.6" y2="565.48" stroke="#111" stroke-width="1"/>
<line x1="212.8" y1="565.48" x2="215.8" y2="565.48" stroke="#111" stroke-width="1"/>
<text transform="translate(196.40,567.33) scale(1.06,1)" font-size="5.1" text-anchor="middle" fill="#383838" stroke="#383838" stroke-width="0.16">KDM5C</text>
<rect x="216.10" y="568.69" width="26.10" height="4.1" fill="#5c6f86"/>
<rect x="242.20" y="568.69" width="38.50" height="4.1" fill="#b2c4d5"/>
<line x1="176.6" y1="570.74" x2="179.6" y2="570.74" stroke="#111" stroke-width="1"/>
<line x1="212.8" y1="570.74" x2="215.8" y2="570.74" stroke="#111" stroke-width="1"/>
<text transform="translate(196.40,572.59) scale(1.06,1)" font-size="5.1" text-anchor="middle" fill="#383838" stroke="#383838" stroke-width="0.16">FUBP1</text>
<rect x="216.10" y="573.95" width="26.10" height="4.1" fill="#5c6f86"/>
<rect x="242.20" y="573.95" width="41.20" height="4.1" fill="#b2c4d5"/>
<line x1="176.6" y1="576.00" x2="179.6" y2="576.00" stroke="#111" stroke-width="1"/>
<line x1="212.8" y1="576.00" x2="215.8" y2="576.00" stroke="#111" stroke-width="1"/>
<text transform="translate(196.40,577.85) scale(1.06,1)" font-size="5.1" text-anchor="middle" fill="#383838" stroke="#383838" stroke-width="0.16">EP300</text>
<rect x="216.10" y="579.21" width="24.20" height="4.1" fill="#5c6f86"/>
<rect x="240.30" y="579.21" width="51.70" height="4.1" fill="#b2c4d5"/>
<line x1="176.6" y1="581.26" x2="179.6" y2="581.26" stroke="#111" stroke-width="1"/>
<line x1="212.8" y1="581.26" x2="215.8" y2="581.26" stroke="#111" stroke-width="1"/>
<text transform="translate(196.40,583.11) scale(1.06,1)" font-size="5.1" text-anchor="middle" fill="#383838" stroke="#383838" stroke-width="0.16">NF1</text>
<rect x="216.10" y="584.47" width="35.70" height="4.1" fill="#5c6f86"/>
<rect x="251.80" y="584.47" width="55.80" height="4.1" fill="#b2c4d5"/>
<line x1="176.6" y1="586.52" x2="179.6" y2="586.52" stroke="#111" stroke-width="1"/>
<line x1="212.8" y1="586.52" x2="215.8" y2="586.52" stroke="#111" stroke-width="1"/>
<text transform="translate(196.40,588.37) scale(1.06,1)" font-size="5.1" text-anchor="middle" fill="#383838" stroke="#383838" stroke-width="0.16">RASA2</text>
<rect x="216.10" y="589.73" width="46.50" height="4.1" fill="#5c6f86"/>
<rect x="262.60" y="589.73" width="67.90" height="4.1" fill="#b2c4d5"/>
<line x1="176.6" y1="591.78" x2="179.6" y2="591.78" stroke="#111" stroke-width="1"/>
<line x1="212.8" y1="591.78" x2="215.8" y2="591.78" stroke="#111" stroke-width="1"/>
<text transform="translate(196.40,593.63) scale(1.06,1)" font-size="5.1" text-anchor="middle" fill="#383838" stroke="#383838" stroke-width="0.16">RB1</text>
<rect x="216.10" y="594.99" width="71.90" height="4.1" fill="#5c6f86"/>
<rect x="288.00" y="594.99" width="54.00" height="4.1" fill="#b2c4d5"/>
<line x1="176.6" y1="597.04" x2="179.6" y2="597.04" stroke="#111" stroke-width="1"/>
<line x1="212.8" y1="597.04" x2="215.8" y2="597.04" stroke="#111" stroke-width="1"/>
<text transform="translate(196.40,598.89) scale(1.06,1)" font-size="5.1" text-anchor="middle" fill="#383838" stroke="#383838" stroke-width="0.16">NFKBIA</text>
<line x1="143.4" y1="335" x2="143.4" y2="602" stroke="#111" stroke-width="1.1" stroke-dasharray="1.1 1.5"/>
<line x1="248.7" y1="335" x2="248.7" y2="602" stroke="#111" stroke-width="1.1" stroke-dasharray="1.1 1.5"/>
<line x1="176.6" y1="336.2" x2="176.6" y2="603" stroke="#111" stroke-width="1.2"/>
<line x1="215.6" y1="336.2" x2="215.6" y2="603" stroke="#111" stroke-width="1.2"/>
<line x1="8.6" y1="602.5" x2="177" y2="602.5" stroke="#111" stroke-width="1"/>
<line x1="215" y1="602.5" x2="381" y2="602.5" stroke="#111" stroke-width="1"/>
<line x1="11.20" y1="602.5" x2="11.20" y2="605" stroke="#111" stroke-width="0.9"/>
<text transform="translate(11.20,613.60)" font-size="5.9" text-anchor="middle" fill="#1c1c1c" stroke="#1c1c1c" stroke-width="0.16">1.0</text>
<line x1="215.60" y1="602.5" x2="215.60" y2="605" stroke="#111" stroke-width="0.9"/>
<text transform="translate(215.60,613.60)" font-size="5.9" text-anchor="middle" fill="#1c1c1c" stroke="#1c1c1c" stroke-width="0.16">0.0</text>
<line x1="44.30" y1="602.5" x2="44.30" y2="605" stroke="#111" stroke-width="0.9"/>
<text transform="translate(44.30,613.60)" font-size="5.9" text-anchor="middle" fill="#1c1c1c" stroke="#1c1c1c" stroke-width="0.16">0.8</text>
<line x1="248.60" y1="602.5" x2="248.60" y2="605" stroke="#111" stroke-width="0.9"/>
<text transform="translate(248.60,613.60)" font-size="5.9" text-anchor="middle" fill="#1c1c1c" stroke="#1c1c1c" stroke-width="0.16">0.2</text>
<line x1="77.40" y1="602.5" x2="77.40" y2="605" stroke="#111" stroke-width="0.9"/>
<text transform="translate(77.40,613.60)" font-size="5.9" text-anchor="middle" fill="#1c1c1c" stroke="#1c1c1c" stroke-width="0.16">0.6</text>
<line x1="281.60" y1="602.5" x2="281.60" y2="605" stroke="#111" stroke-width="0.9"/>
<text transform="translate(281.60,613.60)" font-size="5.9" text-anchor="middle" fill="#1c1c1c" stroke="#1c1c1c" stroke-width="0.16">0.4</text>
<line x1="110.50" y1="602.5" x2="110.50" y2="605" stroke="#111" stroke-width="0.9"/>
<text transform="translate(110.50,613.60)" font-size="5.9" text-anchor="middle" fill="#1c1c1c" stroke="#1c1c1c" stroke-width="0.16">0.4</text>
<line x1="314.60" y1="602.5" x2="314.60" y2="605" stroke="#111" stroke-width="0.9"/>
<text transform="translate(314.60,613.60)" font-size="5.9" text-anchor="middle" fill="#1c1c1c" stroke="#1c1c1c" stroke-width="0.16">0.6</text>
<line x1="143.60" y1="602.5" x2="143.60" y2="605" stroke="#111" stroke-width="0.9"/>
<text transform="translate(143.60,613.60)" font-size="5.9" text-anchor="middle" fill="#1c1c1c" stroke="#1c1c1c" stroke-width="0.16">0.2</text>
<line x1="347.60" y1="602.5" x2="347.60" y2="605" stroke="#111" stroke-width="0.9"/>
<text transform="translate(347.60,613.60)" font-size="5.9" text-anchor="middle" fill="#1c1c1c" stroke="#1c1c1c" stroke-width="0.16">0.8</text>
<line x1="176.70" y1="602.5" x2="176.70" y2="605" stroke="#111" stroke-width="0.9"/>
<text transform="translate(176.70,613.60)" font-size="5.9" text-anchor="middle" fill="#1c1c1c" stroke="#1c1c1c" stroke-width="0.16">0.0</text>
<line x1="380.60" y1="602.5" x2="380.60" y2="605" stroke="#111" stroke-width="0.9"/>
<text transform="translate(380.60,613.60)" font-size="5.9" text-anchor="middle" fill="#1c1c1c" stroke="#1c1c1c" stroke-width="0.16">1.0</text>
</g>
<g id="panelD">
<text transform="translate(394.60,323.80)" font-size="11.4" font-weight="bold" fill="#111">D</text>
<line x1="422.5" y1="342.5" x2="422.5" y2="603" stroke="#111" stroke-width="1"/>
<line x1="422" y1="602.5" x2="513" y2="602.5" stroke="#111" stroke-width="1"/>
<line x1="419.2" y1="592.50" x2="422.5" y2="592.50" stroke="#111" stroke-width="0.9"/>
<text transform="translate(416.20,594.50)" font-size="5.6" text-anchor="end" fill="#1c1c1c" stroke="#1c1c1c" stroke-width="0.16">0.0</text>
<line x1="419.2" y1="543.00" x2="422.5" y2="543.00" stroke="#111" stroke-width="0.9"/>
<text transform="translate(416.20,545.00)" font-size="5.6" text-anchor="end" fill="#1c1c1c" stroke="#1c1c1c" stroke-width="0.16">0.2</text>
<line x1="419.2" y1="493.50" x2="422.5" y2="493.50" stroke="#111" stroke-width="0.9"/>
<text transform="translate(416.20,495.50)" font-size="5.6" text-anchor="end" fill="#1c1c1c" stroke="#1c1c1c" stroke-width="0.16">0.4</text>
<line x1="419.2" y1="444.00" x2="422.5" y2="444.00" stroke="#111" stroke-width="0.9"/>
<text transform="translate(416.20,446.00)" font-size="5.6" text-anchor="end" fill="#1c1c1c" stroke="#1c1c1c" stroke-width="0.16">0.6</text>
<line x1="419.2" y1="394.50" x2="422.5" y2="394.50" stroke="#111" stroke-width="0.9"/>
<text transform="translate(416.20,396.50)" font-size="5.6" text-anchor="end" fill="#1c1c1c" stroke="#1c1c1c" stroke-width="0.16">0.8</text>
<line x1="419.2" y1="345.00" x2="422.5" y2="345.00" stroke="#111" stroke-width="0.9"/>
<text transform="translate(416.20,347.00)" font-size="5.6" text-anchor="end" fill="#1c1c1c" stroke="#1c1c1c" stroke-width="0.16">1.0</text>
<text transform="translate(401.60,472.40) rotate(-90) scale(0.78,1)" font-size="6.8" text-anchor="middle" fill="#1c1c1c" stroke="#1c1c1c" stroke-width="0.16">CCF</text>
<line x1="446.4" y1="602.5" x2="446.4" y2="605.5" stroke="#111" stroke-width="0.9"/>
<text transform="translate(446.40,613.70) scale(1.12,1)" font-size="5.8" text-anchor="middle" fill="#1c1c1c" stroke="#1c1c1c" stroke-width="0.16">ONC</text>
<line x1="488.4" y1="602.5" x2="488.4" y2="605.5" stroke="#111" stroke-width="0.9"/>
<text transform="translate(488.40,613.70)" font-size="5.8" text-anchor="middle" fill="#1c1c1c" stroke="#1c1c1c" stroke-width="0.16">TSG</text>
<text transform="translate(472.40,357.20) scale(1.1,1)" font-size="5.0" text-anchor="middle" fill="#1c1c1c" stroke="#1c1c1c" stroke-width="0.16">p&lt;0.001</text>
<line x1="446.3" y1="372.7" x2="446.3" y2="400.4" stroke="#111" stroke-width="1.15" stroke-dasharray="3 3.5"/>
<line x1="446.3" y1="451.9" x2="446.3" y2="480" stroke="#111" stroke-width="1.15" stroke-dasharray="3 3.5"/>
<line x1="446.3" y1="446.3" x2="446.3" y2="447.9" stroke="#111" stroke-width="1.15"/>
<line x1="446.3" y1="366.4" x2="446.3" y2="367.6" stroke="#111" stroke-width="1.15"/>
<line x1="438.1" y1="366.4" x2="454.8" y2="366.4" stroke="#111" stroke-width="1"/>
<line x1="438.1" y1="480" x2="454.8" y2="480" stroke="#111" stroke-width="1"/>
<rect x="429.5" y="400.3" width="34.2" height="46.1" fill="#8b1c2e"/>
<line x1="429.5" y1="427.1" x2="463.7" y2="427.1" stroke="#250709" stroke-width="1.5"/>
<line x1="488.4" y1="400.5" x2="488.4" y2="447" stroke="#111" stroke-width="1.15" stroke-dasharray="3 3.5"/>
<line x1="488.4" y1="490" x2="488.4" y2="518" stroke="#111" stroke-width="1.15" stroke-dasharray="3 3.5"/>
<line x1="488.4" y1="484.4" x2="488.4" y2="486.3" stroke="#111" stroke-width="1.15"/>
<line x1="488.4" y1="394.2" x2="488.4" y2="395.4" stroke="#111" stroke-width="1.15"/>
<line x1="480" y1="394.2" x2="497" y2="394.2" stroke="#111" stroke-width="1"/>
<line x1="480" y1="517.8" x2="497" y2="517.8" stroke="#111" stroke-width="1"/>
<rect x="471.7" y="447" width="33.7" height="37.4" fill="#a9c1d6"/>
<line x1="471.7" y1="457" x2="505.4" y2="457" stroke="#0d2340" stroke-width="1.5"/>
</g><rect x="0" y="0" width="520" height="1" fill="#000"/><rect x="0" y="0" width="1.2" height="621" fill="#000"/><rect x="518.6" y="0" width="1.4" height="621" fill="#000"/><rect x="0" y="619.2" width="520" height="1.8" fill="#000"/></svg>
</body></html>
